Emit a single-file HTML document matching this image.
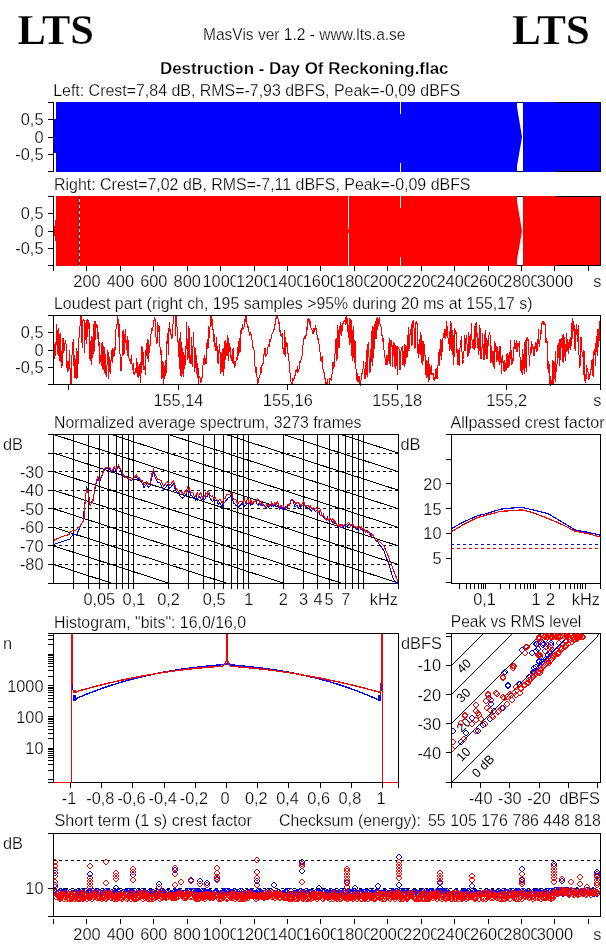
<!DOCTYPE html><html><head><meta charset="utf-8"><title>MasVis</title><style>html,body{margin:0;padding:0;background:#fff;overflow:hidden}svg{display:block}text{font-family:"Liberation Sans",Arial,sans-serif;stroke:#fff;stroke-width:0.25px}</style></head><body>
<svg width="606" height="946" viewBox="0 0 606 946">
<rect x="0" y="0" width="606" height="946" fill="#fff"/>
<text x="17.50" y="44" font-size="41.5" textLength="76.50" lengthAdjust="spacingAndGlyphs" font-weight="bold" style='font-family:"Liberation Serif", "Times New Roman", serif'>LTS</text>
<text x="512.00" y="44" font-size="41.5" textLength="78.00" lengthAdjust="spacingAndGlyphs" font-weight="bold" style='font-family:"Liberation Serif", "Times New Roman", serif'>LTS</text>
<text x="203.00" y="40" font-size="17.2" textLength="202.50" lengthAdjust="spacingAndGlyphs">MasVis ver 1.2 - www.lts.a.se</text>
<text x="160.00" y="74" font-size="16.5" textLength="288.50" lengthAdjust="spacingAndGlyphs" font-weight="bold">Destruction - Day Of Reckoning.flac</text>
<text x="53.20" y="96" font-size="17.2" textLength="407.00" lengthAdjust="spacingAndGlyphs">Left: Crest=7,84 dB, RMS=-7,93 dBFS, Peak=-0,09 dBFS</text>
<rect x="54" y="119" width="2" height="34" fill="#00f"/>
<rect x="56" y="102" width="544" height="70" fill="#00f"/>
<rect x="53" y="102" width="1" height="70" fill="#000"/>
<rect x="600" y="102" width="1" height="70" fill="#000"/>
<rect x="556" y="102" width="45" height="1" fill="#000"/>
<rect x="556" y="171" width="45" height="1" fill="#000"/>
<rect x="400" y="102" width="1" height="12" fill="#fff"/>
<rect x="400" y="163" width="1" height="9" fill="#fff"/>
<polygon points="517,102 523,102 523,172 517,172 517,166 522,137 517,107" fill="#fff"/>
<rect x="517" y="102" width="6" height="1" fill="#000"/>
<rect x="517" y="171" width="6" height="1" fill="#000"/>
<rect x="48" y="102" width="6" height="1" fill="#000"/>
<rect x="48" y="119" width="6" height="1" fill="#000"/>
<text x="43.50" y="125" font-size="17.2" text-anchor="end" textLength="22.71" lengthAdjust="spacingAndGlyphs">0,5</text>
<rect x="48" y="137" width="6" height="1" fill="#000"/>
<text x="43.50" y="143" font-size="17.2" text-anchor="end" textLength="9.09" lengthAdjust="spacingAndGlyphs">0</text>
<rect x="48" y="154" width="6" height="1" fill="#000"/>
<text x="43.50" y="160" font-size="17.2" text-anchor="end" textLength="28.16" lengthAdjust="spacingAndGlyphs">-0,5</text>
<rect x="48" y="171" width="6" height="1" fill="#000"/>
<text x="54.00" y="190" font-size="17.2" textLength="416.50" lengthAdjust="spacingAndGlyphs">Right: Crest=7,02 dB, RMS=-7,11 dBFS, Peak=-0,09 dBFS</text>
<rect x="55" y="220" width="1" height="21" fill="#f00"/>
<rect x="54" y="226" width="1" height="10" fill="#f00"/>
<rect x="56" y="196" width="544" height="70" fill="#f00"/>
<rect x="53" y="196" width="1" height="70" fill="#000"/>
<rect x="600" y="196" width="1" height="70" fill="#000"/>
<rect x="556" y="196" width="45" height="1" fill="#000"/>
<rect x="556" y="265" width="45" height="1" fill="#000"/>
<rect x="79" y="196" width="1" height="70" fill="#fff"/>
<rect x="79" y="196" width="1" height="3" fill="#000"/>
<rect x="79" y="202" width="1" height="3" fill="#000"/>
<rect x="79" y="208" width="1" height="3" fill="#000"/>
<rect x="79" y="214" width="1" height="3" fill="#000"/>
<rect x="79" y="220" width="1" height="3" fill="#000"/>
<rect x="79" y="226" width="1" height="3" fill="#000"/>
<rect x="79" y="232" width="1" height="3" fill="#000"/>
<rect x="79" y="238" width="1" height="3" fill="#000"/>
<rect x="79" y="244" width="1" height="3" fill="#000"/>
<rect x="79" y="250" width="1" height="3" fill="#000"/>
<rect x="79" y="256" width="1" height="3" fill="#000"/>
<rect x="79" y="262" width="1" height="3" fill="#000"/>
<rect x="348" y="196" width="1" height="33" fill="#fff"/>
<rect x="348" y="233" width="1" height="33" fill="#fff"/>
<rect x="400" y="196" width="1" height="12" fill="#fff"/>
<rect x="400" y="257" width="1" height="9" fill="#fff"/>
<polygon points="517,196 523,196 523,266 517,266 517,260 522,231 517,201" fill="#fff"/>
<rect x="517" y="196" width="6" height="1" fill="#000"/>
<rect x="517" y="265" width="6" height="1" fill="#000"/>
<rect x="48" y="196" width="6" height="1" fill="#000"/>
<rect x="48" y="213" width="6" height="1" fill="#000"/>
<text x="43.50" y="219" font-size="17.2" text-anchor="end" textLength="22.71" lengthAdjust="spacingAndGlyphs">0,5</text>
<rect x="48" y="231" width="6" height="1" fill="#000"/>
<text x="43.50" y="237" font-size="17.2" text-anchor="end" textLength="9.09" lengthAdjust="spacingAndGlyphs">0</text>
<rect x="48" y="248" width="6" height="1" fill="#000"/>
<text x="43.50" y="254" font-size="17.2" text-anchor="end" textLength="28.16" lengthAdjust="spacingAndGlyphs">-0,5</text>
<rect x="48" y="265" width="6" height="1" fill="#000"/>
<rect x="53" y="266" width="1" height="5" fill="#000"/>
<rect x="86" y="266" width="1" height="5" fill="#000"/>
<rect x="120" y="266" width="1" height="5" fill="#000"/>
<rect x="153" y="266" width="1" height="5" fill="#000"/>
<rect x="187" y="266" width="1" height="5" fill="#000"/>
<rect x="220" y="266" width="1" height="5" fill="#000"/>
<rect x="254" y="266" width="1" height="5" fill="#000"/>
<rect x="287" y="266" width="1" height="5" fill="#000"/>
<rect x="320" y="266" width="1" height="5" fill="#000"/>
<rect x="354" y="266" width="1" height="5" fill="#000"/>
<rect x="387" y="266" width="1" height="5" fill="#000"/>
<rect x="421" y="266" width="1" height="5" fill="#000"/>
<rect x="454" y="266" width="1" height="5" fill="#000"/>
<rect x="488" y="266" width="1" height="5" fill="#000"/>
<rect x="521" y="266" width="1" height="5" fill="#000"/>
<rect x="554" y="266" width="1" height="5" fill="#000"/>
<rect x="588" y="266" width="1" height="5" fill="#000"/>
<rect x="73.2986103125" y="274" width="27.762779374999997" height="14" fill="#fff"/>
<text x="86.93" y="287" font-size="17.2" text-anchor="middle" textLength="27.26" lengthAdjust="spacingAndGlyphs">200</text>
<rect x="106.7286103125" y="274" width="27.762779374999997" height="14" fill="#fff"/>
<text x="120.36" y="287" font-size="17.2" text-anchor="middle" textLength="27.26" lengthAdjust="spacingAndGlyphs">400</text>
<rect x="140.1586103125" y="274" width="27.762779374999997" height="14" fill="#fff"/>
<text x="153.79" y="287" font-size="17.2" text-anchor="middle" textLength="27.26" lengthAdjust="spacingAndGlyphs">600</text>
<rect x="173.5886103125" y="274" width="27.762779374999997" height="14" fill="#fff"/>
<text x="187.22" y="287" font-size="17.2" text-anchor="middle" textLength="27.26" lengthAdjust="spacingAndGlyphs">800</text>
<rect x="202.47481375" y="274" width="36.85037249999999" height="14" fill="#fff"/>
<text x="220.65" y="287" font-size="17.2" text-anchor="middle" textLength="36.35" lengthAdjust="spacingAndGlyphs">1000</text>
<rect x="235.90481375" y="274" width="36.85037249999999" height="14" fill="#fff"/>
<text x="254.08" y="287" font-size="17.2" text-anchor="middle" textLength="36.35" lengthAdjust="spacingAndGlyphs">1200</text>
<rect x="269.33481374999997" y="274" width="36.85037249999999" height="14" fill="#fff"/>
<text x="287.51" y="287" font-size="17.2" text-anchor="middle" textLength="36.35" lengthAdjust="spacingAndGlyphs">1400</text>
<rect x="302.76481375000003" y="274" width="36.85037249999999" height="14" fill="#fff"/>
<text x="320.94" y="287" font-size="17.2" text-anchor="middle" textLength="36.35" lengthAdjust="spacingAndGlyphs">1600</text>
<rect x="336.19481375" y="274" width="36.85037249999999" height="14" fill="#fff"/>
<text x="354.37" y="287" font-size="17.2" text-anchor="middle" textLength="36.35" lengthAdjust="spacingAndGlyphs">1800</text>
<rect x="369.62481375000004" y="274" width="36.85037249999999" height="14" fill="#fff"/>
<text x="387.80" y="287" font-size="17.2" text-anchor="middle" textLength="36.35" lengthAdjust="spacingAndGlyphs">2000</text>
<rect x="403.05481375" y="274" width="36.85037249999999" height="14" fill="#fff"/>
<text x="421.23" y="287" font-size="17.2" text-anchor="middle" textLength="36.35" lengthAdjust="spacingAndGlyphs">2200</text>
<rect x="436.48481374999994" y="274" width="36.85037249999999" height="14" fill="#fff"/>
<text x="454.66" y="287" font-size="17.2" text-anchor="middle" textLength="36.35" lengthAdjust="spacingAndGlyphs">2400</text>
<rect x="469.91481375" y="274" width="36.85037249999999" height="14" fill="#fff"/>
<text x="488.09" y="287" font-size="17.2" text-anchor="middle" textLength="36.35" lengthAdjust="spacingAndGlyphs">2600</text>
<rect x="503.34481374999996" y="274" width="36.85037249999999" height="14" fill="#fff"/>
<text x="521.52" y="287" font-size="17.2" text-anchor="middle" textLength="36.35" lengthAdjust="spacingAndGlyphs">2800</text>
<rect x="536.77481375" y="274" width="36.85037249999999" height="14" fill="#fff"/>
<text x="554.95" y="287" font-size="17.2" text-anchor="middle" textLength="36.35" lengthAdjust="spacingAndGlyphs">3000</text>
<text x="601.50" y="287" font-size="17.2" text-anchor="end" textLength="8.17" lengthAdjust="spacingAndGlyphs">s</text>
<text x="54.00" y="309" font-size="17.2" textLength="478.50" lengthAdjust="spacingAndGlyphs">Loudest part (right ch, 195 samples &gt;95% during 20 ms at 155,17 s)</text>
<g shape-rendering="crispEdges">
<polyline points="54.0,343.9 54.5,347.7 54.9,358.8 55.4,348.1 55.8,344.1 56.3,345.2 56.7,324.5 57.2,333.5 57.6,342.0 58.1,356.1 58.5,327.7 59.0,334.5 59.4,336.6 59.9,360.0 60.3,362.2 60.8,332.6 61.2,367.0 61.7,367.2 62.1,365.2 62.6,360.4 63.0,338.0 63.5,339.9 63.9,352.5 64.4,346.7 64.8,344.4 65.3,342.1 65.7,339.8 66.2,345.8 66.6,348.2 67.1,372.3 67.5,360.7 68.0,366.7 68.4,360.9 68.9,371.0 69.3,362.2 69.8,350.3 70.2,384.5 70.7,384.5 71.1,383.5 71.6,382.3 72.0,355.3 72.5,343.0 72.9,343.0 73.4,339.4 73.8,366.2 74.3,355.4 74.7,377.5 75.2,359.1 75.6,378.0 76.1,378.2 76.5,348.0 77.0,349.5 77.4,378.0 77.9,361.3 78.3,363.7 78.8,345.7 79.2,332.2 79.7,329.3 80.1,325.4 80.6,316.6 81.0,315.5 81.5,317.8 81.9,341.4 82.4,347.7 82.8,320.5 83.3,319.9 83.7,320.6 84.2,320.8 84.6,353.2 85.1,323.5 85.5,339.5 86.0,335.7 86.4,320.0 86.9,344.1 87.3,318.9 87.8,336.6 88.2,319.7 88.7,328.8 89.1,323.0 89.6,325.4 90.0,358.7 90.5,360.9 90.9,341.2 91.4,365.2 91.8,336.9 92.3,337.3 92.7,358.1 93.2,351.1 93.6,323.7 94.1,351.1 94.5,326.7 95.0,320.7 95.4,339.6 95.9,328.7 96.3,326.2 96.8,324.1 97.2,326.0 97.7,339.2 98.1,332.4 98.6,346.3 99.0,342.1 99.5,345.7 99.9,363.5 100.4,355.0 100.8,356.1 101.3,366.2 101.7,345.6 102.2,342.2 102.6,367.9 103.1,369.7 103.5,352.1 104.0,346.2 104.4,365.5 104.9,373.1 105.3,353.9 105.8,374.6 106.2,375.4 106.7,371.8 107.1,362.7 107.6,350.8 108.0,351.4 108.5,378.7 108.9,358.7 109.4,372.3 109.8,357.0 110.3,373.7 110.7,368.3 111.2,356.1 111.6,350.1 112.1,363.1 112.5,349.2 113.0,348.7 113.4,351.4 113.9,356.5 114.3,353.9 114.8,346.6 115.2,349.6 115.7,334.0 116.1,327.6 116.6,323.6 117.0,325.8 117.5,315.5 117.9,317.2 118.4,323.4 118.8,337.4 119.3,324.4 119.7,332.1 120.2,365.7 120.6,370.3 121.1,370.4 121.5,366.3 122.0,357.9 122.4,332.1 122.9,331.1 123.3,330.6 123.8,354.7 124.2,352.8 124.7,353.0 125.1,328.9 125.6,342.6 126.0,341.8 126.5,350.4 126.9,340.0 127.4,355.6 127.8,336.2 128.3,346.0 128.7,355.2 129.2,359.4 129.6,360.3 130.1,360.0 130.5,362.6 131.0,364.1 131.4,355.0 131.9,362.6 132.3,368.7 132.8,370.3 133.2,363.2 133.7,372.4 134.1,374.9 134.6,372.2 135.0,373.4 135.5,368.2 135.9,371.2 136.4,372.1 136.8,357.7 137.3,368.0 137.7,376.2 138.2,376.3 138.6,377.8 139.1,363.7 139.5,375.8 140.0,371.8 140.4,362.5 140.9,383.1 141.3,345.7 141.8,373.1 142.2,347.1 142.7,364.0 143.1,363.4 143.6,351.9 144.0,370.1 144.5,365.7 144.9,368.1 145.4,375.0 145.8,354.5 146.2,344.9 146.7,343.5 147.1,358.7 147.6,342.7 148.0,338.9 148.5,361.6 148.9,356.2 149.4,344.6 149.8,352.5 150.3,336.4 150.7,340.0 151.2,330.8 151.6,327.8 152.1,329.5 152.5,330.0 153.0,327.3 153.4,320.8 153.9,320.9 154.3,320.0 154.8,317.5 155.2,321.0 155.7,334.6 156.1,338.1 156.6,340.3 157.0,343.6 157.5,330.4 157.9,322.3 158.4,331.8 158.8,327.9 159.3,325.7 159.7,337.2 160.2,353.1 160.6,354.0 161.1,349.7 161.5,373.6 162.0,378.9 162.4,373.0 162.9,360.9 163.3,365.4 163.8,384.5 164.2,366.5 164.7,378.8 165.1,374.7 165.6,360.3 166.0,373.7 166.5,344.9 166.9,340.6 167.4,344.2 167.8,332.9 168.3,355.1 168.7,333.1 169.2,324.7 169.6,321.9 170.1,334.3 170.5,329.4 171.0,334.6 171.4,335.0 171.9,339.2 172.3,336.4 172.8,333.1 173.2,315.5 173.7,315.6 174.1,315.5 174.6,315.5 175.0,315.5 175.5,335.6 175.9,315.5 176.4,315.5 176.8,317.3 177.3,341.3 177.7,337.8 178.2,344.3 178.6,356.7 179.1,338.3 179.5,362.5 180.0,368.9 180.4,331.6 180.9,375.2 181.3,377.0 181.8,342.2 182.2,353.7 182.7,364.4 183.1,376.6 183.6,352.1 184.0,354.5 184.5,368.6 184.9,365.9 185.4,363.3 185.8,345.9 186.3,348.7 186.7,322.2 187.2,348.6 187.6,360.2 188.1,354.2 188.5,357.5 189.0,326.3 189.4,362.3 189.9,362.8 190.3,363.3 190.8,354.6 191.2,364.3 191.7,336.8 192.1,365.8 192.6,367.3 193.0,346.7 193.5,332.4 193.9,344.7 194.4,356.5 194.8,371.7 195.3,363.4 195.7,348.5 196.2,373.6 196.6,354.9 197.1,377.6 197.5,363.3 198.0,367.6 198.4,383.8 198.9,378.2 199.3,376.9 199.8,377.2 200.2,379.4 200.7,381.6 201.1,380.3 201.6,381.2 202.0,376.6 202.5,377.8 202.9,367.3 203.4,357.8 203.8,362.3 204.3,355.5 204.7,364.7 205.2,363.2 205.6,358.1 206.1,364.1 206.5,356.0 207.0,343.0 207.4,338.9 207.9,349.2 208.3,346.2 208.8,326.4 209.2,337.8 209.7,334.8 210.1,325.3 210.6,321.2 211.0,315.5 211.5,321.2 211.9,324.5 212.4,330.3 212.8,319.1 213.3,341.9 213.7,337.3 214.2,334.3 214.6,347.2 215.1,345.1 215.5,344.3 216.0,351.4 216.4,337.2 216.9,346.6 217.3,346.5 217.8,361.9 218.2,363.6 218.7,350.2 219.1,353.1 219.6,343.9 220.0,351.4 220.5,369.7 220.9,373.6 221.4,365.4 221.8,356.1 222.3,348.6 222.7,363.5 223.2,376.2 223.6,348.0 224.1,369.1 224.5,342.2 225.0,340.9 225.4,339.6 225.9,359.8 226.3,346.2 226.8,343.5 227.2,356.0 227.7,334.8 228.1,360.7 228.6,338.2 229.0,352.5 229.5,344.8 229.9,343.4 230.4,357.3 230.8,357.9 231.3,356.6 231.7,358.3 232.2,362.5 232.6,349.4 233.1,349.2 233.5,361.6 234.0,364.4 234.4,361.0 234.9,367.8 235.3,363.0 235.8,365.5 236.2,357.1 236.7,358.1 237.1,359.2 237.6,359.6 238.0,347.0 238.5,341.4 238.9,356.3 239.4,338.5 239.8,353.2 240.3,351.0 240.7,332.2 241.2,328.4 241.6,333.5 242.1,329.2 242.5,324.1 243.0,329.5 243.4,326.9 243.9,328.6 244.3,321.9 244.8,320.2 245.2,320.9 245.7,315.5 246.1,315.5 246.6,318.1 247.0,323.8 247.5,328.3 247.9,325.6 248.4,327.7 248.8,331.8 249.3,333.0 249.7,336.1 250.2,334.7 250.6,333.5 251.1,334.6 251.5,336.6 252.0,339.9 252.4,343.8 252.9,347.8 253.3,347.7 253.8,349.0 254.2,351.2 254.7,359.8 255.1,367.8 255.6,372.5 256.0,369.1 256.5,367.1 256.9,376.8 257.4,378.4 257.8,384.0 258.3,381.4 258.7,379.3 259.2,377.9 259.6,375.3 260.1,375.1 260.5,367.5 261.0,370.2 261.4,372.9 261.9,366.0 262.3,364.4 262.8,366.2 263.2,362.6 263.7,357.3 264.1,353.0 264.6,353.9 265.0,348.3 265.5,354.0 265.9,355.9 266.4,355.2 266.8,355.7 267.3,352.8 267.7,348.1 268.2,346.7 268.6,344.3 269.1,346.5 269.5,345.2 270.0,339.5 270.4,340.6 270.9,339.2 271.3,337.9 271.8,336.2 272.2,332.6 272.7,333.0 273.1,332.0 273.6,330.8 274.0,329.5 274.5,328.2 274.9,324.8 275.4,324.2 275.8,319.2 276.3,317.4 276.7,316.6 277.2,315.5 277.6,315.5 278.1,319.6 278.5,322.9 279.0,321.7 279.4,329.6 279.9,332.2 280.3,330.2 280.8,335.8 281.2,336.3 281.7,336.6 282.1,333.1 282.6,348.9 283.0,347.9 283.5,349.7 283.9,353.5 284.4,355.3 284.8,330.4 285.3,346.2 285.7,356.6 286.2,342.0 286.6,346.6 287.1,343.2 287.5,346.8 288.0,353.5 288.4,354.0 288.9,357.6 289.3,368.2 289.8,371.9 290.2,374.7 290.7,381.4 291.1,382.7 291.6,384.5 292.0,384.5 292.5,384.5 292.9,379.1 293.4,379.2 293.8,380.5 294.3,374.6 294.7,378.8 295.2,373.7 295.6,373.3 296.1,369.4 296.5,370.3 297.0,371.9 297.4,365.9 297.9,372.9 298.3,370.3 298.8,369.1 299.2,368.3 299.7,364.2 300.1,360.1 300.6,361.5 301.0,360.4 301.5,355.8 301.9,357.3 302.4,352.8 302.8,346.0 303.3,342.9 303.7,339.9 304.2,337.2 304.6,338.2 305.1,335.3 305.5,337.4 306.0,335.9 306.4,327.3 306.9,329.8 307.3,329.3 307.8,320.5 308.2,321.3 308.7,319.1 309.1,319.4 309.6,324.6 310.0,321.3 310.5,322.4 310.9,327.6 311.4,329.1 311.8,327.8 312.3,332.7 312.7,333.8 313.2,333.9 313.6,328.2 314.1,331.0 314.5,331.2 315.0,328.6 315.4,325.4 315.9,329.8 316.3,327.9 316.8,331.8 317.2,337.7 317.7,339.2 318.1,338.2 318.6,342.5 319.0,343.5 319.5,349.5 319.9,350.6 320.4,358.0 320.8,360.2 321.3,362.1 321.7,358.9 322.2,356.1 322.6,365.1 323.1,370.2 323.5,372.4 324.0,372.0 324.4,372.2 324.9,377.7 325.3,380.8 325.8,383.4 326.2,384.0 326.7,384.5 327.1,381.4 327.6,379.5 328.0,384.5 328.5,384.5 328.9,384.5 329.4,381.9 329.8,378.6 330.3,378.3 330.7,379.3 331.2,381.0 331.6,374.8 332.1,373.5 332.5,366.2 333.0,361.6 333.4,369.3 333.9,366.4 334.3,366.4 334.8,355.1 335.2,353.8 335.7,339.7 336.1,339.1 336.6,356.0 337.0,361.2 337.5,326.3 337.9,325.2 338.4,347.7 338.8,344.6 339.3,348.1 339.7,326.4 340.2,328.0 340.6,322.0 341.1,336.3 341.5,325.6 342.0,326.8 342.4,330.6 342.9,324.1 343.3,322.1 343.8,321.9 344.2,321.8 344.7,320.3 345.1,320.1 345.6,317.1 346.0,324.7 346.5,315.5 346.9,315.8 347.4,325.3 347.8,328.0 348.3,337.9 348.7,325.5 349.2,345.0 349.6,318.7 350.1,319.2 350.5,342.5 351.0,320.2 351.4,323.0 351.9,353.4 352.3,361.1 352.8,335.5 353.2,326.5 353.7,335.7 354.1,363.2 354.6,350.2 355.0,340.0 355.5,365.1 355.9,366.3 356.4,378.1 356.8,379.0 357.3,380.0 357.7,373.0 358.2,381.6 358.6,377.1 359.1,376.3 359.5,378.0 360.0,383.9 360.4,384.5 360.9,380.5 361.3,377.4 361.8,374.8 362.2,372.4 362.7,370.6 363.1,368.5 363.6,361.1 364.0,369.2 364.5,378.8 364.9,371.4 365.4,379.2 365.8,370.9 366.3,350.2 366.7,370.6 367.2,376.7 367.6,354.3 368.1,341.9 368.5,351.9 369.0,357.4 369.4,359.4 369.9,373.0 370.3,368.9 370.8,371.7 371.2,331.2 371.7,347.7 372.1,366.0 372.6,327.3 373.0,326.3 373.5,348.8 373.9,357.7 374.4,324.4 374.8,339.6 375.3,321.3 375.7,339.3 376.2,337.9 376.6,322.4 377.1,317.3 377.5,330.2 378.0,326.3 378.4,325.9 378.9,320.7 379.3,316.8 379.8,322.5 380.2,325.2 380.7,326.0 381.1,327.8 381.6,332.1 382.0,335.8 382.5,341.9 382.9,335.4 383.4,347.7 383.8,347.8 384.3,353.6 384.7,356.5 385.2,359.5 385.6,362.4 386.1,365.0 386.5,363.0 387.0,354.8 387.4,361.0 387.9,365.4 388.3,351.9 388.8,348.5 389.2,338.2 389.7,358.3 390.1,365.9 390.6,353.1 391.0,340.2 391.5,340.5 391.9,347.2 392.4,344.6 392.8,366.9 393.3,342.4 393.7,345.1 394.2,343.4 394.6,358.3 395.1,368.9 395.5,348.3 396.0,345.4 396.4,352.8 396.9,362.0 397.3,374.8 397.8,347.4 398.2,347.9 398.7,348.4 399.1,348.9 399.6,349.4 400.0,370.4 400.5,369.4 400.9,352.1 401.4,347.4 401.8,347.3 402.3,345.6 402.7,364.6 403.2,351.1 403.6,356.4 404.1,367.3 404.5,356.0 405.0,344.2 405.4,363.5 405.9,362.0 406.3,346.6 406.8,347.8 407.2,357.3 407.7,346.9 408.1,331.9 408.6,327.3 409.0,350.5 409.5,349.5 409.9,334.4 410.4,334.5 410.8,333.1 411.3,324.0 411.7,346.4 412.2,344.4 412.6,325.8 413.1,320.3 413.5,327.9 414.0,327.9 414.4,347.0 414.9,348.7 415.3,344.6 415.8,323.0 416.2,321.5 416.7,324.2 417.1,323.0 417.6,353.3 418.0,344.4 418.5,348.8 418.9,357.8 419.4,339.1 419.8,345.2 420.3,331.6 420.7,354.8 421.2,334.6 421.6,357.8 422.1,363.6 422.5,364.4 423.0,341.2 423.4,342.8 423.9,360.7 424.3,344.5 424.8,354.0 425.2,356.8 425.7,375.1 426.1,370.4 426.6,377.5 427.0,360.5 427.5,377.0 427.9,366.4 428.4,382.1 428.8,357.5 429.3,379.8 429.7,363.6 430.2,372.2 430.6,374.5 431.1,365.4 431.5,375.3 432.0,374.3 432.4,374.4 432.9,372.7 433.3,375.0 433.8,378.3 434.2,381.1 434.7,377.8 435.1,378.3 435.6,371.4 436.0,369.5 436.5,368.3 436.9,379.0 437.4,377.8 437.8,374.3 438.3,352.0 438.7,353.3 439.2,365.5 439.6,349.1 440.1,355.5 440.5,351.6 441.0,339.3 441.4,359.6 441.9,357.1 442.3,337.9 442.8,343.8 443.2,334.1 443.7,333.7 444.1,338.1 444.6,330.8 445.0,329.4 445.5,330.2 445.9,339.3 446.4,326.4 446.8,320.9 447.3,337.7 447.7,326.3 448.2,344.3 448.6,339.3 449.1,345.2 449.5,330.8 450.0,350.5 450.4,322.2 450.9,323.0 451.3,323.8 451.8,344.7 452.2,355.4 452.7,330.1 453.1,336.9 453.6,365.1 454.0,358.4 454.5,329.2 454.9,329.7 455.4,330.2 455.8,330.7 456.3,337.7 456.7,331.8 457.2,365.2 457.6,349.8 458.1,350.5 458.5,357.4 459.0,364.7 459.4,365.9 459.9,349.8 460.3,343.0 460.8,344.7 461.2,335.8 461.7,340.2 462.1,355.7 462.6,363.2 463.0,362.7 463.5,359.5 463.9,355.5 464.4,335.3 464.8,337.3 465.3,339.1 465.7,350.9 466.2,335.0 466.6,339.2 467.1,345.0 467.5,355.5 468.0,356.6 468.4,351.2 468.9,331.6 469.3,348.7 469.8,353.1 470.2,345.6 470.7,334.1 471.1,336.2 471.6,322.9 472.0,340.2 472.5,347.9 472.9,339.7 473.4,344.7 473.8,348.8 474.3,326.4 474.7,350.1 475.2,346.1 475.6,325.7 476.1,322.1 476.5,322.4 477.0,337.3 477.4,347.5 477.9,333.3 478.3,355.4 478.8,338.2 479.2,338.3 479.7,324.7 480.1,358.0 480.6,328.5 481.0,359.3 481.5,349.0 481.9,347.4 482.4,347.1 482.8,332.9 483.3,359.1 483.7,359.1 484.2,359.1 484.6,353.8 485.1,329.7 485.5,355.0 486.0,337.9 486.4,358.9 486.9,337.7 487.3,346.3 487.8,358.8 488.2,336.1 488.7,345.1 489.1,332.7 489.6,333.4 490.0,334.2 490.5,361.3 490.9,362.4 491.4,361.7 491.8,346.0 492.3,357.6 492.7,363.9 493.2,351.5 493.6,357.8 494.1,369.0 494.5,342.2 495.0,343.0 495.4,352.4 495.9,344.6 496.3,350.7 496.8,361.6 497.2,347.5 497.7,359.5 498.1,350.8 498.6,361.8 499.0,354.0 499.5,365.3 499.9,346.1 500.4,363.0 500.8,345.6 501.3,374.0 501.7,367.7 502.2,359.8 502.6,355.2 503.1,362.8 503.5,367.2 504.0,370.9 504.4,371.3 504.9,360.0 505.3,370.7 505.8,370.3 506.2,369.8 506.7,356.9 507.1,353.1 507.6,357.1 508.0,367.8 508.5,359.5 508.9,356.2 509.4,351.6 509.8,365.9 510.3,349.9 510.7,340.3 511.2,356.2 511.6,363.9 512.1,363.4 512.5,357.7 513.0,361.3 513.4,347.0 513.9,352.9 514.3,340.1 514.8,340.1 515.2,345.1 515.7,348.9 516.1,346.7 516.6,340.4 517.0,351.7 517.5,351.2 517.9,343.3 518.4,343.4 518.8,346.7 519.3,342.1 519.7,341.3 520.2,366.5 520.6,370.1 521.1,370.1 521.5,373.1 522.0,359.9 522.4,375.2 522.9,348.6 523.3,368.4 523.8,363.8 524.2,374.3 524.7,342.3 525.1,367.5 525.6,340.2 526.0,353.6 526.5,371.7 526.9,338.5 527.4,338.1 527.8,340.0 528.3,342.4 528.7,338.9 529.2,364.3 529.6,365.9 530.1,352.4 530.5,347.4 531.0,353.7 531.4,342.0 531.9,342.5 532.3,348.0 532.8,347.0 533.2,348.0 533.7,353.2 534.1,356.3 534.6,352.3 535.0,345.7 535.5,342.4 535.9,348.5 536.4,351.6 536.8,343.3 537.3,351.0 537.7,339.2 538.2,338.7 538.6,329.3 539.1,346.6 539.5,345.7 540.0,339.7 540.4,337.8 540.9,330.2 541.3,334.0 541.8,325.4 542.2,320.8 542.7,324.2 543.1,321.3 543.6,324.5 544.0,325.0 544.5,323.2 544.9,322.3 545.4,330.9 545.8,342.3 546.3,342.2 546.7,337.8 547.2,343.0 547.6,349.9 548.1,373.0 548.5,361.4 549.0,363.6 549.4,364.7 549.9,384.0 550.3,384.5 550.8,375.7 551.2,384.5 551.7,384.5 552.1,384.5 552.6,363.1 553.0,360.5 553.5,384.5 553.9,383.5 554.4,362.1 554.8,373.6 555.3,351.3 555.7,382.1 556.2,366.6 556.6,365.3 557.1,364.1 557.5,345.5 558.0,359.1 558.4,348.4 558.9,343.3 559.3,366.0 559.8,339.6 560.2,339.7 560.7,359.7 561.1,341.4 561.6,337.6 562.0,348.2 562.5,335.0 562.9,362.1 563.4,362.5 563.8,333.7 564.3,342.3 564.7,356.6 565.2,344.2 565.6,360.8 566.1,350.5 566.5,333.0 567.0,344.7 567.4,351.1 567.9,339.4 568.3,348.1 568.8,354.3 569.2,343.6 569.7,339.5 570.1,350.3 570.6,346.3 571.0,337.5 571.5,345.6 571.9,323.1 572.4,338.5 572.8,318.1 573.3,331.3 573.7,320.6 574.2,326.9 574.6,343.9 575.1,349.5 575.5,351.1 576.0,328.7 576.4,335.4 576.9,324.4 577.3,340.7 577.8,341.5 578.2,325.1 578.7,343.8 579.1,357.7 579.6,354.9 580.0,367.5 580.5,340.6 580.9,336.7 581.4,338.6 581.8,349.8 582.3,354.0 582.7,356.7 583.2,350.0 583.6,375.3 584.1,351.1 584.5,380.8 585.0,375.0 585.4,373.7 585.9,383.2 586.3,368.0 586.8,365.6 587.2,369.2 587.7,370.4 588.1,372.8 588.6,379.1 589.0,378.8 589.5,375.0 589.9,375.9 590.4,369.3 590.8,374.6 591.3,363.6 591.7,361.6 592.2,359.4 592.6,370.4 593.1,376.9 593.5,375.7 594.0,351.4 594.4,354.5 594.9,351.4 595.3,342.8 595.8,365.6 596.2,336.3 596.7,342.9 597.1,354.4 597.6,356.2 598.0,329.0 598.5,332.2 598.9,346.9 599.4,321.4 599.8,321.4" fill="none" stroke="#f00" stroke-width="1"/>
</g>
<rect x="53" y="315" width="1" height="70" fill="#000"/>
<rect x="48" y="315" width="553" height="1" fill="#000"/>
<rect x="48" y="384" width="553" height="1" fill="#000"/>
<rect x="600" y="315" width="1" height="75" fill="#000"/>
<rect x="48" y="332" width="6" height="1" fill="#000"/>
<text x="43.50" y="338" font-size="17.2" text-anchor="end" textLength="22.71" lengthAdjust="spacingAndGlyphs">0,5</text>
<rect x="48" y="350" width="6" height="1" fill="#000"/>
<text x="43.50" y="356" font-size="17.2" text-anchor="end" textLength="9.09" lengthAdjust="spacingAndGlyphs">0</text>
<rect x="48" y="367" width="6" height="1" fill="#000"/>
<text x="43.50" y="373" font-size="17.2" text-anchor="end" textLength="28.16" lengthAdjust="spacingAndGlyphs">-0,5</text>
<rect x="68" y="385" width="1" height="5" fill="#000"/>
<rect x="178" y="385" width="1" height="5" fill="#000"/>
<text x="178.40" y="406" font-size="17.2" text-anchor="middle" textLength="49.98" lengthAdjust="spacingAndGlyphs">155,14</text>
<rect x="287" y="385" width="1" height="5" fill="#000"/>
<text x="287.80" y="406" font-size="17.2" text-anchor="middle" textLength="49.98" lengthAdjust="spacingAndGlyphs">155,16</text>
<rect x="397" y="385" width="1" height="5" fill="#000"/>
<text x="397.20" y="406" font-size="17.2" text-anchor="middle" textLength="49.98" lengthAdjust="spacingAndGlyphs">155,18</text>
<rect x="506" y="385" width="1" height="5" fill="#000"/>
<text x="506.60" y="406" font-size="17.2" text-anchor="middle" textLength="40.89" lengthAdjust="spacingAndGlyphs">155,2</text>
<text x="601.50" y="406" font-size="17.2" text-anchor="end" textLength="8.17" lengthAdjust="spacingAndGlyphs">s</text>
<text x="54.00" y="428" font-size="17.2" textLength="307.50" lengthAdjust="spacingAndGlyphs">Normalized average spectrum, 3273 frames</text>
<g shape-rendering="crispEdges">
<clipPath id="cs"><rect x="53" y="434" width="346" height="150"/></clipPath>
<line x1="53" y1="453.5" x2="398" y2="453.5" stroke="#000" stroke-width="1" stroke-dasharray="3 3"/>
<rect x="48" y="453" width="6" height="1" fill="#000"/>
<rect x="396" y="453" width="3" height="1" fill="#000"/>
<line x1="53" y1="471.5" x2="398" y2="471.5" stroke="#000" stroke-width="1" stroke-dasharray="3 3"/>
<rect x="48" y="471" width="6" height="1" fill="#000"/>
<rect x="396" y="471" width="3" height="1" fill="#000"/>
<line x1="53" y1="490.5" x2="398" y2="490.5" stroke="#000" stroke-width="1" stroke-dasharray="3 3"/>
<rect x="48" y="490" width="6" height="1" fill="#000"/>
<rect x="396" y="490" width="3" height="1" fill="#000"/>
<line x1="53" y1="508.5" x2="398" y2="508.5" stroke="#000" stroke-width="1" stroke-dasharray="3 3"/>
<rect x="48" y="508" width="6" height="1" fill="#000"/>
<rect x="396" y="508" width="3" height="1" fill="#000"/>
<line x1="53" y1="527.5" x2="398" y2="527.5" stroke="#000" stroke-width="1" stroke-dasharray="3 3"/>
<rect x="48" y="527" width="6" height="1" fill="#000"/>
<rect x="396" y="527" width="3" height="1" fill="#000"/>
<line x1="53" y1="545.5" x2="398" y2="545.5" stroke="#000" stroke-width="1" stroke-dasharray="3 3"/>
<rect x="48" y="545" width="6" height="1" fill="#000"/>
<rect x="396" y="545" width="3" height="1" fill="#000"/>
<line x1="53" y1="564.5" x2="398" y2="564.5" stroke="#000" stroke-width="1" stroke-dasharray="3 3"/>
<rect x="48" y="564" width="6" height="1" fill="#000"/>
<rect x="396" y="564" width="3" height="1" fill="#000"/>
<rect x="48" y="434" width="6" height="1" fill="#000"/>
<rect x="48" y="583" width="6" height="1" fill="#000"/>
<rect x="73" y="434" width="1" height="155" fill="#000"/>
<rect x="88" y="434" width="1" height="155" fill="#000"/>
<rect x="99" y="434" width="1" height="155" fill="#000"/>
<rect x="108" y="434" width="1" height="155" fill="#000"/>
<rect x="116" y="434" width="1" height="155" fill="#000"/>
<rect x="122" y="434" width="1" height="155" fill="#000"/>
<rect x="128" y="434" width="1" height="155" fill="#000"/>
<rect x="133" y="434" width="1" height="155" fill="#000"/>
<rect x="168" y="434" width="1" height="155" fill="#000"/>
<rect x="188" y="434" width="1" height="155" fill="#000"/>
<rect x="203" y="434" width="1" height="155" fill="#000"/>
<rect x="214" y="434" width="1" height="155" fill="#000"/>
<rect x="223" y="434" width="1" height="155" fill="#000"/>
<rect x="231" y="434" width="1" height="155" fill="#000"/>
<rect x="237" y="434" width="1" height="155" fill="#000"/>
<rect x="243" y="434" width="1" height="155" fill="#000"/>
<rect x="248" y="434" width="1" height="155" fill="#000"/>
<rect x="283" y="434" width="1" height="155" fill="#000"/>
<rect x="303" y="434" width="1" height="155" fill="#000"/>
<rect x="317" y="434" width="1" height="155" fill="#000"/>
<rect x="329" y="434" width="1" height="155" fill="#000"/>
<rect x="338" y="434" width="1" height="155" fill="#000"/>
<rect x="345" y="434" width="1" height="155" fill="#000"/>
<rect x="352" y="434" width="1" height="155" fill="#000"/>
<rect x="358" y="434" width="1" height="155" fill="#000"/>
<rect x="363" y="434" width="1" height="155" fill="#000"/>
<g clip-path="url(#cs)">
<line x1="-406.00" y1="434.5" x2="194.00" y2="628.36" stroke="#000" stroke-width="1"/>
<line x1="-348.55" y1="434.5" x2="251.45" y2="628.36" stroke="#000" stroke-width="1"/>
<line x1="-291.10" y1="434.5" x2="308.90" y2="628.36" stroke="#000" stroke-width="1"/>
<line x1="-233.65" y1="434.5" x2="366.35" y2="628.36" stroke="#000" stroke-width="1"/>
<line x1="-176.20" y1="434.5" x2="423.80" y2="628.36" stroke="#000" stroke-width="1"/>
<line x1="-118.75" y1="434.5" x2="481.25" y2="628.36" stroke="#000" stroke-width="1"/>
<line x1="-61.30" y1="434.5" x2="538.70" y2="628.36" stroke="#000" stroke-width="1"/>
<line x1="-3.85" y1="434.5" x2="596.15" y2="628.36" stroke="#000" stroke-width="1"/>
<line x1="53.60" y1="434.5" x2="653.60" y2="628.36" stroke="#000" stroke-width="1"/>
<line x1="111.05" y1="434.5" x2="711.05" y2="628.36" stroke="#000" stroke-width="1"/>
<line x1="168.50" y1="434.5" x2="768.50" y2="628.36" stroke="#000" stroke-width="1"/>
<line x1="225.95" y1="434.5" x2="825.95" y2="628.36" stroke="#000" stroke-width="1"/>
<line x1="283.40" y1="434.5" x2="883.40" y2="628.36" stroke="#000" stroke-width="1"/>
<line x1="340.85" y1="434.5" x2="940.85" y2="628.36" stroke="#000" stroke-width="1"/>
<line x1="398.30" y1="434.5" x2="998.30" y2="628.36" stroke="#000" stroke-width="1"/>
<line x1="455.75" y1="434.5" x2="1055.75" y2="628.36" stroke="#000" stroke-width="1"/>
</g>
</g>
<rect x="53" y="434" width="1" height="150" fill="#000"/>
<rect x="398" y="434" width="1" height="155" fill="#000"/>
<rect x="53" y="434" width="346" height="1" fill="#000"/>
<rect x="53" y="583" width="346" height="1" fill="#000"/>
<text x="3.00" y="450" font-size="17.2" textLength="19.99" lengthAdjust="spacingAndGlyphs">dB</text>
<text x="43.50" y="477.62" font-size="17.2" text-anchor="end" textLength="23.62" lengthAdjust="spacingAndGlyphs">-30</text>
<text x="43.50" y="496.18" font-size="17.2" text-anchor="end" textLength="23.62" lengthAdjust="spacingAndGlyphs">-40</text>
<text x="43.50" y="514.74" font-size="17.2" text-anchor="end" textLength="23.62" lengthAdjust="spacingAndGlyphs">-50</text>
<text x="43.50" y="533.3" font-size="17.2" text-anchor="end" textLength="23.62" lengthAdjust="spacingAndGlyphs">-60</text>
<text x="43.50" y="551.86" font-size="17.2" text-anchor="end" textLength="23.62" lengthAdjust="spacingAndGlyphs">-70</text>
<text x="43.50" y="570.4200000000001" font-size="17.2" text-anchor="end" textLength="23.62" lengthAdjust="spacingAndGlyphs">-80</text>
<text x="99.32" y="605" font-size="17.2" text-anchor="middle" textLength="31.80" lengthAdjust="spacingAndGlyphs">0,05</text>
<text x="133.91" y="605" font-size="17.2" text-anchor="middle" textLength="22.71" lengthAdjust="spacingAndGlyphs">0,1</text>
<text x="168.50" y="605" font-size="17.2" text-anchor="middle" textLength="22.71" lengthAdjust="spacingAndGlyphs">0,2</text>
<text x="214.22" y="605" font-size="17.2" text-anchor="middle" textLength="22.71" lengthAdjust="spacingAndGlyphs">0,5</text>
<text x="248.81" y="605" font-size="17.2" text-anchor="middle" textLength="9.09" lengthAdjust="spacingAndGlyphs">1</text>
<text x="283.40" y="605" font-size="17.2" text-anchor="middle" textLength="9.09" lengthAdjust="spacingAndGlyphs">2</text>
<text x="303.63" y="605" font-size="17.2" text-anchor="middle" textLength="9.09" lengthAdjust="spacingAndGlyphs">3</text>
<text x="317.99" y="605" font-size="17.2" text-anchor="middle" textLength="9.09" lengthAdjust="spacingAndGlyphs">4</text>
<text x="329.12" y="605" font-size="17.2" text-anchor="middle" textLength="9.09" lengthAdjust="spacingAndGlyphs">5</text>
<text x="345.91" y="605" font-size="17.2" text-anchor="middle" textLength="9.09" lengthAdjust="spacingAndGlyphs">7</text>
<text x="398.00" y="605" font-size="17.2" text-anchor="end" textLength="28.14" lengthAdjust="spacingAndGlyphs">kHz</text>
<g clip-path="url(#cs)" shape-rendering="crispEdges">
<polyline points="53.6,544.4 69.8,539.1 73.1,534.2 76.4,535.0 83.0,521.0 84.7,504.5 86.6,487.6 88.5,492.0 89.6,502.8 92.5,501.0 94.5,492.0 96.0,484.0 97.9,477.9 99.5,482.0 101.2,477.9 102.8,473.4 104.5,470.5 106.9,468.5 109.4,468.8 111.9,473.0 114.4,468.0 116.0,471.0 118.5,466.4 121.0,471.3 123.4,476.3 124.8,477.2 126.2,477.5 127.6,478.7 129.2,479.9 130.9,480.4 132.3,480.0 133.6,477.3 135.0,477.9 136.4,476.6 137.7,479.5 139.1,478.7 140.8,480.3 142.4,483.5 144.0,487.7 145.4,485.3 146.9,484.7 148.4,487.3 149.9,486.7 151.9,476.8 153.5,472.3 155.4,477.8 157.8,482.8 159.8,482.8 161.1,485.0 162.5,488.5 163.8,489.7 165.8,487.1 167.7,484.7 169.7,488.7 171.7,485.7 173.7,483.7 175.6,490.7 176.9,492.8 178.3,492.8 179.6,495.6 180.9,496.7 182.3,498.1 183.6,497.6 184.9,495.4 186.2,494.1 187.5,490.7 188.5,492.7 189.5,491.2 190.5,495.5 191.5,495.6 192.8,497.3 194.1,497.4 195.4,499.6 196.4,496.7 197.4,499.7 198.4,497.2 199.4,496.6 200.4,498.3 201.4,499.8 202.4,499.8 203.4,499.6 204.6,500.0 205.9,496.1 207.1,496.4 208.3,493.6 209.3,495.4 210.3,499.6 211.3,499.6 212.6,501.6 213.9,498.5 215.2,500.6 216.2,499.5 217.2,500.3 218.2,504.2 219.2,502.6 220.2,503.6 221.2,505.8 222.2,506.5 223.6,503.2 225.1,501.6 226.3,500.4 227.5,498.7 228.6,497.3 229.8,497.2 231.0,495.6 232.0,498.5 233.0,500.6 234.0,503.6 235.0,503.9 236.0,506.2 237.0,505.5 238.0,506.8 239.0,507.2 240.0,505.5 241.0,504.5 242.2,502.8 243.4,505.7 244.5,506.0 245.7,505.5 246.9,503.5 247.9,503.9 248.9,504.6 249.9,502.5 250.9,505.3 251.9,504.2 252.9,504.0 254.0,502.3 255.1,500.6 256.2,501.8 257.2,504.1 258.3,505.3 259.3,502.0 260.3,505.8 261.4,504.7 262.4,505.8 263.5,504.4 264.5,505.2 265.6,507.4 266.6,508.0 267.7,504.5 268.7,507.2 269.8,506.8 270.8,504.2 271.8,506.6 272.8,504.2 273.8,506.1 274.8,503.8 276.0,506.8 277.3,505.5 278.5,506.3 279.7,509.5 281.0,507.4 282.2,509.3 283.4,507.0 284.6,508.8 285.9,505.9 287.1,507.5 288.1,504.8 289.1,504.4 290.1,504.0 291.1,500.7 292.1,500.9 293.3,500.7 294.6,506.1 295.8,506.3 297.0,505.3 298.3,508.0 299.5,505.8 300.5,507.4 301.5,505.0 302.5,505.2 303.5,505.3 304.5,505.1 305.7,506.7 306.9,507.4 308.2,508.1 309.4,508.8 310.4,509.6 311.4,511.3 312.4,509.6 313.4,509.5 314.4,510.0 315.6,511.6 316.9,510.1 318.1,511.0 319.3,512.5 320.3,515.9 321.3,515.1 322.3,516.4 323.3,515.3 324.3,518.7 325.4,518.7 326.4,519.8 327.5,517.6 328.5,520.6 329.6,521.1 330.6,518.9 331.7,521.2 332.8,522.5 333.8,522.4 334.9,524.1 335.9,523.3 337.0,525.6 338.0,526.5 339.1,526.1 340.2,524.0 341.2,524.1 342.3,526.9 343.3,528.2 344.4,525.0 345.4,525.9 346.5,526.1 347.5,526.3 348.6,524.9 349.6,524.9 350.6,524.5 351.7,524.5 352.7,524.9 353.9,527.0 355.2,527.3 356.4,529.8 357.4,529.0 358.4,530.5 359.4,527.0 360.4,529.2 361.4,528.6 362.4,530.3 363.5,529.0 364.5,529.2 365.5,532.4 366.6,530.5 367.6,532.3 368.6,531.7 369.7,533.7 370.7,535.7 371.7,533.9 372.8,535.7 373.8,537.4 375.0,538.1 376.2,541.8 377.5,541.5 378.7,543.3 383.7,550.4 388.6,563.8 393.6,579.7 397.3,584.0" fill="none" stroke="#00f" stroke-width="1"/>
<polyline points="53.6,540.4 59.9,537.5 69.0,534.5 71.1,531.2 75.6,530.5 79.7,526.7 83.8,520.1 84.7,509.4 85.5,496.2 86.6,489.6 88.0,492.9 90.1,505.3 92.9,501.2 94.2,492.9 95.4,484.7 97.9,476.4 99.5,480.5 101.2,476.4 102.8,473.1 104.5,469.0 106.9,467.0 109.4,467.3 111.9,471.5 114.4,466.5 116.0,469.5 118.5,464.9 121.0,469.8 123.4,474.8 124.8,476.5 126.2,477.5 127.6,477.2 129.2,479.6 130.9,478.9 132.3,478.9 133.6,478.8 135.0,476.4 136.4,475.0 137.7,476.8 139.1,477.2 140.8,480.4 142.4,480.5 144.0,484.7 145.4,483.7 146.9,481.7 148.4,484.1 149.9,483.7 151.9,473.8 153.5,469.3 155.4,474.8 157.8,479.8 159.8,479.8 161.1,480.7 162.5,484.3 163.8,486.7 165.8,483.3 167.7,481.7 169.7,485.7 171.7,482.7 173.7,480.7 175.6,487.7 176.9,489.5 178.3,491.2 179.6,492.6 180.9,491.5 182.3,492.9 183.6,494.6 184.9,491.2 186.2,492.1 187.5,487.7 188.5,490.3 189.5,488.4 190.5,492.9 191.5,492.6 192.8,492.1 194.1,495.9 195.4,496.6 196.4,494.0 197.4,492.6 198.4,496.2 199.4,493.6 200.4,492.9 201.4,493.7 202.4,498.3 203.4,496.6 204.6,497.0 205.9,492.5 207.1,494.4 208.3,490.6 209.3,492.8 210.3,495.5 211.3,496.6 212.6,495.4 213.9,499.5 215.2,497.6 216.2,499.1 217.2,501.0 218.2,501.1 219.2,499.6 220.2,499.9 221.2,501.5 222.2,503.5 223.6,499.4 225.1,498.6 226.3,495.6 227.5,494.0 228.6,494.0 229.8,494.3 231.0,492.6 232.0,492.6 233.0,497.6 234.0,499.7 235.0,499.2 236.0,500.3 237.0,502.5 238.0,503.9 239.0,501.9 240.0,500.8 241.0,501.5 242.2,501.2 243.4,502.1 244.5,498.7 245.7,503.1 246.9,500.5 247.9,498.4 248.9,502.4 249.9,503.2 250.9,499.4 251.9,503.6 252.9,502.5 254.0,501.1 255.1,501.4 256.2,500.3 257.2,498.5 258.3,499.3 259.3,500.7 260.3,505.3 261.4,502.1 262.4,504.3 263.5,505.7 264.5,506.8 265.6,507.0 266.6,504.1 267.7,504.3 268.7,505.3 269.8,505.3 270.8,506.1 271.8,502.1 272.8,504.8 273.8,504.4 274.8,502.3 276.0,504.9 277.3,501.6 278.5,504.8 279.7,508.0 281.0,504.7 282.2,507.8 283.4,506.5 284.6,507.5 285.9,508.6 287.1,506.0 288.1,503.9 289.1,505.5 290.1,502.3 291.1,499.8 292.1,499.4 293.3,500.3 294.6,501.4 295.8,504.8 297.0,502.5 298.3,502.7 299.5,504.3 300.5,505.1 301.5,506.5 302.5,502.2 303.5,501.5 304.5,503.6 305.7,507.0 306.9,505.6 308.2,505.9 309.4,507.3 310.4,506.2 311.4,508.3 312.4,509.7 313.4,508.0 314.4,508.5 315.6,508.7 316.9,507.5 318.1,512.5 319.3,511.0 320.3,509.9 321.3,513.4 322.3,516.4 323.3,514.1 324.3,517.2 325.4,518.7 326.4,520.2 327.5,518.9 328.5,520.1 329.6,517.0 330.6,519.0 331.7,519.7 332.8,518.6 333.8,522.8 334.9,520.8 335.9,522.3 337.0,525.7 338.0,525.7 339.1,524.6 340.2,527.0 341.2,524.4 342.3,524.5 343.3,525.8 344.4,524.5 345.4,523.5 346.5,524.6 347.5,523.9 348.6,522.4 349.6,523.4 350.6,526.3 351.7,525.9 352.7,523.4 353.9,525.7 355.2,526.7 356.4,528.3 357.4,527.2 358.4,525.7 359.4,526.4 360.4,528.8 361.4,527.1 362.4,529.6 363.5,527.6 364.5,530.4 365.5,531.0 366.6,531.2 367.6,530.8 368.6,532.7 369.7,534.2 370.7,533.2 371.7,536.0 372.8,534.9 373.8,537.0 375.0,537.9 376.2,540.2 377.5,540.7 378.7,540.7 383.7,545.6 388.6,556.8 393.6,570.4 398.0,581.5" fill="none" stroke="#f00" stroke-width="1"/>
</g>
<text x="450.50" y="428" font-size="17.2" textLength="154.00" lengthAdjust="spacingAndGlyphs">Allpassed crest factor</text>
<rect x="451" y="434" width="1" height="150" fill="#000"/>
<rect x="600" y="434" width="1" height="150" fill="#000"/>
<rect x="451" y="434" width="150" height="1" fill="#000"/>
<rect x="451" y="583" width="150" height="1" fill="#000"/>
<rect x="446" y="582" width="6" height="1" fill="#000"/>
<rect x="446" y="558" width="6" height="1" fill="#000"/>
<text x="441.50" y="564.235" font-size="17.2" text-anchor="end" textLength="9.09" lengthAdjust="spacingAndGlyphs">5</text>
<rect x="446" y="533" width="6" height="1" fill="#000"/>
<text x="441.50" y="539.47" font-size="17.2" text-anchor="end" textLength="18.18" lengthAdjust="spacingAndGlyphs">10</text>
<rect x="446" y="508" width="6" height="1" fill="#000"/>
<text x="441.50" y="514.7049999999999" font-size="17.2" text-anchor="end" textLength="18.18" lengthAdjust="spacingAndGlyphs">15</text>
<rect x="446" y="483" width="6" height="1" fill="#000"/>
<text x="441.50" y="489.94" font-size="17.2" text-anchor="end" textLength="18.18" lengthAdjust="spacingAndGlyphs">20</text>
<rect x="446" y="459" width="6" height="1" fill="#000"/>
<rect x="446" y="434" width="6" height="1" fill="#000"/>
<text x="400.50" y="450" font-size="17.2" textLength="19.99" lengthAdjust="spacingAndGlyphs">dB</text>
<rect x="459" y="584" width="1" height="5" fill="#000"/>
<rect x="466" y="584" width="1" height="5" fill="#000"/>
<rect x="470" y="584" width="1" height="5" fill="#000"/>
<rect x="474" y="584" width="1" height="5" fill="#000"/>
<rect x="478" y="584" width="1" height="5" fill="#000"/>
<rect x="481" y="584" width="1" height="5" fill="#000"/>
<rect x="483" y="584" width="1" height="5" fill="#000"/>
<rect x="485" y="584" width="1" height="5" fill="#000"/>
<rect x="500" y="584" width="1" height="5" fill="#000"/>
<rect x="509" y="584" width="1" height="5" fill="#000"/>
<rect x="515" y="584" width="1" height="5" fill="#000"/>
<rect x="520" y="584" width="1" height="5" fill="#000"/>
<rect x="524" y="584" width="1" height="5" fill="#000"/>
<rect x="527" y="584" width="1" height="5" fill="#000"/>
<rect x="530" y="584" width="1" height="5" fill="#000"/>
<rect x="533" y="584" width="1" height="5" fill="#000"/>
<rect x="535" y="584" width="1" height="5" fill="#000"/>
<rect x="550" y="584" width="1" height="5" fill="#000"/>
<rect x="559" y="584" width="1" height="5" fill="#000"/>
<rect x="565" y="584" width="1" height="5" fill="#000"/>
<rect x="570" y="584" width="1" height="5" fill="#000"/>
<rect x="574" y="584" width="1" height="5" fill="#000"/>
<rect x="577" y="584" width="1" height="5" fill="#000"/>
<rect x="580" y="584" width="1" height="5" fill="#000"/>
<rect x="582" y="584" width="1" height="5" fill="#000"/>
<rect x="585" y="584" width="1" height="5" fill="#000"/>
<rect x="600" y="584" width="1" height="5" fill="#000"/>
<text x="484.60" y="605" font-size="17.2" text-anchor="middle" textLength="22.71" lengthAdjust="spacingAndGlyphs">0,1</text>
<text x="536.00" y="605" font-size="17.2" text-anchor="middle" textLength="9.09" lengthAdjust="spacingAndGlyphs">1</text>
<text x="550.60" y="605" font-size="17.2" text-anchor="middle" textLength="9.09" lengthAdjust="spacingAndGlyphs">2</text>
<text x="600.00" y="605" font-size="17.2" text-anchor="end" textLength="28.14" lengthAdjust="spacingAndGlyphs">kHz</text>
<g shape-rendering="crispEdges">
<polyline points="451.6,528.5 463.6,521.9 476.9,516.0 487.5,513.4 500.8,509.1 511.4,508.1 522.0,507.3 532.7,509.9 548.6,513.9 561.9,521.9 575.2,529.9 588.5,532.5 600.4,535.2" fill="none" stroke="#00f" stroke-width="1.2"/>
<polyline points="451.6,531.7 463.6,524.5 476.9,517.9 487.5,514.7 500.8,511.3 511.4,510.7 522.0,509.9 532.7,512.6 548.6,518.7 561.9,524.5 575.2,531.2 588.5,533.8 600.4,537.0" fill="none" stroke="#f00" stroke-width="1.2"/>
<line x1="451" y1="544.5" x2="600" y2="544.5" stroke="#00f" stroke-width="1" stroke-dasharray="3 3"/>
<line x1="451" y1="548.5" x2="600" y2="548.5" stroke="#f00" stroke-width="1" stroke-dasharray="3 3"/>
</g>
<text x="54.00" y="627.5" font-size="17.2" textLength="192.00" lengthAdjust="spacingAndGlyphs">Histogram, &quot;bits&quot;: 16,0/16,0</text>
<g shape-rendering="crispEdges">
<polyline points="74.0,700.0 76.0,699.5 78.0,697.8 80.0,696.9 82.0,696.1 84.0,695.2 86.0,694.4 88.0,693.6 90.0,692.8 92.0,692.1 94.0,691.3 96.0,690.6 98.0,689.8 100.0,689.1 102.0,688.4 104.0,687.7 106.0,687.0 108.0,686.3 110.0,685.7 112.0,685.0 114.0,684.4 116.0,683.8 118.0,683.2 120.0,682.6 122.0,682.0 124.0,681.4 126.0,680.8 128.0,680.3 130.0,679.7 132.0,679.2 134.0,678.7 136.0,678.2 138.0,677.7 140.0,677.2 142.0,676.7 144.0,676.2 146.0,675.8 148.0,675.3 150.0,674.9 152.0,674.5 154.0,674.0 156.0,673.6 158.0,673.2 160.0,672.8 162.0,672.4 164.0,672.1 166.0,671.7 168.0,671.4 170.0,671.0 172.0,670.7 174.0,670.3 176.0,670.0 178.0,669.7 180.0,669.4 182.0,669.1 184.0,668.8 186.0,668.5 188.0,668.3 190.0,668.0 192.0,667.8 194.0,667.5 196.0,667.3 198.0,667.0 200.0,666.8 202.0,666.6 204.0,666.4 206.0,666.2 208.0,665.9 210.0,665.8 212.0,665.6 214.0,665.4 216.0,665.2 218.0,665.0 220.0,664.9 222.0,664.7 224.0,664.6 225.0,664.5 228.6,663.6 232.0,665.0 234.0,665.1 236.0,665.3 238.0,665.5 240.0,665.7 242.0,665.9 244.0,666.1 246.0,666.3 248.0,666.5 250.0,666.7 252.0,666.9 254.0,667.2 256.0,667.4 258.0,667.6 260.0,667.9 262.0,668.1 264.0,668.4 266.0,668.7 268.0,668.9 270.0,669.2 272.0,669.5 274.0,669.8 276.0,670.1 278.0,670.4 280.0,670.8 282.0,671.1 284.0,671.4 286.0,671.8 288.0,672.1 290.0,672.5 292.0,672.9 294.0,673.2 296.0,673.6 298.0,674.0 300.0,674.5 302.0,674.9 304.0,675.3 306.0,675.8 308.0,676.2 310.0,676.7 312.0,677.1 314.0,677.6 316.0,678.1 318.0,678.6 320.0,679.1 322.0,679.7 324.0,680.2 326.0,680.8 328.0,681.3 330.0,681.9 332.0,682.5 334.0,683.1 336.0,683.7 338.0,684.3 340.0,685.0 342.0,685.6 344.0,686.3 346.0,687.0 348.0,687.6 350.0,688.3 352.0,689.1 354.0,689.8 356.0,690.5 358.0,691.3 360.0,692.1 362.0,692.9 364.0,693.7 366.0,694.5 368.0,695.3 370.0,696.2 372.0,697.0 374.0,697.9 376.0,698.8 378.0,699.7 379.0,700.2" fill="none" stroke="#00f" stroke-width="1.4"/>
<rect x="73" y="695" width="3" height="6" fill="#00f"/>
<rect x="72" y="684" width="1" height="6" fill="#00f"/>
<rect x="378" y="695" width="3" height="6" fill="#00f"/>
<rect x="381" y="684" width="1" height="7" fill="#00f"/>
<polyline points="74.0,692.5 76.0,692.6 78.0,691.2 80.0,690.6 82.0,690.1 84.0,689.5 86.0,689.0 88.0,688.4 90.0,687.9 92.0,687.3 94.0,686.8 96.0,686.3 98.0,685.8 100.0,685.3 102.0,684.8 104.0,684.3 106.0,683.8 108.0,683.3 110.0,682.8 112.0,682.4 114.0,681.9 116.0,681.4 118.0,681.0 120.0,680.5 122.0,680.1 124.0,679.7 126.0,679.3 128.0,678.8 130.0,678.4 132.0,678.0 134.0,677.6 136.0,677.2 138.0,676.8 140.0,676.5 142.0,676.1 144.0,675.7 146.0,675.3 148.0,675.0 150.0,674.6 152.0,674.3 154.0,674.0 156.0,673.6 158.0,673.3 160.0,673.0 162.0,672.7 164.0,672.4 166.0,672.1 168.0,671.8 170.0,671.5 172.0,671.2 174.0,670.9 176.0,670.7 178.0,670.4 180.0,670.2 182.0,669.9 184.0,669.7 186.0,669.4 188.0,669.2 190.0,669.0 192.0,668.8 194.0,668.5 196.0,668.3 198.0,668.1 200.0,667.9 202.0,667.8 204.0,667.6 206.0,667.4 208.0,667.2 210.0,667.1 212.0,666.9 214.0,666.8 216.0,666.6 218.0,666.5 220.0,666.4 222.0,666.2 225.3,662.9 226.7,660.3 227.5,660.3 228.6,663.6 231.0,666.2 233.0,666.4 235.0,666.5 237.0,666.7 239.0,666.9 241.0,667.0 243.0,667.2 245.0,667.4 247.0,667.6 249.0,667.8 251.0,668.0 253.0,668.2 255.0,668.4 257.0,668.6 259.0,668.8 261.0,669.0 263.0,669.2 265.0,669.5 267.0,669.7 269.0,670.0 271.0,670.2 273.0,670.5 275.0,670.7 277.0,671.0 279.0,671.3 281.0,671.6 283.0,671.8 285.0,672.1 287.0,672.4 289.0,672.7 291.0,673.0 293.0,673.4 295.0,673.7 297.0,674.0 299.0,674.3 301.0,674.7 303.0,675.0 305.0,675.3 307.0,675.7 309.0,676.1 311.0,676.4 313.0,676.8 315.0,677.2 317.0,677.5 319.0,677.9 321.0,678.3 323.0,678.7 325.0,679.1 327.0,679.5 329.0,679.9 331.0,680.4 333.0,680.8 335.0,681.2 337.0,681.6 339.0,682.1 341.0,682.5 343.0,683.0 345.0,683.4 347.0,683.9 349.0,684.4 351.0,684.9 353.0,685.3 355.0,685.8 357.0,686.3 359.0,686.8 361.0,687.3 363.0,687.8 365.0,688.3 367.0,688.9 369.0,689.4 371.0,689.9 373.0,690.5 375.0,691.0 377.0,691.5 379.0,692.1 380.0,692.0" fill="none" stroke="#f00" stroke-width="1.4"/>
<rect x="73" y="690" width="3" height="3" fill="#f00"/>
<rect x="380" y="683" width="1" height="12" fill="#f00"/>
</g>
<rect x="71" y="633" width="2" height="51" fill="#f00"/>
<rect x="71" y="684" width="1" height="99" fill="#f00"/>
<rect x="72" y="684" width="1" height="6" fill="#00f"/>
<rect x="381" y="633" width="2" height="51" fill="#f00"/>
<rect x="382" y="684" width="1" height="99" fill="#f00"/>
<rect x="381" y="684" width="1" height="7" fill="#00f"/>
<rect x="226" y="633" width="2" height="28" fill="#f00"/>
<rect x="53" y="633" width="1" height="150" fill="#000"/>
<rect x="398" y="633" width="1" height="155" fill="#000"/>
<rect x="53" y="633" width="346" height="1" fill="#000"/>
<rect x="53" y="782" width="346" height="1" fill="#000"/>
<rect x="54" y="782" width="17" height="1" fill="#f00"/>
<rect x="383" y="782" width="15" height="1" fill="#f00"/>
<rect x="48" y="779" width="6" height="1" fill="#000"/>
<rect x="48" y="770" width="6" height="1" fill="#000"/>
<rect x="48" y="764" width="6" height="1" fill="#000"/>
<rect x="48" y="760" width="6" height="1" fill="#000"/>
<rect x="48" y="757" width="6" height="1" fill="#000"/>
<rect x="48" y="755" width="6" height="1" fill="#000"/>
<rect x="48" y="753" width="6" height="1" fill="#000"/>
<rect x="48" y="751" width="6" height="1" fill="#000"/>
<rect x="48" y="749" width="6" height="1" fill="#000"/>
<rect x="48" y="748" width="6" height="1" fill="#000"/>
<rect x="48" y="738" width="6" height="1" fill="#000"/>
<rect x="48" y="733" width="6" height="1" fill="#000"/>
<rect x="48" y="729" width="6" height="1" fill="#000"/>
<rect x="48" y="726" width="6" height="1" fill="#000"/>
<rect x="48" y="723" width="6" height="1" fill="#000"/>
<rect x="48" y="721" width="6" height="1" fill="#000"/>
<rect x="48" y="719" width="6" height="1" fill="#000"/>
<rect x="48" y="718" width="6" height="1" fill="#000"/>
<rect x="48" y="716" width="6" height="1" fill="#000"/>
<rect x="48" y="707" width="6" height="1" fill="#000"/>
<rect x="48" y="701" width="6" height="1" fill="#000"/>
<rect x="48" y="698" width="6" height="1" fill="#000"/>
<rect x="48" y="695" width="6" height="1" fill="#000"/>
<rect x="48" y="692" width="6" height="1" fill="#000"/>
<rect x="48" y="690" width="6" height="1" fill="#000"/>
<rect x="48" y="688" width="6" height="1" fill="#000"/>
<rect x="48" y="687" width="6" height="1" fill="#000"/>
<rect x="48" y="685" width="6" height="1" fill="#000"/>
<rect x="48" y="676" width="6" height="1" fill="#000"/>
<rect x="48" y="670" width="6" height="1" fill="#000"/>
<rect x="48" y="666" width="6" height="1" fill="#000"/>
<rect x="48" y="663" width="6" height="1" fill="#000"/>
<rect x="48" y="661" width="6" height="1" fill="#000"/>
<rect x="48" y="659" width="6" height="1" fill="#000"/>
<rect x="48" y="657" width="6" height="1" fill="#000"/>
<rect x="48" y="655" width="6" height="1" fill="#000"/>
<rect x="48" y="654" width="6" height="1" fill="#000"/>
<rect x="48" y="644" width="6" height="1" fill="#000"/>
<rect x="48" y="639" width="6" height="1" fill="#000"/>
<rect x="48" y="635" width="6" height="1" fill="#000"/>
<rect x="48" y="633" width="6" height="1" fill="#000"/>
<rect x="48" y="782" width="6" height="1" fill="#000"/>
<text x="3.00" y="649" font-size="17.2" textLength="9.09" lengthAdjust="spacingAndGlyphs">n</text>
<text x="43.50" y="691.6" font-size="17.2" text-anchor="end" textLength="36.35" lengthAdjust="spacingAndGlyphs">1000</text>
<text x="43.50" y="722.9" font-size="17.2" text-anchor="end" textLength="27.26" lengthAdjust="spacingAndGlyphs">100</text>
<text x="43.50" y="754.2" font-size="17.2" text-anchor="end" textLength="18.18" lengthAdjust="spacingAndGlyphs">10</text>
<rect x="70" y="783" width="1" height="5" fill="#000"/>
<text x="69.10" y="804" font-size="17.2" text-anchor="middle" textLength="14.53" lengthAdjust="spacingAndGlyphs">-1</text>
<rect x="101" y="783" width="1" height="5" fill="#000"/>
<text x="100.30" y="804" font-size="17.2" text-anchor="middle" textLength="28.16" lengthAdjust="spacingAndGlyphs">-0,8</text>
<rect x="132" y="783" width="1" height="5" fill="#000"/>
<text x="131.50" y="804" font-size="17.2" text-anchor="middle" textLength="28.16" lengthAdjust="spacingAndGlyphs">-0,6</text>
<rect x="164" y="783" width="1" height="5" fill="#000"/>
<text x="162.70" y="804" font-size="17.2" text-anchor="middle" textLength="28.16" lengthAdjust="spacingAndGlyphs">-0,4</text>
<rect x="195" y="783" width="1" height="5" fill="#000"/>
<text x="193.90" y="804" font-size="17.2" text-anchor="middle" textLength="28.16" lengthAdjust="spacingAndGlyphs">-0,2</text>
<rect x="226" y="783" width="1" height="5" fill="#000"/>
<text x="225.10" y="804" font-size="17.2" text-anchor="middle" textLength="9.09" lengthAdjust="spacingAndGlyphs">0</text>
<rect x="257" y="783" width="1" height="5" fill="#000"/>
<text x="256.30" y="804" font-size="17.2" text-anchor="middle" textLength="22.71" lengthAdjust="spacingAndGlyphs">0,2</text>
<rect x="288" y="783" width="1" height="5" fill="#000"/>
<text x="287.50" y="804" font-size="17.2" text-anchor="middle" textLength="22.71" lengthAdjust="spacingAndGlyphs">0,4</text>
<rect x="320" y="783" width="1" height="5" fill="#000"/>
<text x="318.70" y="804" font-size="17.2" text-anchor="middle" textLength="22.71" lengthAdjust="spacingAndGlyphs">0,6</text>
<rect x="351" y="783" width="1" height="5" fill="#000"/>
<text x="349.90" y="804" font-size="17.2" text-anchor="middle" textLength="22.71" lengthAdjust="spacingAndGlyphs">0,8</text>
<rect x="382" y="783" width="1" height="5" fill="#000"/>
<text x="381.10" y="804" font-size="17.2" text-anchor="middle" textLength="9.09" lengthAdjust="spacingAndGlyphs">1</text>
<text x="450.80" y="627" font-size="17.2" textLength="130.50" lengthAdjust="spacingAndGlyphs">Peak vs RMS level</text>
<clipPath id="cp"><rect x="452" y="632" width="148" height="150"/></clipPath>
<path fill="#000" d="M598 634h1v1h-1zM597 635h1v1h-1zM597 636h1v1h-1zM596 637h1v1h-1zM595 638h1v1h-1zM594 639h1v1h-1zM593 640h1v1h-1zM592 641h1v1h-1zM591 642h1v1h-1zM590 643h1v1h-1zM589 644h1v1h-1zM588 645h1v1h-1zM587 646h1v1h-1zM586 647h1v1h-1zM585 648h1v1h-1zM584 649h1v1h-1zM583 650h1v1h-1zM582 651h1v1h-1zM581 652h1v1h-1zM580 653h1v1h-1zM579 654h1v1h-1zM578 655h1v1h-1zM577 656h1v1h-1zM576 657h1v1h-1zM575 658h1v1h-1zM574 659h1v1h-1zM573 660h1v1h-1zM572 661h1v1h-1zM571 662h1v1h-1zM570 663h1v1h-1zM569 664h1v1h-1zM568 665h1v1h-1zM567 666h1v1h-1zM566 667h1v1h-1zM565 668h1v1h-1zM564 669h1v1h-1zM563 670h1v1h-1zM562 671h1v1h-1zM561 672h1v1h-1zM560 673h1v1h-1zM559 674h1v1h-1zM558 675h1v1h-1zM557 676h1v1h-1zM556 677h1v1h-1zM555 678h1v1h-1zM554 679h1v1h-1zM553 680h1v1h-1zM552 681h1v1h-1zM551 682h1v1h-1zM550 683h1v1h-1zM549 684h1v1h-1zM548 685h1v1h-1zM547 686h1v1h-1zM546 687h1v1h-1zM545 688h1v1h-1zM544 689h1v1h-1zM543 690h1v1h-1zM542 691h1v1h-1zM541 692h1v1h-1zM540 693h1v1h-1zM539 694h1v1h-1zM538 695h1v1h-1zM537 696h1v1h-1zM536 697h1v1h-1zM535 698h1v1h-1zM534 699h1v1h-1zM533 700h1v1h-1zM532 701h1v1h-1zM531 702h1v1h-1zM530 703h1v1h-1zM529 704h1v1h-1zM528 705h1v1h-1zM527 706h1v1h-1zM526 707h1v1h-1zM525 708h1v1h-1zM524 709h1v1h-1zM523 710h1v1h-1zM522 711h1v1h-1zM521 712h1v1h-1zM520 713h1v1h-1zM519 714h1v1h-1zM518 715h1v1h-1zM517 716h1v1h-1zM516 717h1v1h-1zM515 718h1v1h-1zM514 719h1v1h-1zM513 720h1v1h-1zM512 721h1v1h-1zM511 722h1v1h-1zM510 723h1v1h-1zM509 724h1v1h-1zM508 725h1v1h-1zM507 726h1v1h-1zM506 727h1v1h-1zM505 728h1v1h-1zM504 729h1v1h-1zM503 730h1v1h-1zM502 731h1v1h-1zM501 732h1v1h-1zM500 733h1v1h-1zM499 734h1v1h-1zM498 735h1v1h-1zM497 736h1v1h-1zM496 737h1v1h-1zM495 738h1v1h-1zM494 739h1v1h-1zM493 740h1v1h-1zM492 741h1v1h-1zM491 742h1v1h-1zM490 743h1v1h-1zM489 744h1v1h-1zM488 745h1v1h-1zM487 746h1v1h-1zM486 747h1v1h-1zM485 748h1v1h-1zM484 749h1v1h-1zM483 750h1v1h-1zM482 751h1v1h-1zM481 752h1v1h-1zM480 753h1v1h-1zM479 754h1v1h-1zM478 755h1v1h-1zM477 756h1v1h-1zM476 757h1v1h-1zM475 758h1v1h-1zM474 759h1v1h-1zM473 760h1v1h-1zM472 761h1v1h-1zM471 762h1v1h-1zM470 763h1v1h-1zM469 764h1v1h-1zM468 765h1v1h-1zM467 766h1v1h-1zM466 767h1v1h-1zM465 768h1v1h-1zM464 769h1v1h-1zM463 770h1v1h-1zM462 771h1v1h-1zM461 772h1v1h-1zM460 773h1v1h-1zM459 774h1v1h-1zM458 775h1v1h-1zM457 776h1v1h-1zM456 777h1v1h-1zM455 778h1v1h-1zM454 779h1v1h-1zM453 780h1v1h-1zM452 781h1v1h-1zM569 634h1v1h-1zM568 635h1v1h-1zM567 636h1v1h-1zM566 637h1v1h-1zM565 638h1v1h-1zM564 639h1v1h-1zM563 640h1v1h-1zM562 641h1v1h-1zM561 642h1v1h-1zM560 643h1v1h-1zM559 644h1v1h-1zM558 645h1v1h-1zM557 646h1v1h-1zM556 647h1v1h-1zM555 648h1v1h-1zM554 649h1v1h-1zM553 650h1v1h-1zM552 651h1v1h-1zM551 652h1v1h-1zM550 653h1v1h-1zM549 654h1v1h-1zM548 655h1v1h-1zM547 656h1v1h-1zM546 657h1v1h-1zM545 658h1v1h-1zM544 659h1v1h-1zM543 660h1v1h-1zM542 661h1v1h-1zM541 662h1v1h-1zM540 663h1v1h-1zM539 664h1v1h-1zM538 665h1v1h-1zM537 666h1v1h-1zM536 667h1v1h-1zM535 668h1v1h-1zM534 669h1v1h-1zM533 670h1v1h-1zM532 671h1v1h-1zM531 672h1v1h-1zM530 673h1v1h-1zM529 674h1v1h-1zM528 675h1v1h-1zM527 676h1v1h-1zM526 677h1v1h-1zM525 678h1v1h-1zM524 679h1v1h-1zM523 680h1v1h-1zM522 681h1v1h-1zM521 682h1v1h-1zM520 683h1v1h-1zM519 684h1v1h-1zM518 685h1v1h-1zM517 686h1v1h-1zM516 687h1v1h-1zM515 688h1v1h-1zM514 689h1v1h-1zM513 690h1v1h-1zM512 691h1v1h-1zM511 692h1v1h-1zM510 693h1v1h-1zM509 694h1v1h-1zM508 695h1v1h-1zM507 696h1v1h-1zM506 697h1v1h-1zM505 698h1v1h-1zM504 699h1v1h-1zM503 700h1v1h-1zM502 701h1v1h-1zM501 702h1v1h-1zM500 703h1v1h-1zM499 704h1v1h-1zM498 705h1v1h-1zM497 706h1v1h-1zM496 707h1v1h-1zM495 708h1v1h-1zM494 709h1v1h-1zM493 710h1v1h-1zM492 711h1v1h-1zM491 712h1v1h-1zM490 713h1v1h-1zM489 714h1v1h-1zM488 715h1v1h-1zM487 716h1v1h-1zM486 717h1v1h-1zM485 718h1v1h-1zM484 719h1v1h-1zM483 720h1v1h-1zM482 721h1v1h-1zM481 722h1v1h-1zM480 723h1v1h-1zM479 724h1v1h-1zM478 725h1v1h-1zM477 726h1v1h-1zM476 727h1v1h-1zM475 728h1v1h-1zM474 729h1v1h-1zM473 730h1v1h-1zM472 731h1v1h-1zM471 732h1v1h-1zM470 733h1v1h-1zM469 734h1v1h-1zM468 735h1v1h-1zM467 736h1v1h-1zM466 737h1v1h-1zM465 738h1v1h-1zM464 739h1v1h-1zM463 740h1v1h-1zM462 741h1v1h-1zM461 742h1v1h-1zM460 743h1v1h-1zM459 744h1v1h-1zM458 745h1v1h-1zM457 746h1v1h-1zM456 747h1v1h-1zM455 748h1v1h-1zM454 749h1v1h-1zM453 750h1v1h-1zM452 751h1v1h-1zM540 634h1v1h-1zM539 635h1v1h-1zM538 636h1v1h-1zM537 637h1v1h-1zM536 638h1v1h-1zM535 639h1v1h-1zM534 640h1v1h-1zM533 641h1v1h-1zM532 642h1v1h-1zM531 643h1v1h-1zM530 644h1v1h-1zM529 645h1v1h-1zM528 646h1v1h-1zM527 647h1v1h-1zM526 648h1v1h-1zM525 649h1v1h-1zM524 650h1v1h-1zM523 651h1v1h-1zM522 652h1v1h-1zM521 653h1v1h-1zM520 654h1v1h-1zM519 655h1v1h-1zM518 656h1v1h-1zM517 657h1v1h-1zM516 658h1v1h-1zM515 659h1v1h-1zM514 660h1v1h-1zM513 661h1v1h-1zM512 662h1v1h-1zM511 663h1v1h-1zM510 664h1v1h-1zM509 665h1v1h-1zM508 666h1v1h-1zM507 667h1v1h-1zM506 668h1v1h-1zM505 669h1v1h-1zM504 670h1v1h-1zM503 671h1v1h-1zM502 672h1v1h-1zM501 673h1v1h-1zM500 674h1v1h-1zM499 675h1v1h-1zM498 676h1v1h-1zM497 677h1v1h-1zM496 678h1v1h-1zM495 679h1v1h-1zM494 680h1v1h-1zM493 681h1v1h-1zM492 682h1v1h-1zM491 683h1v1h-1zM490 684h1v1h-1zM489 685h1v1h-1zM488 686h1v1h-1zM487 687h1v1h-1zM486 688h1v1h-1zM485 689h1v1h-1zM484 690h1v1h-1zM483 691h1v1h-1zM482 692h1v1h-1zM481 693h1v1h-1zM480 694h1v1h-1zM479 695h1v1h-1zM478 696h1v1h-1zM477 697h1v1h-1zM476 698h1v1h-1zM475 699h1v1h-1zM474 700h1v1h-1zM473 701h1v1h-1zM472 702h1v1h-1zM471 703h1v1h-1zM470 704h1v1h-1zM469 705h1v1h-1zM468 706h1v1h-1zM467 707h1v1h-1zM466 708h1v1h-1zM465 709h1v1h-1zM464 710h1v1h-1zM463 711h1v1h-1zM462 712h1v1h-1zM461 713h1v1h-1zM460 714h1v1h-1zM459 715h1v1h-1zM458 716h1v1h-1zM457 717h1v1h-1zM456 718h1v1h-1zM455 719h1v1h-1zM454 720h1v1h-1zM453 721h1v1h-1zM452 722h1v1h-1zM511 634h1v1h-1zM510 635h1v1h-1zM509 636h1v1h-1zM508 637h1v1h-1zM507 638h1v1h-1zM506 639h1v1h-1zM505 640h1v1h-1zM504 641h1v1h-1zM503 642h1v1h-1zM502 643h1v1h-1zM501 644h1v1h-1zM500 645h1v1h-1zM499 646h1v1h-1zM498 647h1v1h-1zM497 648h1v1h-1zM496 649h1v1h-1zM495 650h1v1h-1zM494 651h1v1h-1zM493 652h1v1h-1zM492 653h1v1h-1zM491 654h1v1h-1zM490 655h1v1h-1zM489 656h1v1h-1zM488 657h1v1h-1zM487 658h1v1h-1zM486 659h1v1h-1zM485 660h1v1h-1zM484 661h1v1h-1zM483 662h1v1h-1zM482 663h1v1h-1zM481 664h1v1h-1zM480 665h1v1h-1zM479 666h1v1h-1zM478 667h1v1h-1zM477 668h1v1h-1zM476 669h1v1h-1zM475 670h1v1h-1zM474 671h1v1h-1zM473 672h1v1h-1zM472 673h1v1h-1zM471 674h1v1h-1zM470 675h1v1h-1zM469 676h1v1h-1zM468 677h1v1h-1zM467 678h1v1h-1zM466 679h1v1h-1zM465 680h1v1h-1zM464 681h1v1h-1zM463 682h1v1h-1zM462 683h1v1h-1zM461 684h1v1h-1zM460 685h1v1h-1zM459 686h1v1h-1zM458 687h1v1h-1zM457 688h1v1h-1zM456 689h1v1h-1zM455 690h1v1h-1zM454 691h1v1h-1zM453 692h1v1h-1zM452 693h1v1h-1zM482 634h1v1h-1zM481 635h1v1h-1zM480 636h1v1h-1zM479 637h1v1h-1zM478 638h1v1h-1zM477 639h1v1h-1zM476 640h1v1h-1zM475 641h1v1h-1zM474 642h1v1h-1zM473 643h1v1h-1zM472 644h1v1h-1zM471 645h1v1h-1zM470 646h1v1h-1zM469 647h1v1h-1zM468 648h1v1h-1zM467 649h1v1h-1zM466 650h1v1h-1zM465 651h1v1h-1zM464 652h1v1h-1zM463 653h1v1h-1zM462 654h1v1h-1zM461 655h1v1h-1zM460 656h1v1h-1zM459 657h1v1h-1zM458 658h1v1h-1zM457 659h1v1h-1zM456 660h1v1h-1zM455 661h1v1h-1zM454 662h1v1h-1zM453 663h1v1h-1zM452 664h1v1h-1z"/>
<rect x="451" y="633" width="1" height="150" fill="#000"/>
<rect x="600" y="633" width="1" height="150" fill="#000"/>
<rect x="446" y="633" width="155" height="1" fill="#000"/>
<rect x="446" y="782" width="155" height="1" fill="#000"/>
<rect x="446" y="636" width="6" height="1" fill="#000"/>
<rect x="446" y="665" width="6" height="1" fill="#000"/>
<rect x="446" y="694" width="6" height="1" fill="#000"/>
<rect x="446" y="723" width="6" height="1" fill="#000"/>
<rect x="446" y="752" width="6" height="1" fill="#000"/>
<rect x="451" y="783" width="1" height="5" fill="#000"/>
<rect x="480" y="783" width="1" height="5" fill="#000"/>
<rect x="509" y="783" width="1" height="5" fill="#000"/>
<rect x="539" y="783" width="1" height="5" fill="#000"/>
<rect x="568" y="783" width="1" height="5" fill="#000"/>
<rect x="597" y="783" width="1" height="5" fill="#000"/>
<text x="401.00" y="648.5" font-size="17.2" textLength="40.87" lengthAdjust="spacingAndGlyphs">dBFS</text>
<text x="441.00" y="671.25" font-size="17.2" text-anchor="end" textLength="23.62" lengthAdjust="spacingAndGlyphs">-10</text>
<text x="441.00" y="700.5" font-size="17.2" text-anchor="end" textLength="23.62" lengthAdjust="spacingAndGlyphs">-20</text>
<text x="441.00" y="729.75" font-size="17.2" text-anchor="end" textLength="23.62" lengthAdjust="spacingAndGlyphs">-30</text>
<text x="441.00" y="759.0" font-size="17.2" text-anchor="end" textLength="23.62" lengthAdjust="spacingAndGlyphs">-40</text>
<text x="480.70" y="804" font-size="17.2" text-anchor="middle" textLength="23.62" lengthAdjust="spacingAndGlyphs">-40</text>
<text x="509.90" y="804" font-size="17.2" text-anchor="middle" textLength="23.62" lengthAdjust="spacingAndGlyphs">-30</text>
<text x="539.10" y="804" font-size="17.2" text-anchor="middle" textLength="23.62" lengthAdjust="spacingAndGlyphs">-20</text>
<text x="600.00" y="804" font-size="17.2" text-anchor="end" textLength="40.87" lengthAdjust="spacingAndGlyphs">dBFS</text>
<text x="464" y="670.3" font-size="12.5" text-anchor="middle" style="stroke:none" transform="rotate(-45 464 666)">40</text>
<text x="463.4" y="699.5999999999999" font-size="12.5" text-anchor="middle" style="stroke:none" transform="rotate(-45 463.4 695.3)">30</text>
<text x="463.7" y="729.3" font-size="12.5" text-anchor="middle" style="stroke:none" transform="rotate(-45 463.7 725)">20</text>
<text x="463.4" y="758.6999999999999" font-size="12.5" text-anchor="middle" style="stroke:none" transform="rotate(-45 463.4 754.4)">10</text>
<text x="483" y="770.3" font-size="12.5" text-anchor="middle" style="stroke:none" transform="rotate(-45 483 766)">0 dB</text>
<g clip-path="url(#cp)" fill="none" stroke-width="1" shape-rendering="crispEdges">
<path stroke="#00f" d="M521.5 647.5h1l2 2v1l-2 2h-1l-2-2v-1zM531.5 650.5h1l2 2v1l-2 2h-1l-2-2v-1zM536.5 641.5h1l2 2v1l-2 2h-1l-2-2v-1zM537.5 646.5h1l2 2v1l-2 2h-1l-2-2v-1zM542.5 640.5h1l2 2v1l-2 2h-1l-2-2v-1zM545.5 644.5h1l2 2v1l-2 2h-1l-2-2v-1zM550.5 640.5h1l2 2v1l-2 2h-1l-2-2v-1zM538.5 658.5h1l2 2v1l-2 2h-1l-2-2v-1zM535.5 664.5h1l2 2v1l-2 2h-1l-2-2v-1zM533.5 669.5h1l2 2v1l-2 2h-1l-2-2v-1zM528.5 674.5h1l2 2v1l-2 2h-1l-2-2v-1zM504.5 669.5h1l2 2v1l-2 2h-1l-2-2v-1zM507.5 683.5h1l2 2v1l-2 2h-1l-2-2v-1zM518.5 681.5h1l2 2v1l-2 2h-1l-2-2v-1zM452.5 728.5h1l2 2v1l-2 2h-1l-2-2v-1zM460.5 739.5h1l2 2v1l-2 2h-1l-2-2v-1zM465.5 730.5h1l2 2v1l-2 2h-1l-2-2v-1zM471.5 715.5h1l2 2v1l-2 2h-1l-2-2v-1zM477.5 728.5h1l2 2v1l-2 2h-1l-2-2v-1zM482.5 722.5h1l2 2v1l-2 2h-1l-2-2v-1zM489.5 716.5h1l2 2v1l-2 2h-1l-2-2v-1zM490.5 701.5h1l2 2v1l-2 2h-1l-2-2v-1zM493.5 708.5h1l2 2v1l-2 2h-1l-2-2v-1zM502.5 705.5h1l2 2v1l-2 2h-1l-2-2v-1zM507.5 683.5h1l2 2v1l-2 2h-1l-2-2v-1zM511.5 697.5h1l2 2v1l-2 2h-1l-2-2v-1zM519.5 681.5h1l2 2v1l-2 2h-1l-2-2v-1zM503.5 670.5h1l2 2v1l-2 2h-1l-2-2v-1zM507.5 682.5h1l2 2v1l-2 2h-1l-2-2v-1zM488.5 695.5h1l2 2v1l-2 2h-1l-2-2v-1zM544.5 637.5h1l2 2v1l-2 2h-1l-2-2v-1zM547.5 652.5h1l2 2v1l-2 2h-1l-2-2v-1zM541.5 659.5h1l2 2v1l-2 2h-1l-2-2v-1zM535.5 641.5h1l2 2v1l-2 2h-1l-2-2v-1zM542.5 642.5h1l2 2v1l-2 2h-1l-2-2v-1zM550.5 642.5h1l2 2v1l-2 2h-1l-2-2v-1zM531.5 650.5h1l2 2v1l-2 2h-1l-2-2v-1zM535.5 648.5h1l2 2v1l-2 2h-1l-2-2v-1zM539.5 654.5h1l2 2v1l-2 2h-1l-2-2v-1zM545.5 656.5h1l2 2v1l-2 2h-1l-2-2v-1zM549.5 650.5h1l2 2v1l-2 2h-1l-2-2v-1zM538.5 659.5h1l2 2v1l-2 2h-1l-2-2v-1zM533.5 665.5h1l2 2v1l-2 2h-1l-2-2v-1zM532.5 669.5h1l2 2v1l-2 2h-1l-2-2v-1z"/>
<path stroke="#f00" d="M538.5 634.5h1l2 2v1l-2 2h-1l-2-2v-1zM544.5 634.5h1l2 2v1l-2 2h-1l-2-2v-1zM550.5 634.5h1l2 2v1l-2 2h-1l-2-2v-1zM555.5 634.5h1l2 2v1l-2 2h-1l-2-2v-1zM559.5 634.5h1l2 2v1l-2 2h-1l-2-2v-1zM564.5 634.5h1l2 2v1l-2 2h-1l-2-2v-1zM568.5 634.5h1l2 2v1l-2 2h-1l-2-2v-1zM572.5 634.5h1l2 2v1l-2 2h-1l-2-2v-1zM579.5 634.5h1l2 2v1l-2 2h-1l-2-2v-1zM575.5 634.5h1l2 2v1l-2 2h-1l-2-2v-1zM582.5 634.5h1l2 2v1l-2 2h-1l-2-2v-1zM547.5 634.5h1l2 2v1l-2 2h-1l-2-2v-1zM552.5 634.5h1l2 2v1l-2 2h-1l-2-2v-1zM566.5 634.5h1l2 2v1l-2 2h-1l-2-2v-1zM576.5 636.5h1l2 2v1l-2 2h-1l-2-2v-1zM571.5 639.5h1l2 2v1l-2 2h-1l-2-2v-1zM567.5 641.5h1l2 2v1l-2 2h-1l-2-2v-1zM564.5 644.5h1l2 2v1l-2 2h-1l-2-2v-1zM560.5 646.5h1l2 2v1l-2 2h-1l-2-2v-1zM557.5 650.5h1l2 2v1l-2 2h-1l-2-2v-1zM552.5 653.5h1l2 2v1l-2 2h-1l-2-2v-1zM550.5 657.5h1l2 2v1l-2 2h-1l-2-2v-1zM546.5 660.5h1l2 2v1l-2 2h-1l-2-2v-1zM544.5 662.5h1l2 2v1l-2 2h-1l-2-2v-1zM540.5 666.5h1l2 2v1l-2 2h-1l-2-2v-1zM537.5 670.5h1l2 2v1l-2 2h-1l-2-2v-1zM534.5 672.5h1l2 2v1l-2 2h-1l-2-2v-1zM530.5 676.5h1l2 2v1l-2 2h-1l-2-2v-1zM527.5 680.5h1l2 2v1l-2 2h-1l-2-2v-1zM524.5 682.5h1l2 2v1l-2 2h-1l-2-2v-1zM520.5 685.5h1l2 2v1l-2 2h-1l-2-2v-1zM516.5 687.5h1l2 2v1l-2 2h-1l-2-2v-1zM513.5 690.5h1l2 2v1l-2 2h-1l-2-2v-1zM510.5 692.5h1l2 2v1l-2 2h-1l-2-2v-1zM506.5 694.5h1l2 2v1l-2 2h-1l-2-2v-1zM502.5 694.5h1l2 2v1l-2 2h-1l-2-2v-1zM538.5 636.5h1l2 2v1l-2 2h-1l-2-2v-1zM542.5 635.5h1l2 2v1l-2 2h-1l-2-2v-1zM547.5 642.5h1l2 2v1l-2 2h-1l-2-2v-1zM549.5 644.5h1l2 2v1l-2 2h-1l-2-2v-1zM544.5 648.5h1l2 2v1l-2 2h-1l-2-2v-1zM538.5 652.5h1l2 2v1l-2 2h-1l-2-2v-1zM539.5 652.5h1l2 2v1l-2 2h-1l-2-2v-1zM526.5 644.5h1l2 2v1l-2 2h-1l-2-2v-1zM524.5 650.5h1l2 2v1l-2 2h-1l-2-2v-1zM513.5 663.5h1l2 2v1l-2 2h-1l-2-2v-1zM512.5 665.5h1l2 2v1l-2 2h-1l-2-2v-1zM502.5 674.5h1l2 2v1l-2 2h-1l-2-2v-1zM573.5 637.5h1l2 2v1l-2 2h-1l-2-2v-1zM565.5 642.5h1l2 2v1l-2 2h-1l-2-2v-1zM559.5 645.5h1l2 2v1l-2 2h-1l-2-2v-1zM554.5 652.5h1l2 2v1l-2 2h-1l-2-2v-1zM547.5 658.5h1l2 2v1l-2 2h-1l-2-2v-1zM542.5 664.5h1l2 2v1l-2 2h-1l-2-2v-1zM538.5 668.5h1l2 2v1l-2 2h-1l-2-2v-1zM532.5 674.5h1l2 2v1l-2 2h-1l-2-2v-1zM528.5 677.5h1l2 2v1l-2 2h-1l-2-2v-1zM565.5 638.5h1l2 2v1l-2 2h-1l-2-2v-1zM558.5 640.5h1l2 2v1l-2 2h-1l-2-2v-1zM551.5 647.5h1l2 2v1l-2 2h-1l-2-2v-1zM502.5 675.5h1l2 2v1l-2 2h-1l-2-2v-1zM512.5 663.5h1l2 2v1l-2 2h-1l-2-2v-1zM525.5 644.5h1l2 2v1l-2 2h-1l-2-2v-1zM452.5 739.5h1l2 2v1l-2 2h-1l-2-2v-1zM463.5 736.5h1l2 2v1l-2 2h-1l-2-2v-1zM460.5 720.5h1l2 2v1l-2 2h-1l-2-2v-1zM464.5 713.5h1l2 2v1l-2 2h-1l-2-2v-1zM471.5 721.5h1l2 2v1l-2 2h-1l-2-2v-1zM475.5 708.5h1l2 2v1l-2 2h-1l-2-2v-1zM478.5 712.5h1l2 2v1l-2 2h-1l-2-2v-1zM480.5 716.5h1l2 2v1l-2 2h-1l-2-2v-1zM475.5 717.5h1l2 2v1l-2 2h-1l-2-2v-1zM475.5 728.5h1l2 2v1l-2 2h-1l-2-2v-1zM484.5 721.5h1l2 2v1l-2 2h-1l-2-2v-1zM486.5 705.5h1l2 2v1l-2 2h-1l-2-2v-1zM485.5 698.5h1l2 2v1l-2 2h-1l-2-2v-1zM487.5 692.5h1l2 2v1l-2 2h-1l-2-2v-1zM490.5 697.5h1l2 2v1l-2 2h-1l-2-2v-1zM489.5 707.5h1l2 2v1l-2 2h-1l-2-2v-1zM492.5 714.5h1l2 2v1l-2 2h-1l-2-2v-1zM496.5 691.5h1l2 2v1l-2 2h-1l-2-2v-1zM497.5 709.5h1l2 2v1l-2 2h-1l-2-2v-1zM501.5 705.5h1l2 2v1l-2 2h-1l-2-2v-1zM503.5 695.5h1l2 2v1l-2 2h-1l-2-2v-1zM506.5 701.5h1l2 2v1l-2 2h-1l-2-2v-1zM509.5 691.5h1l2 2v1l-2 2h-1l-2-2v-1zM511.5 697.5h1l2 2v1l-2 2h-1l-2-2v-1zM515.5 692.5h1l2 2v1l-2 2h-1l-2-2v-1zM515.5 684.5h1l2 2v1l-2 2h-1l-2-2v-1zM519.5 690.5h1l2 2v1l-2 2h-1l-2-2v-1zM520.5 686.5h1l2 2v1l-2 2h-1l-2-2v-1zM523.5 682.5h1l2 2v1l-2 2h-1l-2-2v-1zM526.5 680.5h1l2 2v1l-2 2h-1l-2-2v-1zM538.5 635.5h1l2 2v1l-2 2h-1l-2-2v-1zM544.5 634.5h1l2 2v1l-2 2h-1l-2-2v-1zM538.5 641.5h1l2 2v1l-2 2h-1l-2-2v-1zM547.5 642.5h1l2 2v1l-2 2h-1l-2-2v-1zM550.5 645.5h1l2 2v1l-2 2h-1l-2-2v-1zM544.5 648.5h1l2 2v1l-2 2h-1l-2-2v-1zM537.5 652.5h1l2 2v1l-2 2h-1l-2-2v-1zM578.5 634.5h1l2 2v1l-2 2h-1l-2-2v-1zM576.5 636.5h1l2 2v1l-2 2h-1l-2-2v-1zM571.5 639.5h1l2 2v1l-2 2h-1l-2-2v-1zM567.5 641.5h1l2 2v1l-2 2h-1l-2-2v-1zM564.5 643.5h1l2 2v1l-2 2h-1l-2-2v-1zM561.5 646.5h1l2 2v1l-2 2h-1l-2-2v-1zM558.5 649.5h1l2 2v1l-2 2h-1l-2-2v-1zM557.5 651.5h1l2 2v1l-2 2h-1l-2-2v-1zM553.5 653.5h1l2 2v1l-2 2h-1l-2-2v-1zM552.5 655.5h1l2 2v1l-2 2h-1l-2-2v-1zM549.5 658.5h1l2 2v1l-2 2h-1l-2-2v-1zM548.5 660.5h1l2 2v1l-2 2h-1l-2-2v-1zM544.5 662.5h1l2 2v1l-2 2h-1l-2-2v-1zM540.5 667.5h1l2 2v1l-2 2h-1l-2-2v-1zM539.5 670.5h1l2 2v1l-2 2h-1l-2-2v-1zM533.5 671.5h1l2 2v1l-2 2h-1l-2-2v-1zM548.5 633.5h1l2 2v1l-2 2h-1l-2-2v-1zM550.5 634.5h1l2 2v1l-2 2h-1l-2-2v-1zM554.5 633.5h1l2 2v1l-2 2h-1l-2-2v-1zM557.5 634.5h1l2 2v1l-2 2h-1l-2-2v-1zM560.5 633.5h1l2 2v1l-2 2h-1l-2-2v-1zM544.5 633.5h1l2 2v1l-2 2h-1l-2-2v-1zM546.5 634.5h1l2 2v1l-2 2h-1l-2-2v-1zM548.5 633.5h1l2 2v1l-2 2h-1l-2-2v-1zM551.5 634.5h1l2 2v1l-2 2h-1l-2-2v-1zM553.5 633.5h1l2 2v1l-2 2h-1l-2-2v-1zM555.5 634.5h1l2 2v1l-2 2h-1l-2-2v-1zM557.5 633.5h1l2 2v1l-2 2h-1l-2-2v-1zM559.5 634.5h1l2 2v1l-2 2h-1l-2-2v-1zM562.5 633.5h1l2 2v1l-2 2h-1l-2-2v-1zM564.5 634.5h1l2 2v1l-2 2h-1l-2-2v-1zM566.5 633.5h1l2 2v1l-2 2h-1l-2-2v-1zM568.5 634.5h1l2 2v1l-2 2h-1l-2-2v-1zM570.5 633.5h1l2 2v1l-2 2h-1l-2-2v-1zM573.5 634.5h1l2 2v1l-2 2h-1l-2-2v-1zM575.5 633.5h1l2 2v1l-2 2h-1l-2-2v-1zM577.5 634.5h1l2 2v1l-2 2h-1l-2-2v-1zM579.5 633.5h1l2 2v1l-2 2h-1l-2-2v-1zM581.5 634.5h1l2 2v1l-2 2h-1l-2-2v-1zM569.5 637.5h1l2 2v1l-2 2h-1l-2-2v-1zM573.5 636.5h1l2 2v1l-2 2h-1l-2-2v-1zM577.5 635.5h1l2 2v1l-2 2h-1l-2-2v-1zM565.5 639.5h1l2 2v1l-2 2h-1l-2-2v-1zM562.5 641.5h1l2 2v1l-2 2h-1l-2-2v-1zM451.5 746.5h1l2 2v1l-2 2h-1l-2-2v-1zM475.5 702.5h1l2 2v1l-2 2h-1l-2-2v-1zM477.5 710.5h1l2 2v1l-2 2h-1l-2-2v-1zM464.5 712.5h1l2 2v1l-2 2h-1l-2-2v-1zM495.5 690.5h1l2 2v1l-2 2h-1l-2-2v-1zM487.5 691.5h1l2 2v1l-2 2h-1l-2-2v-1zM491.5 713.5h1l2 2v1l-2 2h-1l-2-2v-1zM498.5 708.5h1l2 2v1l-2 2h-1l-2-2v-1zM506.5 701.5h1l2 2v1l-2 2h-1l-2-2v-1z"/>
<line x1="538" y1="666.5" x2="565" y2="639.5" stroke="#00f" stroke-width="1"/>
</g>
<text x="54.50" y="826" font-size="17.2" textLength="197.50" lengthAdjust="spacingAndGlyphs">Short term (1 s) crest factor</text>
<text x="279.00" y="826" font-size="17.2" textLength="142.00" lengthAdjust="spacingAndGlyphs">Checksum (energy):</text>
<text x="428.00" y="826" font-size="17.2" textLength="173.00" lengthAdjust="spacingAndGlyphs">55 105 176 786 448 818</text>
<g shape-rendering="crispEdges">
<line x1="53" y1="860.5" x2="600" y2="860.5" stroke="#000" stroke-width="1" stroke-dasharray="3 3"/>
<line x1="53" y1="888.5" x2="600" y2="888.5" stroke="#000" stroke-width="1" stroke-dasharray="3 3"/>
</g>
<clipPath id="cc"><rect x="54" y="834" width="546" height="82"/></clipPath>
<g clip-path="url(#cc)" fill="none" stroke-width="1" shape-rendering="crispEdges">
<path stroke="#00f" d="M55.5 889.5h1l2 2v1l-2 2h-1l-2-2v-1zM56.5 890.5h1l2 2v1l-2 2h-1l-2-2v-1zM57.5 891.5h1l2 2v1l-2 2h-1l-2-2v-1zM58.5 889.5h1l2 2v1l-2 2h-1l-2-2v-1zM59.5 888.5h1l2 2v1l-2 2h-1l-2-2v-1zM59.5 888.5h1l2 2v1l-2 2h-1l-2-2v-1zM60.5 891.5h1l2 2v1l-2 2h-1l-2-2v-1zM61.5 890.5h1l2 2v1l-2 2h-1l-2-2v-1zM62.5 889.5h1l2 2v1l-2 2h-1l-2-2v-1zM63.5 888.5h1l2 2v1l-2 2h-1l-2-2v-1zM64.5 889.5h1l2 2v1l-2 2h-1l-2-2v-1zM65.5 891.5h1l2 2v1l-2 2h-1l-2-2v-1zM66.5 889.5h1l2 2v1l-2 2h-1l-2-2v-1zM67.5 891.5h1l2 2v1l-2 2h-1l-2-2v-1zM68.5 891.5h1l2 2v1l-2 2h-1l-2-2v-1zM69.5 889.5h1l2 2v1l-2 2h-1l-2-2v-1zM69.5 889.5h1l2 2v1l-2 2h-1l-2-2v-1zM70.5 891.5h1l2 2v1l-2 2h-1l-2-2v-1zM71.5 891.5h1l2 2v1l-2 2h-1l-2-2v-1zM72.5 890.5h1l2 2v1l-2 2h-1l-2-2v-1zM73.5 890.5h1l2 2v1l-2 2h-1l-2-2v-1zM74.5 889.5h1l2 2v1l-2 2h-1l-2-2v-1zM75.5 889.5h1l2 2v1l-2 2h-1l-2-2v-1zM76.5 891.5h1l2 2v1l-2 2h-1l-2-2v-1zM77.5 890.5h1l2 2v1l-2 2h-1l-2-2v-1zM78.5 889.5h1l2 2v1l-2 2h-1l-2-2v-1zM78.5 890.5h1l2 2v1l-2 2h-1l-2-2v-1zM79.5 889.5h1l2 2v1l-2 2h-1l-2-2v-1zM80.5 891.5h1l2 2v1l-2 2h-1l-2-2v-1zM81.5 888.5h1l2 2v1l-2 2h-1l-2-2v-1zM82.5 889.5h1l2 2v1l-2 2h-1l-2-2v-1zM83.5 891.5h1l2 2v1l-2 2h-1l-2-2v-1zM84.5 891.5h1l2 2v1l-2 2h-1l-2-2v-1zM85.5 888.5h1l2 2v1l-2 2h-1l-2-2v-1zM86.5 891.5h1l2 2v1l-2 2h-1l-2-2v-1zM87.5 889.5h1l2 2v1l-2 2h-1l-2-2v-1zM87.5 889.5h1l2 2v1l-2 2h-1l-2-2v-1zM88.5 888.5h1l2 2v1l-2 2h-1l-2-2v-1zM89.5 888.5h1l2 2v1l-2 2h-1l-2-2v-1zM90.5 891.5h1l2 2v1l-2 2h-1l-2-2v-1zM91.5 891.5h1l2 2v1l-2 2h-1l-2-2v-1zM92.5 888.5h1l2 2v1l-2 2h-1l-2-2v-1zM93.5 891.5h1l2 2v1l-2 2h-1l-2-2v-1zM94.5 889.5h1l2 2v1l-2 2h-1l-2-2v-1zM95.5 889.5h1l2 2v1l-2 2h-1l-2-2v-1zM96.5 890.5h1l2 2v1l-2 2h-1l-2-2v-1zM96.5 891.5h1l2 2v1l-2 2h-1l-2-2v-1zM97.5 888.5h1l2 2v1l-2 2h-1l-2-2v-1zM98.5 889.5h1l2 2v1l-2 2h-1l-2-2v-1zM99.5 889.5h1l2 2v1l-2 2h-1l-2-2v-1zM100.5 891.5h1l2 2v1l-2 2h-1l-2-2v-1zM101.5 890.5h1l2 2v1l-2 2h-1l-2-2v-1zM102.5 890.5h1l2 2v1l-2 2h-1l-2-2v-1zM103.5 889.5h1l2 2v1l-2 2h-1l-2-2v-1zM104.5 890.5h1l2 2v1l-2 2h-1l-2-2v-1zM105.5 891.5h1l2 2v1l-2 2h-1l-2-2v-1zM105.5 888.5h1l2 2v1l-2 2h-1l-2-2v-1zM106.5 891.5h1l2 2v1l-2 2h-1l-2-2v-1zM107.5 888.5h1l2 2v1l-2 2h-1l-2-2v-1zM108.5 889.5h1l2 2v1l-2 2h-1l-2-2v-1zM109.5 890.5h1l2 2v1l-2 2h-1l-2-2v-1zM110.5 891.5h1l2 2v1l-2 2h-1l-2-2v-1zM111.5 889.5h1l2 2v1l-2 2h-1l-2-2v-1zM112.5 891.5h1l2 2v1l-2 2h-1l-2-2v-1zM113.5 891.5h1l2 2v1l-2 2h-1l-2-2v-1zM114.5 890.5h1l2 2v1l-2 2h-1l-2-2v-1zM114.5 891.5h1l2 2v1l-2 2h-1l-2-2v-1zM115.5 889.5h1l2 2v1l-2 2h-1l-2-2v-1zM116.5 891.5h1l2 2v1l-2 2h-1l-2-2v-1zM117.5 888.5h1l2 2v1l-2 2h-1l-2-2v-1zM118.5 889.5h1l2 2v1l-2 2h-1l-2-2v-1zM119.5 891.5h1l2 2v1l-2 2h-1l-2-2v-1zM120.5 891.5h1l2 2v1l-2 2h-1l-2-2v-1zM121.5 890.5h1l2 2v1l-2 2h-1l-2-2v-1zM122.5 889.5h1l2 2v1l-2 2h-1l-2-2v-1zM123.5 889.5h1l2 2v1l-2 2h-1l-2-2v-1zM123.5 889.5h1l2 2v1l-2 2h-1l-2-2v-1zM124.5 890.5h1l2 2v1l-2 2h-1l-2-2v-1zM125.5 889.5h1l2 2v1l-2 2h-1l-2-2v-1zM126.5 889.5h1l2 2v1l-2 2h-1l-2-2v-1zM127.5 891.5h1l2 2v1l-2 2h-1l-2-2v-1zM128.5 888.5h1l2 2v1l-2 2h-1l-2-2v-1zM129.5 889.5h1l2 2v1l-2 2h-1l-2-2v-1zM130.5 888.5h1l2 2v1l-2 2h-1l-2-2v-1zM131.5 889.5h1l2 2v1l-2 2h-1l-2-2v-1zM132.5 891.5h1l2 2v1l-2 2h-1l-2-2v-1zM132.5 889.5h1l2 2v1l-2 2h-1l-2-2v-1zM133.5 891.5h1l2 2v1l-2 2h-1l-2-2v-1zM134.5 888.5h1l2 2v1l-2 2h-1l-2-2v-1zM135.5 891.5h1l2 2v1l-2 2h-1l-2-2v-1zM136.5 891.5h1l2 2v1l-2 2h-1l-2-2v-1zM137.5 890.5h1l2 2v1l-2 2h-1l-2-2v-1zM138.5 889.5h1l2 2v1l-2 2h-1l-2-2v-1zM139.5 891.5h1l2 2v1l-2 2h-1l-2-2v-1zM140.5 890.5h1l2 2v1l-2 2h-1l-2-2v-1zM141.5 888.5h1l2 2v1l-2 2h-1l-2-2v-1zM141.5 890.5h1l2 2v1l-2 2h-1l-2-2v-1zM142.5 890.5h1l2 2v1l-2 2h-1l-2-2v-1zM143.5 891.5h1l2 2v1l-2 2h-1l-2-2v-1zM144.5 889.5h1l2 2v1l-2 2h-1l-2-2v-1zM145.5 890.5h1l2 2v1l-2 2h-1l-2-2v-1zM146.5 890.5h1l2 2v1l-2 2h-1l-2-2v-1zM147.5 891.5h1l2 2v1l-2 2h-1l-2-2v-1zM148.5 889.5h1l2 2v1l-2 2h-1l-2-2v-1zM149.5 890.5h1l2 2v1l-2 2h-1l-2-2v-1zM150.5 889.5h1l2 2v1l-2 2h-1l-2-2v-1zM150.5 891.5h1l2 2v1l-2 2h-1l-2-2v-1zM151.5 890.5h1l2 2v1l-2 2h-1l-2-2v-1zM152.5 889.5h1l2 2v1l-2 2h-1l-2-2v-1zM153.5 891.5h1l2 2v1l-2 2h-1l-2-2v-1zM154.5 890.5h1l2 2v1l-2 2h-1l-2-2v-1zM155.5 891.5h1l2 2v1l-2 2h-1l-2-2v-1zM156.5 889.5h1l2 2v1l-2 2h-1l-2-2v-1zM157.5 889.5h1l2 2v1l-2 2h-1l-2-2v-1zM158.5 890.5h1l2 2v1l-2 2h-1l-2-2v-1zM159.5 889.5h1l2 2v1l-2 2h-1l-2-2v-1zM159.5 890.5h1l2 2v1l-2 2h-1l-2-2v-1zM160.5 888.5h1l2 2v1l-2 2h-1l-2-2v-1zM161.5 891.5h1l2 2v1l-2 2h-1l-2-2v-1zM162.5 889.5h1l2 2v1l-2 2h-1l-2-2v-1zM163.5 889.5h1l2 2v1l-2 2h-1l-2-2v-1zM164.5 891.5h1l2 2v1l-2 2h-1l-2-2v-1zM165.5 891.5h1l2 2v1l-2 2h-1l-2-2v-1zM166.5 889.5h1l2 2v1l-2 2h-1l-2-2v-1zM167.5 890.5h1l2 2v1l-2 2h-1l-2-2v-1zM168.5 889.5h1l2 2v1l-2 2h-1l-2-2v-1zM168.5 891.5h1l2 2v1l-2 2h-1l-2-2v-1zM169.5 891.5h1l2 2v1l-2 2h-1l-2-2v-1zM170.5 890.5h1l2 2v1l-2 2h-1l-2-2v-1zM171.5 891.5h1l2 2v1l-2 2h-1l-2-2v-1zM172.5 891.5h1l2 2v1l-2 2h-1l-2-2v-1zM173.5 889.5h1l2 2v1l-2 2h-1l-2-2v-1zM174.5 888.5h1l2 2v1l-2 2h-1l-2-2v-1zM175.5 889.5h1l2 2v1l-2 2h-1l-2-2v-1zM176.5 889.5h1l2 2v1l-2 2h-1l-2-2v-1zM177.5 890.5h1l2 2v1l-2 2h-1l-2-2v-1zM177.5 889.5h1l2 2v1l-2 2h-1l-2-2v-1zM178.5 888.5h1l2 2v1l-2 2h-1l-2-2v-1zM179.5 889.5h1l2 2v1l-2 2h-1l-2-2v-1zM180.5 890.5h1l2 2v1l-2 2h-1l-2-2v-1zM181.5 890.5h1l2 2v1l-2 2h-1l-2-2v-1zM182.5 891.5h1l2 2v1l-2 2h-1l-2-2v-1zM183.5 890.5h1l2 2v1l-2 2h-1l-2-2v-1zM184.5 890.5h1l2 2v1l-2 2h-1l-2-2v-1zM185.5 889.5h1l2 2v1l-2 2h-1l-2-2v-1zM186.5 890.5h1l2 2v1l-2 2h-1l-2-2v-1zM186.5 890.5h1l2 2v1l-2 2h-1l-2-2v-1zM187.5 891.5h1l2 2v1l-2 2h-1l-2-2v-1zM188.5 888.5h1l2 2v1l-2 2h-1l-2-2v-1zM189.5 891.5h1l2 2v1l-2 2h-1l-2-2v-1zM190.5 888.5h1l2 2v1l-2 2h-1l-2-2v-1zM191.5 889.5h1l2 2v1l-2 2h-1l-2-2v-1zM192.5 888.5h1l2 2v1l-2 2h-1l-2-2v-1zM193.5 888.5h1l2 2v1l-2 2h-1l-2-2v-1zM194.5 891.5h1l2 2v1l-2 2h-1l-2-2v-1zM195.5 888.5h1l2 2v1l-2 2h-1l-2-2v-1zM195.5 889.5h1l2 2v1l-2 2h-1l-2-2v-1zM196.5 891.5h1l2 2v1l-2 2h-1l-2-2v-1zM197.5 889.5h1l2 2v1l-2 2h-1l-2-2v-1zM198.5 891.5h1l2 2v1l-2 2h-1l-2-2v-1zM199.5 889.5h1l2 2v1l-2 2h-1l-2-2v-1zM200.5 890.5h1l2 2v1l-2 2h-1l-2-2v-1zM201.5 888.5h1l2 2v1l-2 2h-1l-2-2v-1zM202.5 891.5h1l2 2v1l-2 2h-1l-2-2v-1zM203.5 888.5h1l2 2v1l-2 2h-1l-2-2v-1zM204.5 889.5h1l2 2v1l-2 2h-1l-2-2v-1zM204.5 890.5h1l2 2v1l-2 2h-1l-2-2v-1zM205.5 889.5h1l2 2v1l-2 2h-1l-2-2v-1zM206.5 889.5h1l2 2v1l-2 2h-1l-2-2v-1zM207.5 889.5h1l2 2v1l-2 2h-1l-2-2v-1zM208.5 891.5h1l2 2v1l-2 2h-1l-2-2v-1zM209.5 889.5h1l2 2v1l-2 2h-1l-2-2v-1zM210.5 890.5h1l2 2v1l-2 2h-1l-2-2v-1zM211.5 891.5h1l2 2v1l-2 2h-1l-2-2v-1zM212.5 891.5h1l2 2v1l-2 2h-1l-2-2v-1zM213.5 891.5h1l2 2v1l-2 2h-1l-2-2v-1zM213.5 891.5h1l2 2v1l-2 2h-1l-2-2v-1zM214.5 889.5h1l2 2v1l-2 2h-1l-2-2v-1zM215.5 889.5h1l2 2v1l-2 2h-1l-2-2v-1zM216.5 889.5h1l2 2v1l-2 2h-1l-2-2v-1zM217.5 890.5h1l2 2v1l-2 2h-1l-2-2v-1zM218.5 891.5h1l2 2v1l-2 2h-1l-2-2v-1zM219.5 891.5h1l2 2v1l-2 2h-1l-2-2v-1zM220.5 890.5h1l2 2v1l-2 2h-1l-2-2v-1zM221.5 890.5h1l2 2v1l-2 2h-1l-2-2v-1zM222.5 889.5h1l2 2v1l-2 2h-1l-2-2v-1zM222.5 890.5h1l2 2v1l-2 2h-1l-2-2v-1zM223.5 888.5h1l2 2v1l-2 2h-1l-2-2v-1zM224.5 890.5h1l2 2v1l-2 2h-1l-2-2v-1zM225.5 888.5h1l2 2v1l-2 2h-1l-2-2v-1zM226.5 891.5h1l2 2v1l-2 2h-1l-2-2v-1zM227.5 889.5h1l2 2v1l-2 2h-1l-2-2v-1zM228.5 888.5h1l2 2v1l-2 2h-1l-2-2v-1zM229.5 889.5h1l2 2v1l-2 2h-1l-2-2v-1zM230.5 889.5h1l2 2v1l-2 2h-1l-2-2v-1zM231.5 889.5h1l2 2v1l-2 2h-1l-2-2v-1zM231.5 891.5h1l2 2v1l-2 2h-1l-2-2v-1zM232.5 890.5h1l2 2v1l-2 2h-1l-2-2v-1zM233.5 890.5h1l2 2v1l-2 2h-1l-2-2v-1zM234.5 888.5h1l2 2v1l-2 2h-1l-2-2v-1zM235.5 889.5h1l2 2v1l-2 2h-1l-2-2v-1zM236.5 891.5h1l2 2v1l-2 2h-1l-2-2v-1zM237.5 889.5h1l2 2v1l-2 2h-1l-2-2v-1zM238.5 891.5h1l2 2v1l-2 2h-1l-2-2v-1zM239.5 891.5h1l2 2v1l-2 2h-1l-2-2v-1zM240.5 891.5h1l2 2v1l-2 2h-1l-2-2v-1zM240.5 891.5h1l2 2v1l-2 2h-1l-2-2v-1zM241.5 888.5h1l2 2v1l-2 2h-1l-2-2v-1zM242.5 889.5h1l2 2v1l-2 2h-1l-2-2v-1zM243.5 891.5h1l2 2v1l-2 2h-1l-2-2v-1zM244.5 890.5h1l2 2v1l-2 2h-1l-2-2v-1zM245.5 891.5h1l2 2v1l-2 2h-1l-2-2v-1zM246.5 889.5h1l2 2v1l-2 2h-1l-2-2v-1zM247.5 891.5h1l2 2v1l-2 2h-1l-2-2v-1zM248.5 889.5h1l2 2v1l-2 2h-1l-2-2v-1zM249.5 889.5h1l2 2v1l-2 2h-1l-2-2v-1zM249.5 889.5h1l2 2v1l-2 2h-1l-2-2v-1zM250.5 888.5h1l2 2v1l-2 2h-1l-2-2v-1zM251.5 889.5h1l2 2v1l-2 2h-1l-2-2v-1zM252.5 890.5h1l2 2v1l-2 2h-1l-2-2v-1zM253.5 890.5h1l2 2v1l-2 2h-1l-2-2v-1zM254.5 891.5h1l2 2v1l-2 2h-1l-2-2v-1zM255.5 890.5h1l2 2v1l-2 2h-1l-2-2v-1zM256.5 891.5h1l2 2v1l-2 2h-1l-2-2v-1zM257.5 888.5h1l2 2v1l-2 2h-1l-2-2v-1zM258.5 889.5h1l2 2v1l-2 2h-1l-2-2v-1zM258.5 891.5h1l2 2v1l-2 2h-1l-2-2v-1zM259.5 888.5h1l2 2v1l-2 2h-1l-2-2v-1zM260.5 889.5h1l2 2v1l-2 2h-1l-2-2v-1zM261.5 890.5h1l2 2v1l-2 2h-1l-2-2v-1zM262.5 891.5h1l2 2v1l-2 2h-1l-2-2v-1zM263.5 890.5h1l2 2v1l-2 2h-1l-2-2v-1zM264.5 890.5h1l2 2v1l-2 2h-1l-2-2v-1zM265.5 889.5h1l2 2v1l-2 2h-1l-2-2v-1zM266.5 891.5h1l2 2v1l-2 2h-1l-2-2v-1zM267.5 890.5h1l2 2v1l-2 2h-1l-2-2v-1zM267.5 888.5h1l2 2v1l-2 2h-1l-2-2v-1zM268.5 889.5h1l2 2v1l-2 2h-1l-2-2v-1zM269.5 891.5h1l2 2v1l-2 2h-1l-2-2v-1zM270.5 891.5h1l2 2v1l-2 2h-1l-2-2v-1zM271.5 889.5h1l2 2v1l-2 2h-1l-2-2v-1zM272.5 890.5h1l2 2v1l-2 2h-1l-2-2v-1zM273.5 891.5h1l2 2v1l-2 2h-1l-2-2v-1zM274.5 890.5h1l2 2v1l-2 2h-1l-2-2v-1zM275.5 890.5h1l2 2v1l-2 2h-1l-2-2v-1zM276.5 890.5h1l2 2v1l-2 2h-1l-2-2v-1zM276.5 891.5h1l2 2v1l-2 2h-1l-2-2v-1zM277.5 889.5h1l2 2v1l-2 2h-1l-2-2v-1zM278.5 889.5h1l2 2v1l-2 2h-1l-2-2v-1zM279.5 890.5h1l2 2v1l-2 2h-1l-2-2v-1zM280.5 891.5h1l2 2v1l-2 2h-1l-2-2v-1zM281.5 891.5h1l2 2v1l-2 2h-1l-2-2v-1zM282.5 890.5h1l2 2v1l-2 2h-1l-2-2v-1zM283.5 890.5h1l2 2v1l-2 2h-1l-2-2v-1zM284.5 891.5h1l2 2v1l-2 2h-1l-2-2v-1zM285.5 888.5h1l2 2v1l-2 2h-1l-2-2v-1zM285.5 889.5h1l2 2v1l-2 2h-1l-2-2v-1zM286.5 889.5h1l2 2v1l-2 2h-1l-2-2v-1zM287.5 891.5h1l2 2v1l-2 2h-1l-2-2v-1zM288.5 891.5h1l2 2v1l-2 2h-1l-2-2v-1zM289.5 891.5h1l2 2v1l-2 2h-1l-2-2v-1zM290.5 888.5h1l2 2v1l-2 2h-1l-2-2v-1zM291.5 891.5h1l2 2v1l-2 2h-1l-2-2v-1zM292.5 891.5h1l2 2v1l-2 2h-1l-2-2v-1zM293.5 891.5h1l2 2v1l-2 2h-1l-2-2v-1zM294.5 891.5h1l2 2v1l-2 2h-1l-2-2v-1zM294.5 890.5h1l2 2v1l-2 2h-1l-2-2v-1zM295.5 890.5h1l2 2v1l-2 2h-1l-2-2v-1zM296.5 889.5h1l2 2v1l-2 2h-1l-2-2v-1zM297.5 891.5h1l2 2v1l-2 2h-1l-2-2v-1zM298.5 889.5h1l2 2v1l-2 2h-1l-2-2v-1zM299.5 888.5h1l2 2v1l-2 2h-1l-2-2v-1zM300.5 891.5h1l2 2v1l-2 2h-1l-2-2v-1zM301.5 889.5h1l2 2v1l-2 2h-1l-2-2v-1zM302.5 889.5h1l2 2v1l-2 2h-1l-2-2v-1zM302.5 890.5h1l2 2v1l-2 2h-1l-2-2v-1zM303.5 889.5h1l2 2v1l-2 2h-1l-2-2v-1zM304.5 890.5h1l2 2v1l-2 2h-1l-2-2v-1zM305.5 888.5h1l2 2v1l-2 2h-1l-2-2v-1zM306.5 890.5h1l2 2v1l-2 2h-1l-2-2v-1zM307.5 890.5h1l2 2v1l-2 2h-1l-2-2v-1zM308.5 889.5h1l2 2v1l-2 2h-1l-2-2v-1zM309.5 889.5h1l2 2v1l-2 2h-1l-2-2v-1zM310.5 889.5h1l2 2v1l-2 2h-1l-2-2v-1zM311.5 889.5h1l2 2v1l-2 2h-1l-2-2v-1zM311.5 891.5h1l2 2v1l-2 2h-1l-2-2v-1zM312.5 891.5h1l2 2v1l-2 2h-1l-2-2v-1zM313.5 891.5h1l2 2v1l-2 2h-1l-2-2v-1zM314.5 891.5h1l2 2v1l-2 2h-1l-2-2v-1zM315.5 889.5h1l2 2v1l-2 2h-1l-2-2v-1zM316.5 890.5h1l2 2v1l-2 2h-1l-2-2v-1zM317.5 890.5h1l2 2v1l-2 2h-1l-2-2v-1zM318.5 889.5h1l2 2v1l-2 2h-1l-2-2v-1zM319.5 890.5h1l2 2v1l-2 2h-1l-2-2v-1zM320.5 890.5h1l2 2v1l-2 2h-1l-2-2v-1zM320.5 891.5h1l2 2v1l-2 2h-1l-2-2v-1zM321.5 888.5h1l2 2v1l-2 2h-1l-2-2v-1zM322.5 889.5h1l2 2v1l-2 2h-1l-2-2v-1zM323.5 889.5h1l2 2v1l-2 2h-1l-2-2v-1zM324.5 891.5h1l2 2v1l-2 2h-1l-2-2v-1zM325.5 890.5h1l2 2v1l-2 2h-1l-2-2v-1zM326.5 889.5h1l2 2v1l-2 2h-1l-2-2v-1zM327.5 890.5h1l2 2v1l-2 2h-1l-2-2v-1zM328.5 890.5h1l2 2v1l-2 2h-1l-2-2v-1zM329.5 890.5h1l2 2v1l-2 2h-1l-2-2v-1zM329.5 889.5h1l2 2v1l-2 2h-1l-2-2v-1zM330.5 888.5h1l2 2v1l-2 2h-1l-2-2v-1zM331.5 891.5h1l2 2v1l-2 2h-1l-2-2v-1zM332.5 889.5h1l2 2v1l-2 2h-1l-2-2v-1zM333.5 890.5h1l2 2v1l-2 2h-1l-2-2v-1zM334.5 889.5h1l2 2v1l-2 2h-1l-2-2v-1zM335.5 890.5h1l2 2v1l-2 2h-1l-2-2v-1zM336.5 890.5h1l2 2v1l-2 2h-1l-2-2v-1zM337.5 891.5h1l2 2v1l-2 2h-1l-2-2v-1zM338.5 889.5h1l2 2v1l-2 2h-1l-2-2v-1zM338.5 891.5h1l2 2v1l-2 2h-1l-2-2v-1zM339.5 890.5h1l2 2v1l-2 2h-1l-2-2v-1zM340.5 888.5h1l2 2v1l-2 2h-1l-2-2v-1zM341.5 891.5h1l2 2v1l-2 2h-1l-2-2v-1zM342.5 889.5h1l2 2v1l-2 2h-1l-2-2v-1zM343.5 890.5h1l2 2v1l-2 2h-1l-2-2v-1zM344.5 888.5h1l2 2v1l-2 2h-1l-2-2v-1zM345.5 889.5h1l2 2v1l-2 2h-1l-2-2v-1zM346.5 890.5h1l2 2v1l-2 2h-1l-2-2v-1zM347.5 889.5h1l2 2v1l-2 2h-1l-2-2v-1zM347.5 888.5h1l2 2v1l-2 2h-1l-2-2v-1zM348.5 888.5h1l2 2v1l-2 2h-1l-2-2v-1zM349.5 889.5h1l2 2v1l-2 2h-1l-2-2v-1zM350.5 891.5h1l2 2v1l-2 2h-1l-2-2v-1zM351.5 889.5h1l2 2v1l-2 2h-1l-2-2v-1zM352.5 890.5h1l2 2v1l-2 2h-1l-2-2v-1zM353.5 888.5h1l2 2v1l-2 2h-1l-2-2v-1zM354.5 891.5h1l2 2v1l-2 2h-1l-2-2v-1zM355.5 890.5h1l2 2v1l-2 2h-1l-2-2v-1zM356.5 890.5h1l2 2v1l-2 2h-1l-2-2v-1zM356.5 890.5h1l2 2v1l-2 2h-1l-2-2v-1zM357.5 891.5h1l2 2v1l-2 2h-1l-2-2v-1zM358.5 890.5h1l2 2v1l-2 2h-1l-2-2v-1zM359.5 889.5h1l2 2v1l-2 2h-1l-2-2v-1zM360.5 891.5h1l2 2v1l-2 2h-1l-2-2v-1zM361.5 889.5h1l2 2v1l-2 2h-1l-2-2v-1zM362.5 891.5h1l2 2v1l-2 2h-1l-2-2v-1zM363.5 889.5h1l2 2v1l-2 2h-1l-2-2v-1zM364.5 889.5h1l2 2v1l-2 2h-1l-2-2v-1zM365.5 890.5h1l2 2v1l-2 2h-1l-2-2v-1zM365.5 890.5h1l2 2v1l-2 2h-1l-2-2v-1zM366.5 889.5h1l2 2v1l-2 2h-1l-2-2v-1zM367.5 889.5h1l2 2v1l-2 2h-1l-2-2v-1zM368.5 890.5h1l2 2v1l-2 2h-1l-2-2v-1zM369.5 888.5h1l2 2v1l-2 2h-1l-2-2v-1zM370.5 890.5h1l2 2v1l-2 2h-1l-2-2v-1zM371.5 889.5h1l2 2v1l-2 2h-1l-2-2v-1zM372.5 890.5h1l2 2v1l-2 2h-1l-2-2v-1zM373.5 891.5h1l2 2v1l-2 2h-1l-2-2v-1zM374.5 890.5h1l2 2v1l-2 2h-1l-2-2v-1zM374.5 891.5h1l2 2v1l-2 2h-1l-2-2v-1zM375.5 889.5h1l2 2v1l-2 2h-1l-2-2v-1zM376.5 888.5h1l2 2v1l-2 2h-1l-2-2v-1zM377.5 889.5h1l2 2v1l-2 2h-1l-2-2v-1zM378.5 891.5h1l2 2v1l-2 2h-1l-2-2v-1zM379.5 891.5h1l2 2v1l-2 2h-1l-2-2v-1zM380.5 890.5h1l2 2v1l-2 2h-1l-2-2v-1zM381.5 891.5h1l2 2v1l-2 2h-1l-2-2v-1zM382.5 891.5h1l2 2v1l-2 2h-1l-2-2v-1zM383.5 889.5h1l2 2v1l-2 2h-1l-2-2v-1zM383.5 890.5h1l2 2v1l-2 2h-1l-2-2v-1zM384.5 891.5h1l2 2v1l-2 2h-1l-2-2v-1zM385.5 889.5h1l2 2v1l-2 2h-1l-2-2v-1zM386.5 891.5h1l2 2v1l-2 2h-1l-2-2v-1zM387.5 891.5h1l2 2v1l-2 2h-1l-2-2v-1zM388.5 890.5h1l2 2v1l-2 2h-1l-2-2v-1zM389.5 890.5h1l2 2v1l-2 2h-1l-2-2v-1zM390.5 891.5h1l2 2v1l-2 2h-1l-2-2v-1zM391.5 889.5h1l2 2v1l-2 2h-1l-2-2v-1zM392.5 888.5h1l2 2v1l-2 2h-1l-2-2v-1zM392.5 889.5h1l2 2v1l-2 2h-1l-2-2v-1zM393.5 891.5h1l2 2v1l-2 2h-1l-2-2v-1zM394.5 889.5h1l2 2v1l-2 2h-1l-2-2v-1zM395.5 888.5h1l2 2v1l-2 2h-1l-2-2v-1zM396.5 891.5h1l2 2v1l-2 2h-1l-2-2v-1zM397.5 890.5h1l2 2v1l-2 2h-1l-2-2v-1zM398.5 890.5h1l2 2v1l-2 2h-1l-2-2v-1zM399.5 888.5h1l2 2v1l-2 2h-1l-2-2v-1zM400.5 888.5h1l2 2v1l-2 2h-1l-2-2v-1zM401.5 889.5h1l2 2v1l-2 2h-1l-2-2v-1zM401.5 889.5h1l2 2v1l-2 2h-1l-2-2v-1zM402.5 889.5h1l2 2v1l-2 2h-1l-2-2v-1zM403.5 890.5h1l2 2v1l-2 2h-1l-2-2v-1zM404.5 888.5h1l2 2v1l-2 2h-1l-2-2v-1zM405.5 888.5h1l2 2v1l-2 2h-1l-2-2v-1zM406.5 889.5h1l2 2v1l-2 2h-1l-2-2v-1zM407.5 889.5h1l2 2v1l-2 2h-1l-2-2v-1zM408.5 890.5h1l2 2v1l-2 2h-1l-2-2v-1zM409.5 891.5h1l2 2v1l-2 2h-1l-2-2v-1zM410.5 891.5h1l2 2v1l-2 2h-1l-2-2v-1zM410.5 891.5h1l2 2v1l-2 2h-1l-2-2v-1zM411.5 891.5h1l2 2v1l-2 2h-1l-2-2v-1zM412.5 889.5h1l2 2v1l-2 2h-1l-2-2v-1zM413.5 889.5h1l2 2v1l-2 2h-1l-2-2v-1zM414.5 889.5h1l2 2v1l-2 2h-1l-2-2v-1zM415.5 889.5h1l2 2v1l-2 2h-1l-2-2v-1zM416.5 890.5h1l2 2v1l-2 2h-1l-2-2v-1zM417.5 891.5h1l2 2v1l-2 2h-1l-2-2v-1zM418.5 891.5h1l2 2v1l-2 2h-1l-2-2v-1zM419.5 889.5h1l2 2v1l-2 2h-1l-2-2v-1zM419.5 890.5h1l2 2v1l-2 2h-1l-2-2v-1zM420.5 891.5h1l2 2v1l-2 2h-1l-2-2v-1zM421.5 889.5h1l2 2v1l-2 2h-1l-2-2v-1zM422.5 888.5h1l2 2v1l-2 2h-1l-2-2v-1zM423.5 891.5h1l2 2v1l-2 2h-1l-2-2v-1zM424.5 890.5h1l2 2v1l-2 2h-1l-2-2v-1zM425.5 891.5h1l2 2v1l-2 2h-1l-2-2v-1zM426.5 889.5h1l2 2v1l-2 2h-1l-2-2v-1zM427.5 891.5h1l2 2v1l-2 2h-1l-2-2v-1zM428.5 891.5h1l2 2v1l-2 2h-1l-2-2v-1zM428.5 891.5h1l2 2v1l-2 2h-1l-2-2v-1zM429.5 888.5h1l2 2v1l-2 2h-1l-2-2v-1zM430.5 888.5h1l2 2v1l-2 2h-1l-2-2v-1zM431.5 888.5h1l2 2v1l-2 2h-1l-2-2v-1zM432.5 889.5h1l2 2v1l-2 2h-1l-2-2v-1zM433.5 891.5h1l2 2v1l-2 2h-1l-2-2v-1zM434.5 891.5h1l2 2v1l-2 2h-1l-2-2v-1zM435.5 891.5h1l2 2v1l-2 2h-1l-2-2v-1zM436.5 888.5h1l2 2v1l-2 2h-1l-2-2v-1zM437.5 888.5h1l2 2v1l-2 2h-1l-2-2v-1zM437.5 889.5h1l2 2v1l-2 2h-1l-2-2v-1zM438.5 890.5h1l2 2v1l-2 2h-1l-2-2v-1zM439.5 891.5h1l2 2v1l-2 2h-1l-2-2v-1zM440.5 888.5h1l2 2v1l-2 2h-1l-2-2v-1zM441.5 888.5h1l2 2v1l-2 2h-1l-2-2v-1zM442.5 891.5h1l2 2v1l-2 2h-1l-2-2v-1zM443.5 889.5h1l2 2v1l-2 2h-1l-2-2v-1zM444.5 890.5h1l2 2v1l-2 2h-1l-2-2v-1zM445.5 889.5h1l2 2v1l-2 2h-1l-2-2v-1zM446.5 888.5h1l2 2v1l-2 2h-1l-2-2v-1zM446.5 890.5h1l2 2v1l-2 2h-1l-2-2v-1zM447.5 891.5h1l2 2v1l-2 2h-1l-2-2v-1zM448.5 890.5h1l2 2v1l-2 2h-1l-2-2v-1zM449.5 891.5h1l2 2v1l-2 2h-1l-2-2v-1zM450.5 891.5h1l2 2v1l-2 2h-1l-2-2v-1zM451.5 891.5h1l2 2v1l-2 2h-1l-2-2v-1zM452.5 890.5h1l2 2v1l-2 2h-1l-2-2v-1zM453.5 890.5h1l2 2v1l-2 2h-1l-2-2v-1zM454.5 889.5h1l2 2v1l-2 2h-1l-2-2v-1zM455.5 889.5h1l2 2v1l-2 2h-1l-2-2v-1zM455.5 888.5h1l2 2v1l-2 2h-1l-2-2v-1zM456.5 891.5h1l2 2v1l-2 2h-1l-2-2v-1zM457.5 891.5h1l2 2v1l-2 2h-1l-2-2v-1zM458.5 891.5h1l2 2v1l-2 2h-1l-2-2v-1zM459.5 891.5h1l2 2v1l-2 2h-1l-2-2v-1zM460.5 891.5h1l2 2v1l-2 2h-1l-2-2v-1zM461.5 889.5h1l2 2v1l-2 2h-1l-2-2v-1zM462.5 889.5h1l2 2v1l-2 2h-1l-2-2v-1zM463.5 891.5h1l2 2v1l-2 2h-1l-2-2v-1zM464.5 888.5h1l2 2v1l-2 2h-1l-2-2v-1zM464.5 889.5h1l2 2v1l-2 2h-1l-2-2v-1zM465.5 890.5h1l2 2v1l-2 2h-1l-2-2v-1zM466.5 891.5h1l2 2v1l-2 2h-1l-2-2v-1zM467.5 888.5h1l2 2v1l-2 2h-1l-2-2v-1zM468.5 888.5h1l2 2v1l-2 2h-1l-2-2v-1zM469.5 889.5h1l2 2v1l-2 2h-1l-2-2v-1zM470.5 891.5h1l2 2v1l-2 2h-1l-2-2v-1zM471.5 891.5h1l2 2v1l-2 2h-1l-2-2v-1zM472.5 891.5h1l2 2v1l-2 2h-1l-2-2v-1zM473.5 889.5h1l2 2v1l-2 2h-1l-2-2v-1zM473.5 891.5h1l2 2v1l-2 2h-1l-2-2v-1zM474.5 890.5h1l2 2v1l-2 2h-1l-2-2v-1zM475.5 889.5h1l2 2v1l-2 2h-1l-2-2v-1zM476.5 890.5h1l2 2v1l-2 2h-1l-2-2v-1zM477.5 890.5h1l2 2v1l-2 2h-1l-2-2v-1zM478.5 890.5h1l2 2v1l-2 2h-1l-2-2v-1zM479.5 890.5h1l2 2v1l-2 2h-1l-2-2v-1zM480.5 891.5h1l2 2v1l-2 2h-1l-2-2v-1zM481.5 891.5h1l2 2v1l-2 2h-1l-2-2v-1zM482.5 890.5h1l2 2v1l-2 2h-1l-2-2v-1zM482.5 891.5h1l2 2v1l-2 2h-1l-2-2v-1zM483.5 891.5h1l2 2v1l-2 2h-1l-2-2v-1zM484.5 889.5h1l2 2v1l-2 2h-1l-2-2v-1zM485.5 891.5h1l2 2v1l-2 2h-1l-2-2v-1zM486.5 890.5h1l2 2v1l-2 2h-1l-2-2v-1zM487.5 889.5h1l2 2v1l-2 2h-1l-2-2v-1zM488.5 889.5h1l2 2v1l-2 2h-1l-2-2v-1zM489.5 891.5h1l2 2v1l-2 2h-1l-2-2v-1zM490.5 891.5h1l2 2v1l-2 2h-1l-2-2v-1zM491.5 890.5h1l2 2v1l-2 2h-1l-2-2v-1zM491.5 889.5h1l2 2v1l-2 2h-1l-2-2v-1zM492.5 889.5h1l2 2v1l-2 2h-1l-2-2v-1zM493.5 890.5h1l2 2v1l-2 2h-1l-2-2v-1zM494.5 891.5h1l2 2v1l-2 2h-1l-2-2v-1zM495.5 891.5h1l2 2v1l-2 2h-1l-2-2v-1zM496.5 889.5h1l2 2v1l-2 2h-1l-2-2v-1zM497.5 889.5h1l2 2v1l-2 2h-1l-2-2v-1zM498.5 890.5h1l2 2v1l-2 2h-1l-2-2v-1zM499.5 891.5h1l2 2v1l-2 2h-1l-2-2v-1zM500.5 889.5h1l2 2v1l-2 2h-1l-2-2v-1zM500.5 889.5h1l2 2v1l-2 2h-1l-2-2v-1zM501.5 890.5h1l2 2v1l-2 2h-1l-2-2v-1zM502.5 888.5h1l2 2v1l-2 2h-1l-2-2v-1zM503.5 890.5h1l2 2v1l-2 2h-1l-2-2v-1zM504.5 891.5h1l2 2v1l-2 2h-1l-2-2v-1zM505.5 889.5h1l2 2v1l-2 2h-1l-2-2v-1zM506.5 889.5h1l2 2v1l-2 2h-1l-2-2v-1zM507.5 889.5h1l2 2v1l-2 2h-1l-2-2v-1zM508.5 890.5h1l2 2v1l-2 2h-1l-2-2v-1zM509.5 890.5h1l2 2v1l-2 2h-1l-2-2v-1zM509.5 890.5h1l2 2v1l-2 2h-1l-2-2v-1zM510.5 889.5h1l2 2v1l-2 2h-1l-2-2v-1zM511.5 890.5h1l2 2v1l-2 2h-1l-2-2v-1zM512.5 888.5h1l2 2v1l-2 2h-1l-2-2v-1zM513.5 891.5h1l2 2v1l-2 2h-1l-2-2v-1zM514.5 889.5h1l2 2v1l-2 2h-1l-2-2v-1zM515.5 889.5h1l2 2v1l-2 2h-1l-2-2v-1zM516.5 888.5h1l2 2v1l-2 2h-1l-2-2v-1zM517.5 891.5h1l2 2v1l-2 2h-1l-2-2v-1zM518.5 889.5h1l2 2v1l-2 2h-1l-2-2v-1zM518.5 888.5h1l2 2v1l-2 2h-1l-2-2v-1zM519.5 890.5h1l2 2v1l-2 2h-1l-2-2v-1zM520.5 890.5h1l2 2v1l-2 2h-1l-2-2v-1zM521.5 888.5h1l2 2v1l-2 2h-1l-2-2v-1zM522.5 889.5h1l2 2v1l-2 2h-1l-2-2v-1zM523.5 888.5h1l2 2v1l-2 2h-1l-2-2v-1zM524.5 890.5h1l2 2v1l-2 2h-1l-2-2v-1zM525.5 891.5h1l2 2v1l-2 2h-1l-2-2v-1zM526.5 889.5h1l2 2v1l-2 2h-1l-2-2v-1zM527.5 890.5h1l2 2v1l-2 2h-1l-2-2v-1zM527.5 891.5h1l2 2v1l-2 2h-1l-2-2v-1zM528.5 890.5h1l2 2v1l-2 2h-1l-2-2v-1zM529.5 889.5h1l2 2v1l-2 2h-1l-2-2v-1zM530.5 890.5h1l2 2v1l-2 2h-1l-2-2v-1zM531.5 891.5h1l2 2v1l-2 2h-1l-2-2v-1zM532.5 889.5h1l2 2v1l-2 2h-1l-2-2v-1zM533.5 891.5h1l2 2v1l-2 2h-1l-2-2v-1zM534.5 889.5h1l2 2v1l-2 2h-1l-2-2v-1zM535.5 891.5h1l2 2v1l-2 2h-1l-2-2v-1zM536.5 889.5h1l2 2v1l-2 2h-1l-2-2v-1zM536.5 888.5h1l2 2v1l-2 2h-1l-2-2v-1zM537.5 891.5h1l2 2v1l-2 2h-1l-2-2v-1zM538.5 889.5h1l2 2v1l-2 2h-1l-2-2v-1zM539.5 891.5h1l2 2v1l-2 2h-1l-2-2v-1zM540.5 890.5h1l2 2v1l-2 2h-1l-2-2v-1zM541.5 888.5h1l2 2v1l-2 2h-1l-2-2v-1zM542.5 890.5h1l2 2v1l-2 2h-1l-2-2v-1zM543.5 890.5h1l2 2v1l-2 2h-1l-2-2v-1zM544.5 889.5h1l2 2v1l-2 2h-1l-2-2v-1zM545.5 890.5h1l2 2v1l-2 2h-1l-2-2v-1zM545.5 891.5h1l2 2v1l-2 2h-1l-2-2v-1zM546.5 891.5h1l2 2v1l-2 2h-1l-2-2v-1zM547.5 888.5h1l2 2v1l-2 2h-1l-2-2v-1zM548.5 889.5h1l2 2v1l-2 2h-1l-2-2v-1zM549.5 888.5h1l2 2v1l-2 2h-1l-2-2v-1zM550.5 888.5h1l2 2v1l-2 2h-1l-2-2v-1zM551.5 889.5h1l2 2v1l-2 2h-1l-2-2v-1zM552.5 889.5h1l2 2v1l-2 2h-1l-2-2v-1zM553.5 889.5h1l2 2v1l-2 2h-1l-2-2v-1zM554.5 889.5h1l2 2v1l-2 2h-1l-2-2v-1zM554.5 887.5h1l2 2v1l-2 2h-1l-2-2v-1zM555.5 887.5h1l2 2v1l-2 2h-1l-2-2v-1zM556.5 889.5h1l2 2v1l-2 2h-1l-2-2v-1zM557.5 887.5h1l2 2v1l-2 2h-1l-2-2v-1zM558.5 887.5h1l2 2v1l-2 2h-1l-2-2v-1zM559.5 887.5h1l2 2v1l-2 2h-1l-2-2v-1zM560.5 888.5h1l2 2v1l-2 2h-1l-2-2v-1zM561.5 887.5h1l2 2v1l-2 2h-1l-2-2v-1zM562.5 891.5h1l2 2v1l-2 2h-1l-2-2v-1zM563.5 888.5h1l2 2v1l-2 2h-1l-2-2v-1zM563.5 890.5h1l2 2v1l-2 2h-1l-2-2v-1zM564.5 887.5h1l2 2v1l-2 2h-1l-2-2v-1zM565.5 887.5h1l2 2v1l-2 2h-1l-2-2v-1zM566.5 887.5h1l2 2v1l-2 2h-1l-2-2v-1zM567.5 887.5h1l2 2v1l-2 2h-1l-2-2v-1zM568.5 890.5h1l2 2v1l-2 2h-1l-2-2v-1zM569.5 889.5h1l2 2v1l-2 2h-1l-2-2v-1zM570.5 887.5h1l2 2v1l-2 2h-1l-2-2v-1zM571.5 888.5h1l2 2v1l-2 2h-1l-2-2v-1zM572.5 888.5h1l2 2v1l-2 2h-1l-2-2v-1zM572.5 891.5h1l2 2v1l-2 2h-1l-2-2v-1zM573.5 889.5h1l2 2v1l-2 2h-1l-2-2v-1zM574.5 888.5h1l2 2v1l-2 2h-1l-2-2v-1zM575.5 890.5h1l2 2v1l-2 2h-1l-2-2v-1zM576.5 887.5h1l2 2v1l-2 2h-1l-2-2v-1zM577.5 890.5h1l2 2v1l-2 2h-1l-2-2v-1zM578.5 889.5h1l2 2v1l-2 2h-1l-2-2v-1zM579.5 889.5h1l2 2v1l-2 2h-1l-2-2v-1zM580.5 888.5h1l2 2v1l-2 2h-1l-2-2v-1zM581.5 888.5h1l2 2v1l-2 2h-1l-2-2v-1zM581.5 888.5h1l2 2v1l-2 2h-1l-2-2v-1zM582.5 890.5h1l2 2v1l-2 2h-1l-2-2v-1zM583.5 891.5h1l2 2v1l-2 2h-1l-2-2v-1zM584.5 890.5h1l2 2v1l-2 2h-1l-2-2v-1zM585.5 889.5h1l2 2v1l-2 2h-1l-2-2v-1zM586.5 887.5h1l2 2v1l-2 2h-1l-2-2v-1zM587.5 888.5h1l2 2v1l-2 2h-1l-2-2v-1zM588.5 890.5h1l2 2v1l-2 2h-1l-2-2v-1zM589.5 890.5h1l2 2v1l-2 2h-1l-2-2v-1zM590.5 889.5h1l2 2v1l-2 2h-1l-2-2v-1zM590.5 889.5h1l2 2v1l-2 2h-1l-2-2v-1zM591.5 888.5h1l2 2v1l-2 2h-1l-2-2v-1zM592.5 887.5h1l2 2v1l-2 2h-1l-2-2v-1zM593.5 891.5h1l2 2v1l-2 2h-1l-2-2v-1zM594.5 888.5h1l2 2v1l-2 2h-1l-2-2v-1zM595.5 889.5h1l2 2v1l-2 2h-1l-2-2v-1zM596.5 891.5h1l2 2v1l-2 2h-1l-2-2v-1zM597.5 890.5h1l2 2v1l-2 2h-1l-2-2v-1zM54.5 870.5h1l2 2v1l-2 2h-1l-2-2v-1zM54.5 882.5h1l2 2v1l-2 2h-1l-2-2v-1zM89.5 871.5h1l2 2v1l-2 2h-1l-2-2v-1zM115.5 885.5h1l2 2v1l-2 2h-1l-2-2v-1zM132.5 872.5h1l2 2v1l-2 2h-1l-2-2v-1zM158.5 881.5h1l2 2v1l-2 2h-1l-2-2v-1zM174.5 867.5h1l2 2v1l-2 2h-1l-2-2v-1zM190.5 877.5h1l2 2v1l-2 2h-1l-2-2v-1zM199.5 878.5h1l2 2v1l-2 2h-1l-2-2v-1zM206.5 880.5h1l2 2v1l-2 2h-1l-2-2v-1zM216.5 876.5h1l2 2v1l-2 2h-1l-2-2v-1zM256.5 878.5h1l2 2v1l-2 2h-1l-2-2v-1zM273.5 882.5h1l2 2v1l-2 2h-1l-2-2v-1zM301.5 859.5h1l2 2v1l-2 2h-1l-2-2v-1zM301.5 868.5h1l2 2v1l-2 2h-1l-2-2v-1zM318.5 885.5h1l2 2v1l-2 2h-1l-2-2v-1zM346.5 879.5h1l2 2v1l-2 2h-1l-2-2v-1zM354.5 885.5h1l2 2v1l-2 2h-1l-2-2v-1zM377.5 883.5h1l2 2v1l-2 2h-1l-2-2v-1zM398.5 854.5h1l2 2v1l-2 2h-1l-2-2v-1zM398.5 882.5h1l2 2v1l-2 2h-1l-2-2v-1zM439.5 880.5h1l2 2v1l-2 2h-1l-2-2v-1zM439.5 885.5h1l2 2v1l-2 2h-1l-2-2v-1zM471.5 883.5h1l2 2v1l-2 2h-1l-2-2v-1zM521.5 866.5h1l2 2v1l-2 2h-1l-2-2v-1zM521.5 877.5h1l2 2v1l-2 2h-1l-2-2v-1zM553.5 861.5h1l2 2v1l-2 2h-1l-2-2v-1zM561.5 878.5h1l2 2v1l-2 2h-1l-2-2v-1zM596.5 869.5h1l2 2v1l-2 2h-1l-2-2v-1zM596.5 873.5h1l2 2v1l-2 2h-1l-2-2v-1zM596.5 877.5h1l2 2v1l-2 2h-1l-2-2v-1z"/>
<path stroke="#f00" d="M55.5 894.5h1l2 2v1l-2 2h-1l-2-2v-1zM56.5 891.5h1l2 2v1l-2 2h-1l-2-2v-1zM57.5 893.5h1l2 2v1l-2 2h-1l-2-2v-1zM58.5 890.5h1l2 2v1l-2 2h-1l-2-2v-1zM58.5 894.5h1l2 2v1l-2 2h-1l-2-2v-1zM59.5 895.5h1l2 2v1l-2 2h-1l-2-2v-1zM59.5 892.5h1l2 2v1l-2 2h-1l-2-2v-1zM59.5 896.5h1l2 2v1l-2 2h-1l-2-2v-1zM60.5 894.5h1l2 2v1l-2 2h-1l-2-2v-1zM61.5 892.5h1l2 2v1l-2 2h-1l-2-2v-1zM61.5 891.5h1l2 2v1l-2 2h-1l-2-2v-1zM62.5 891.5h1l2 2v1l-2 2h-1l-2-2v-1zM63.5 896.5h1l2 2v1l-2 2h-1l-2-2v-1zM64.5 894.5h1l2 2v1l-2 2h-1l-2-2v-1zM64.5 893.5h1l2 2v1l-2 2h-1l-2-2v-1zM64.5 890.5h1l2 2v1l-2 2h-1l-2-2v-1zM65.5 891.5h1l2 2v1l-2 2h-1l-2-2v-1zM66.5 896.5h1l2 2v1l-2 2h-1l-2-2v-1zM67.5 895.5h1l2 2v1l-2 2h-1l-2-2v-1zM68.5 891.5h1l2 2v1l-2 2h-1l-2-2v-1zM68.5 895.5h1l2 2v1l-2 2h-1l-2-2v-1zM69.5 896.5h1l2 2v1l-2 2h-1l-2-2v-1zM69.5 892.5h1l2 2v1l-2 2h-1l-2-2v-1zM70.5 893.5h1l2 2v1l-2 2h-1l-2-2v-1zM70.5 892.5h1l2 2v1l-2 2h-1l-2-2v-1zM71.5 891.5h1l2 2v1l-2 2h-1l-2-2v-1zM71.5 896.5h1l2 2v1l-2 2h-1l-2-2v-1zM72.5 893.5h1l2 2v1l-2 2h-1l-2-2v-1zM72.5 895.5h1l2 2v1l-2 2h-1l-2-2v-1zM73.5 894.5h1l2 2v1l-2 2h-1l-2-2v-1zM73.5 894.5h1l2 2v1l-2 2h-1l-2-2v-1zM73.5 891.5h1l2 2v1l-2 2h-1l-2-2v-1zM74.5 896.5h1l2 2v1l-2 2h-1l-2-2v-1zM74.5 894.5h1l2 2v1l-2 2h-1l-2-2v-1zM75.5 890.5h1l2 2v1l-2 2h-1l-2-2v-1zM75.5 895.5h1l2 2v1l-2 2h-1l-2-2v-1zM76.5 892.5h1l2 2v1l-2 2h-1l-2-2v-1zM77.5 896.5h1l2 2v1l-2 2h-1l-2-2v-1zM78.5 896.5h1l2 2v1l-2 2h-1l-2-2v-1zM78.5 896.5h1l2 2v1l-2 2h-1l-2-2v-1zM79.5 892.5h1l2 2v1l-2 2h-1l-2-2v-1zM79.5 896.5h1l2 2v1l-2 2h-1l-2-2v-1zM80.5 890.5h1l2 2v1l-2 2h-1l-2-2v-1zM80.5 895.5h1l2 2v1l-2 2h-1l-2-2v-1zM81.5 895.5h1l2 2v1l-2 2h-1l-2-2v-1zM81.5 892.5h1l2 2v1l-2 2h-1l-2-2v-1zM82.5 893.5h1l2 2v1l-2 2h-1l-2-2v-1zM82.5 890.5h1l2 2v1l-2 2h-1l-2-2v-1zM82.5 896.5h1l2 2v1l-2 2h-1l-2-2v-1zM83.5 895.5h1l2 2v1l-2 2h-1l-2-2v-1zM83.5 892.5h1l2 2v1l-2 2h-1l-2-2v-1zM84.5 893.5h1l2 2v1l-2 2h-1l-2-2v-1zM85.5 891.5h1l2 2v1l-2 2h-1l-2-2v-1zM86.5 896.5h1l2 2v1l-2 2h-1l-2-2v-1zM87.5 894.5h1l2 2v1l-2 2h-1l-2-2v-1zM87.5 893.5h1l2 2v1l-2 2h-1l-2-2v-1zM88.5 895.5h1l2 2v1l-2 2h-1l-2-2v-1zM88.5 894.5h1l2 2v1l-2 2h-1l-2-2v-1zM89.5 894.5h1l2 2v1l-2 2h-1l-2-2v-1zM90.5 894.5h1l2 2v1l-2 2h-1l-2-2v-1zM91.5 893.5h1l2 2v1l-2 2h-1l-2-2v-1zM91.5 896.5h1l2 2v1l-2 2h-1l-2-2v-1zM91.5 891.5h1l2 2v1l-2 2h-1l-2-2v-1zM92.5 890.5h1l2 2v1l-2 2h-1l-2-2v-1zM92.5 891.5h1l2 2v1l-2 2h-1l-2-2v-1zM93.5 894.5h1l2 2v1l-2 2h-1l-2-2v-1zM93.5 894.5h1l2 2v1l-2 2h-1l-2-2v-1zM94.5 893.5h1l2 2v1l-2 2h-1l-2-2v-1zM94.5 891.5h1l2 2v1l-2 2h-1l-2-2v-1zM95.5 892.5h1l2 2v1l-2 2h-1l-2-2v-1zM96.5 890.5h1l2 2v1l-2 2h-1l-2-2v-1zM96.5 895.5h1l2 2v1l-2 2h-1l-2-2v-1zM97.5 893.5h1l2 2v1l-2 2h-1l-2-2v-1zM98.5 895.5h1l2 2v1l-2 2h-1l-2-2v-1zM98.5 895.5h1l2 2v1l-2 2h-1l-2-2v-1zM99.5 895.5h1l2 2v1l-2 2h-1l-2-2v-1zM99.5 890.5h1l2 2v1l-2 2h-1l-2-2v-1zM100.5 892.5h1l2 2v1l-2 2h-1l-2-2v-1zM100.5 892.5h1l2 2v1l-2 2h-1l-2-2v-1zM101.5 896.5h1l2 2v1l-2 2h-1l-2-2v-1zM101.5 894.5h1l2 2v1l-2 2h-1l-2-2v-1zM102.5 895.5h1l2 2v1l-2 2h-1l-2-2v-1zM103.5 894.5h1l2 2v1l-2 2h-1l-2-2v-1zM104.5 890.5h1l2 2v1l-2 2h-1l-2-2v-1zM105.5 892.5h1l2 2v1l-2 2h-1l-2-2v-1zM105.5 896.5h1l2 2v1l-2 2h-1l-2-2v-1zM105.5 890.5h1l2 2v1l-2 2h-1l-2-2v-1zM106.5 895.5h1l2 2v1l-2 2h-1l-2-2v-1zM106.5 893.5h1l2 2v1l-2 2h-1l-2-2v-1zM107.5 894.5h1l2 2v1l-2 2h-1l-2-2v-1zM108.5 893.5h1l2 2v1l-2 2h-1l-2-2v-1zM108.5 892.5h1l2 2v1l-2 2h-1l-2-2v-1zM109.5 890.5h1l2 2v1l-2 2h-1l-2-2v-1zM109.5 891.5h1l2 2v1l-2 2h-1l-2-2v-1zM110.5 895.5h1l2 2v1l-2 2h-1l-2-2v-1zM110.5 892.5h1l2 2v1l-2 2h-1l-2-2v-1zM111.5 893.5h1l2 2v1l-2 2h-1l-2-2v-1zM112.5 890.5h1l2 2v1l-2 2h-1l-2-2v-1zM112.5 893.5h1l2 2v1l-2 2h-1l-2-2v-1zM113.5 896.5h1l2 2v1l-2 2h-1l-2-2v-1zM114.5 895.5h1l2 2v1l-2 2h-1l-2-2v-1zM114.5 894.5h1l2 2v1l-2 2h-1l-2-2v-1zM115.5 896.5h1l2 2v1l-2 2h-1l-2-2v-1zM116.5 894.5h1l2 2v1l-2 2h-1l-2-2v-1zM116.5 896.5h1l2 2v1l-2 2h-1l-2-2v-1zM117.5 892.5h1l2 2v1l-2 2h-1l-2-2v-1zM118.5 893.5h1l2 2v1l-2 2h-1l-2-2v-1zM118.5 894.5h1l2 2v1l-2 2h-1l-2-2v-1zM118.5 892.5h1l2 2v1l-2 2h-1l-2-2v-1zM119.5 895.5h1l2 2v1l-2 2h-1l-2-2v-1zM119.5 891.5h1l2 2v1l-2 2h-1l-2-2v-1zM120.5 895.5h1l2 2v1l-2 2h-1l-2-2v-1zM120.5 892.5h1l2 2v1l-2 2h-1l-2-2v-1zM121.5 894.5h1l2 2v1l-2 2h-1l-2-2v-1zM121.5 896.5h1l2 2v1l-2 2h-1l-2-2v-1zM122.5 892.5h1l2 2v1l-2 2h-1l-2-2v-1zM123.5 894.5h1l2 2v1l-2 2h-1l-2-2v-1zM123.5 894.5h1l2 2v1l-2 2h-1l-2-2v-1zM123.5 892.5h1l2 2v1l-2 2h-1l-2-2v-1zM124.5 893.5h1l2 2v1l-2 2h-1l-2-2v-1zM125.5 891.5h1l2 2v1l-2 2h-1l-2-2v-1zM126.5 892.5h1l2 2v1l-2 2h-1l-2-2v-1zM126.5 896.5h1l2 2v1l-2 2h-1l-2-2v-1zM127.5 895.5h1l2 2v1l-2 2h-1l-2-2v-1zM127.5 895.5h1l2 2v1l-2 2h-1l-2-2v-1zM127.5 893.5h1l2 2v1l-2 2h-1l-2-2v-1zM128.5 894.5h1l2 2v1l-2 2h-1l-2-2v-1zM129.5 890.5h1l2 2v1l-2 2h-1l-2-2v-1zM130.5 892.5h1l2 2v1l-2 2h-1l-2-2v-1zM130.5 896.5h1l2 2v1l-2 2h-1l-2-2v-1zM131.5 891.5h1l2 2v1l-2 2h-1l-2-2v-1zM132.5 893.5h1l2 2v1l-2 2h-1l-2-2v-1zM132.5 891.5h1l2 2v1l-2 2h-1l-2-2v-1zM132.5 893.5h1l2 2v1l-2 2h-1l-2-2v-1zM133.5 895.5h1l2 2v1l-2 2h-1l-2-2v-1zM133.5 896.5h1l2 2v1l-2 2h-1l-2-2v-1zM134.5 894.5h1l2 2v1l-2 2h-1l-2-2v-1zM135.5 896.5h1l2 2v1l-2 2h-1l-2-2v-1zM135.5 895.5h1l2 2v1l-2 2h-1l-2-2v-1zM136.5 890.5h1l2 2v1l-2 2h-1l-2-2v-1zM136.5 894.5h1l2 2v1l-2 2h-1l-2-2v-1zM137.5 895.5h1l2 2v1l-2 2h-1l-2-2v-1zM137.5 892.5h1l2 2v1l-2 2h-1l-2-2v-1zM138.5 892.5h1l2 2v1l-2 2h-1l-2-2v-1zM139.5 890.5h1l2 2v1l-2 2h-1l-2-2v-1zM139.5 893.5h1l2 2v1l-2 2h-1l-2-2v-1zM140.5 891.5h1l2 2v1l-2 2h-1l-2-2v-1zM140.5 890.5h1l2 2v1l-2 2h-1l-2-2v-1zM141.5 893.5h1l2 2v1l-2 2h-1l-2-2v-1zM141.5 891.5h1l2 2v1l-2 2h-1l-2-2v-1zM142.5 896.5h1l2 2v1l-2 2h-1l-2-2v-1zM142.5 893.5h1l2 2v1l-2 2h-1l-2-2v-1zM143.5 893.5h1l2 2v1l-2 2h-1l-2-2v-1zM144.5 895.5h1l2 2v1l-2 2h-1l-2-2v-1zM144.5 890.5h1l2 2v1l-2 2h-1l-2-2v-1zM145.5 893.5h1l2 2v1l-2 2h-1l-2-2v-1zM145.5 891.5h1l2 2v1l-2 2h-1l-2-2v-1zM146.5 891.5h1l2 2v1l-2 2h-1l-2-2v-1zM147.5 896.5h1l2 2v1l-2 2h-1l-2-2v-1zM148.5 895.5h1l2 2v1l-2 2h-1l-2-2v-1zM149.5 896.5h1l2 2v1l-2 2h-1l-2-2v-1zM150.5 896.5h1l2 2v1l-2 2h-1l-2-2v-1zM150.5 890.5h1l2 2v1l-2 2h-1l-2-2v-1zM151.5 894.5h1l2 2v1l-2 2h-1l-2-2v-1zM151.5 895.5h1l2 2v1l-2 2h-1l-2-2v-1zM152.5 896.5h1l2 2v1l-2 2h-1l-2-2v-1zM153.5 891.5h1l2 2v1l-2 2h-1l-2-2v-1zM154.5 895.5h1l2 2v1l-2 2h-1l-2-2v-1zM155.5 892.5h1l2 2v1l-2 2h-1l-2-2v-1zM155.5 893.5h1l2 2v1l-2 2h-1l-2-2v-1zM156.5 893.5h1l2 2v1l-2 2h-1l-2-2v-1zM157.5 891.5h1l2 2v1l-2 2h-1l-2-2v-1zM157.5 893.5h1l2 2v1l-2 2h-1l-2-2v-1zM158.5 890.5h1l2 2v1l-2 2h-1l-2-2v-1zM159.5 891.5h1l2 2v1l-2 2h-1l-2-2v-1zM159.5 896.5h1l2 2v1l-2 2h-1l-2-2v-1zM160.5 891.5h1l2 2v1l-2 2h-1l-2-2v-1zM161.5 894.5h1l2 2v1l-2 2h-1l-2-2v-1zM161.5 895.5h1l2 2v1l-2 2h-1l-2-2v-1zM162.5 893.5h1l2 2v1l-2 2h-1l-2-2v-1zM163.5 893.5h1l2 2v1l-2 2h-1l-2-2v-1zM163.5 893.5h1l2 2v1l-2 2h-1l-2-2v-1zM163.5 890.5h1l2 2v1l-2 2h-1l-2-2v-1zM164.5 894.5h1l2 2v1l-2 2h-1l-2-2v-1zM165.5 895.5h1l2 2v1l-2 2h-1l-2-2v-1zM166.5 892.5h1l2 2v1l-2 2h-1l-2-2v-1zM166.5 894.5h1l2 2v1l-2 2h-1l-2-2v-1zM167.5 894.5h1l2 2v1l-2 2h-1l-2-2v-1zM168.5 891.5h1l2 2v1l-2 2h-1l-2-2v-1zM168.5 893.5h1l2 2v1l-2 2h-1l-2-2v-1zM169.5 892.5h1l2 2v1l-2 2h-1l-2-2v-1zM169.5 893.5h1l2 2v1l-2 2h-1l-2-2v-1zM170.5 893.5h1l2 2v1l-2 2h-1l-2-2v-1zM170.5 894.5h1l2 2v1l-2 2h-1l-2-2v-1zM171.5 895.5h1l2 2v1l-2 2h-1l-2-2v-1zM172.5 892.5h1l2 2v1l-2 2h-1l-2-2v-1zM172.5 895.5h1l2 2v1l-2 2h-1l-2-2v-1zM173.5 895.5h1l2 2v1l-2 2h-1l-2-2v-1zM174.5 892.5h1l2 2v1l-2 2h-1l-2-2v-1zM175.5 895.5h1l2 2v1l-2 2h-1l-2-2v-1zM175.5 894.5h1l2 2v1l-2 2h-1l-2-2v-1zM176.5 891.5h1l2 2v1l-2 2h-1l-2-2v-1zM176.5 893.5h1l2 2v1l-2 2h-1l-2-2v-1zM177.5 891.5h1l2 2v1l-2 2h-1l-2-2v-1zM177.5 894.5h1l2 2v1l-2 2h-1l-2-2v-1zM178.5 891.5h1l2 2v1l-2 2h-1l-2-2v-1zM178.5 890.5h1l2 2v1l-2 2h-1l-2-2v-1zM179.5 891.5h1l2 2v1l-2 2h-1l-2-2v-1zM180.5 890.5h1l2 2v1l-2 2h-1l-2-2v-1zM181.5 893.5h1l2 2v1l-2 2h-1l-2-2v-1zM182.5 892.5h1l2 2v1l-2 2h-1l-2-2v-1zM183.5 892.5h1l2 2v1l-2 2h-1l-2-2v-1zM183.5 895.5h1l2 2v1l-2 2h-1l-2-2v-1zM184.5 893.5h1l2 2v1l-2 2h-1l-2-2v-1zM185.5 895.5h1l2 2v1l-2 2h-1l-2-2v-1zM185.5 894.5h1l2 2v1l-2 2h-1l-2-2v-1zM186.5 891.5h1l2 2v1l-2 2h-1l-2-2v-1zM186.5 890.5h1l2 2v1l-2 2h-1l-2-2v-1zM187.5 891.5h1l2 2v1l-2 2h-1l-2-2v-1zM187.5 892.5h1l2 2v1l-2 2h-1l-2-2v-1zM188.5 891.5h1l2 2v1l-2 2h-1l-2-2v-1zM188.5 891.5h1l2 2v1l-2 2h-1l-2-2v-1zM189.5 894.5h1l2 2v1l-2 2h-1l-2-2v-1zM189.5 891.5h1l2 2v1l-2 2h-1l-2-2v-1zM190.5 893.5h1l2 2v1l-2 2h-1l-2-2v-1zM190.5 893.5h1l2 2v1l-2 2h-1l-2-2v-1zM191.5 894.5h1l2 2v1l-2 2h-1l-2-2v-1zM192.5 891.5h1l2 2v1l-2 2h-1l-2-2v-1zM193.5 891.5h1l2 2v1l-2 2h-1l-2-2v-1zM194.5 893.5h1l2 2v1l-2 2h-1l-2-2v-1zM195.5 892.5h1l2 2v1l-2 2h-1l-2-2v-1zM195.5 896.5h1l2 2v1l-2 2h-1l-2-2v-1zM195.5 895.5h1l2 2v1l-2 2h-1l-2-2v-1zM196.5 893.5h1l2 2v1l-2 2h-1l-2-2v-1zM196.5 895.5h1l2 2v1l-2 2h-1l-2-2v-1zM197.5 896.5h1l2 2v1l-2 2h-1l-2-2v-1zM198.5 896.5h1l2 2v1l-2 2h-1l-2-2v-1zM198.5 895.5h1l2 2v1l-2 2h-1l-2-2v-1zM199.5 892.5h1l2 2v1l-2 2h-1l-2-2v-1zM200.5 892.5h1l2 2v1l-2 2h-1l-2-2v-1zM201.5 892.5h1l2 2v1l-2 2h-1l-2-2v-1zM201.5 892.5h1l2 2v1l-2 2h-1l-2-2v-1zM202.5 895.5h1l2 2v1l-2 2h-1l-2-2v-1zM202.5 892.5h1l2 2v1l-2 2h-1l-2-2v-1zM203.5 894.5h1l2 2v1l-2 2h-1l-2-2v-1zM203.5 892.5h1l2 2v1l-2 2h-1l-2-2v-1zM204.5 896.5h1l2 2v1l-2 2h-1l-2-2v-1zM204.5 894.5h1l2 2v1l-2 2h-1l-2-2v-1zM204.5 893.5h1l2 2v1l-2 2h-1l-2-2v-1zM205.5 891.5h1l2 2v1l-2 2h-1l-2-2v-1zM206.5 892.5h1l2 2v1l-2 2h-1l-2-2v-1zM206.5 891.5h1l2 2v1l-2 2h-1l-2-2v-1zM207.5 891.5h1l2 2v1l-2 2h-1l-2-2v-1zM208.5 891.5h1l2 2v1l-2 2h-1l-2-2v-1zM208.5 892.5h1l2 2v1l-2 2h-1l-2-2v-1zM209.5 894.5h1l2 2v1l-2 2h-1l-2-2v-1zM209.5 895.5h1l2 2v1l-2 2h-1l-2-2v-1zM210.5 892.5h1l2 2v1l-2 2h-1l-2-2v-1zM210.5 894.5h1l2 2v1l-2 2h-1l-2-2v-1zM211.5 894.5h1l2 2v1l-2 2h-1l-2-2v-1zM211.5 892.5h1l2 2v1l-2 2h-1l-2-2v-1zM212.5 895.5h1l2 2v1l-2 2h-1l-2-2v-1zM212.5 894.5h1l2 2v1l-2 2h-1l-2-2v-1zM213.5 894.5h1l2 2v1l-2 2h-1l-2-2v-1zM213.5 891.5h1l2 2v1l-2 2h-1l-2-2v-1zM214.5 892.5h1l2 2v1l-2 2h-1l-2-2v-1zM215.5 892.5h1l2 2v1l-2 2h-1l-2-2v-1zM216.5 892.5h1l2 2v1l-2 2h-1l-2-2v-1zM217.5 895.5h1l2 2v1l-2 2h-1l-2-2v-1zM218.5 896.5h1l2 2v1l-2 2h-1l-2-2v-1zM219.5 893.5h1l2 2v1l-2 2h-1l-2-2v-1zM220.5 896.5h1l2 2v1l-2 2h-1l-2-2v-1zM221.5 894.5h1l2 2v1l-2 2h-1l-2-2v-1zM221.5 891.5h1l2 2v1l-2 2h-1l-2-2v-1zM222.5 891.5h1l2 2v1l-2 2h-1l-2-2v-1zM222.5 891.5h1l2 2v1l-2 2h-1l-2-2v-1zM222.5 895.5h1l2 2v1l-2 2h-1l-2-2v-1zM223.5 894.5h1l2 2v1l-2 2h-1l-2-2v-1zM223.5 893.5h1l2 2v1l-2 2h-1l-2-2v-1zM224.5 893.5h1l2 2v1l-2 2h-1l-2-2v-1zM224.5 893.5h1l2 2v1l-2 2h-1l-2-2v-1zM225.5 895.5h1l2 2v1l-2 2h-1l-2-2v-1zM225.5 892.5h1l2 2v1l-2 2h-1l-2-2v-1zM226.5 896.5h1l2 2v1l-2 2h-1l-2-2v-1zM226.5 894.5h1l2 2v1l-2 2h-1l-2-2v-1zM227.5 895.5h1l2 2v1l-2 2h-1l-2-2v-1zM228.5 892.5h1l2 2v1l-2 2h-1l-2-2v-1zM229.5 894.5h1l2 2v1l-2 2h-1l-2-2v-1zM230.5 895.5h1l2 2v1l-2 2h-1l-2-2v-1zM230.5 892.5h1l2 2v1l-2 2h-1l-2-2v-1zM231.5 892.5h1l2 2v1l-2 2h-1l-2-2v-1zM231.5 890.5h1l2 2v1l-2 2h-1l-2-2v-1zM231.5 891.5h1l2 2v1l-2 2h-1l-2-2v-1zM232.5 895.5h1l2 2v1l-2 2h-1l-2-2v-1zM233.5 891.5h1l2 2v1l-2 2h-1l-2-2v-1zM234.5 896.5h1l2 2v1l-2 2h-1l-2-2v-1zM235.5 892.5h1l2 2v1l-2 2h-1l-2-2v-1zM235.5 892.5h1l2 2v1l-2 2h-1l-2-2v-1zM236.5 895.5h1l2 2v1l-2 2h-1l-2-2v-1zM237.5 892.5h1l2 2v1l-2 2h-1l-2-2v-1zM237.5 893.5h1l2 2v1l-2 2h-1l-2-2v-1zM238.5 896.5h1l2 2v1l-2 2h-1l-2-2v-1zM238.5 896.5h1l2 2v1l-2 2h-1l-2-2v-1zM239.5 893.5h1l2 2v1l-2 2h-1l-2-2v-1zM240.5 891.5h1l2 2v1l-2 2h-1l-2-2v-1zM240.5 896.5h1l2 2v1l-2 2h-1l-2-2v-1zM241.5 895.5h1l2 2v1l-2 2h-1l-2-2v-1zM242.5 896.5h1l2 2v1l-2 2h-1l-2-2v-1zM242.5 893.5h1l2 2v1l-2 2h-1l-2-2v-1zM243.5 895.5h1l2 2v1l-2 2h-1l-2-2v-1zM243.5 890.5h1l2 2v1l-2 2h-1l-2-2v-1zM244.5 891.5h1l2 2v1l-2 2h-1l-2-2v-1zM244.5 894.5h1l2 2v1l-2 2h-1l-2-2v-1zM244.5 896.5h1l2 2v1l-2 2h-1l-2-2v-1zM245.5 893.5h1l2 2v1l-2 2h-1l-2-2v-1zM246.5 894.5h1l2 2v1l-2 2h-1l-2-2v-1zM246.5 893.5h1l2 2v1l-2 2h-1l-2-2v-1zM247.5 891.5h1l2 2v1l-2 2h-1l-2-2v-1zM247.5 895.5h1l2 2v1l-2 2h-1l-2-2v-1zM248.5 890.5h1l2 2v1l-2 2h-1l-2-2v-1zM249.5 893.5h1l2 2v1l-2 2h-1l-2-2v-1zM249.5 892.5h1l2 2v1l-2 2h-1l-2-2v-1zM249.5 893.5h1l2 2v1l-2 2h-1l-2-2v-1zM250.5 893.5h1l2 2v1l-2 2h-1l-2-2v-1zM250.5 890.5h1l2 2v1l-2 2h-1l-2-2v-1zM251.5 892.5h1l2 2v1l-2 2h-1l-2-2v-1zM251.5 892.5h1l2 2v1l-2 2h-1l-2-2v-1zM252.5 893.5h1l2 2v1l-2 2h-1l-2-2v-1zM253.5 892.5h1l2 2v1l-2 2h-1l-2-2v-1zM254.5 893.5h1l2 2v1l-2 2h-1l-2-2v-1zM255.5 896.5h1l2 2v1l-2 2h-1l-2-2v-1zM255.5 894.5h1l2 2v1l-2 2h-1l-2-2v-1zM256.5 893.5h1l2 2v1l-2 2h-1l-2-2v-1zM257.5 895.5h1l2 2v1l-2 2h-1l-2-2v-1zM257.5 895.5h1l2 2v1l-2 2h-1l-2-2v-1zM258.5 893.5h1l2 2v1l-2 2h-1l-2-2v-1zM258.5 892.5h1l2 2v1l-2 2h-1l-2-2v-1zM258.5 894.5h1l2 2v1l-2 2h-1l-2-2v-1zM259.5 892.5h1l2 2v1l-2 2h-1l-2-2v-1zM260.5 893.5h1l2 2v1l-2 2h-1l-2-2v-1zM261.5 894.5h1l2 2v1l-2 2h-1l-2-2v-1zM262.5 891.5h1l2 2v1l-2 2h-1l-2-2v-1zM262.5 893.5h1l2 2v1l-2 2h-1l-2-2v-1zM263.5 894.5h1l2 2v1l-2 2h-1l-2-2v-1zM263.5 895.5h1l2 2v1l-2 2h-1l-2-2v-1zM264.5 890.5h1l2 2v1l-2 2h-1l-2-2v-1zM264.5 892.5h1l2 2v1l-2 2h-1l-2-2v-1zM265.5 894.5h1l2 2v1l-2 2h-1l-2-2v-1zM266.5 894.5h1l2 2v1l-2 2h-1l-2-2v-1zM267.5 894.5h1l2 2v1l-2 2h-1l-2-2v-1zM267.5 892.5h1l2 2v1l-2 2h-1l-2-2v-1zM268.5 892.5h1l2 2v1l-2 2h-1l-2-2v-1zM268.5 890.5h1l2 2v1l-2 2h-1l-2-2v-1zM269.5 891.5h1l2 2v1l-2 2h-1l-2-2v-1zM270.5 892.5h1l2 2v1l-2 2h-1l-2-2v-1zM270.5 891.5h1l2 2v1l-2 2h-1l-2-2v-1zM271.5 894.5h1l2 2v1l-2 2h-1l-2-2v-1zM272.5 890.5h1l2 2v1l-2 2h-1l-2-2v-1zM273.5 893.5h1l2 2v1l-2 2h-1l-2-2v-1zM274.5 891.5h1l2 2v1l-2 2h-1l-2-2v-1zM274.5 895.5h1l2 2v1l-2 2h-1l-2-2v-1zM275.5 890.5h1l2 2v1l-2 2h-1l-2-2v-1zM275.5 891.5h1l2 2v1l-2 2h-1l-2-2v-1zM276.5 894.5h1l2 2v1l-2 2h-1l-2-2v-1zM276.5 893.5h1l2 2v1l-2 2h-1l-2-2v-1zM276.5 892.5h1l2 2v1l-2 2h-1l-2-2v-1zM277.5 893.5h1l2 2v1l-2 2h-1l-2-2v-1zM278.5 891.5h1l2 2v1l-2 2h-1l-2-2v-1zM278.5 891.5h1l2 2v1l-2 2h-1l-2-2v-1zM279.5 894.5h1l2 2v1l-2 2h-1l-2-2v-1zM279.5 895.5h1l2 2v1l-2 2h-1l-2-2v-1zM280.5 891.5h1l2 2v1l-2 2h-1l-2-2v-1zM280.5 892.5h1l2 2v1l-2 2h-1l-2-2v-1zM281.5 893.5h1l2 2v1l-2 2h-1l-2-2v-1zM281.5 892.5h1l2 2v1l-2 2h-1l-2-2v-1zM282.5 892.5h1l2 2v1l-2 2h-1l-2-2v-1zM282.5 893.5h1l2 2v1l-2 2h-1l-2-2v-1zM283.5 895.5h1l2 2v1l-2 2h-1l-2-2v-1zM284.5 895.5h1l2 2v1l-2 2h-1l-2-2v-1zM284.5 894.5h1l2 2v1l-2 2h-1l-2-2v-1zM285.5 895.5h1l2 2v1l-2 2h-1l-2-2v-1zM285.5 893.5h1l2 2v1l-2 2h-1l-2-2v-1zM286.5 895.5h1l2 2v1l-2 2h-1l-2-2v-1zM286.5 895.5h1l2 2v1l-2 2h-1l-2-2v-1zM287.5 892.5h1l2 2v1l-2 2h-1l-2-2v-1zM288.5 896.5h1l2 2v1l-2 2h-1l-2-2v-1zM288.5 891.5h1l2 2v1l-2 2h-1l-2-2v-1zM289.5 895.5h1l2 2v1l-2 2h-1l-2-2v-1zM289.5 892.5h1l2 2v1l-2 2h-1l-2-2v-1zM289.5 896.5h1l2 2v1l-2 2h-1l-2-2v-1zM290.5 892.5h1l2 2v1l-2 2h-1l-2-2v-1zM291.5 896.5h1l2 2v1l-2 2h-1l-2-2v-1zM291.5 895.5h1l2 2v1l-2 2h-1l-2-2v-1zM292.5 892.5h1l2 2v1l-2 2h-1l-2-2v-1zM292.5 892.5h1l2 2v1l-2 2h-1l-2-2v-1zM293.5 891.5h1l2 2v1l-2 2h-1l-2-2v-1zM294.5 891.5h1l2 2v1l-2 2h-1l-2-2v-1zM294.5 896.5h1l2 2v1l-2 2h-1l-2-2v-1zM295.5 896.5h1l2 2v1l-2 2h-1l-2-2v-1zM296.5 895.5h1l2 2v1l-2 2h-1l-2-2v-1zM297.5 896.5h1l2 2v1l-2 2h-1l-2-2v-1zM297.5 893.5h1l2 2v1l-2 2h-1l-2-2v-1zM298.5 891.5h1l2 2v1l-2 2h-1l-2-2v-1zM298.5 891.5h1l2 2v1l-2 2h-1l-2-2v-1zM298.5 895.5h1l2 2v1l-2 2h-1l-2-2v-1zM299.5 894.5h1l2 2v1l-2 2h-1l-2-2v-1zM300.5 894.5h1l2 2v1l-2 2h-1l-2-2v-1zM301.5 890.5h1l2 2v1l-2 2h-1l-2-2v-1zM302.5 896.5h1l2 2v1l-2 2h-1l-2-2v-1zM302.5 895.5h1l2 2v1l-2 2h-1l-2-2v-1zM303.5 893.5h1l2 2v1l-2 2h-1l-2-2v-1zM303.5 892.5h1l2 2v1l-2 2h-1l-2-2v-1zM304.5 893.5h1l2 2v1l-2 2h-1l-2-2v-1zM304.5 890.5h1l2 2v1l-2 2h-1l-2-2v-1zM305.5 896.5h1l2 2v1l-2 2h-1l-2-2v-1zM306.5 892.5h1l2 2v1l-2 2h-1l-2-2v-1zM307.5 896.5h1l2 2v1l-2 2h-1l-2-2v-1zM308.5 894.5h1l2 2v1l-2 2h-1l-2-2v-1zM308.5 895.5h1l2 2v1l-2 2h-1l-2-2v-1zM309.5 895.5h1l2 2v1l-2 2h-1l-2-2v-1zM309.5 894.5h1l2 2v1l-2 2h-1l-2-2v-1zM310.5 890.5h1l2 2v1l-2 2h-1l-2-2v-1zM310.5 896.5h1l2 2v1l-2 2h-1l-2-2v-1zM311.5 893.5h1l2 2v1l-2 2h-1l-2-2v-1zM311.5 892.5h1l2 2v1l-2 2h-1l-2-2v-1zM312.5 895.5h1l2 2v1l-2 2h-1l-2-2v-1zM313.5 893.5h1l2 2v1l-2 2h-1l-2-2v-1zM313.5 891.5h1l2 2v1l-2 2h-1l-2-2v-1zM314.5 894.5h1l2 2v1l-2 2h-1l-2-2v-1zM314.5 891.5h1l2 2v1l-2 2h-1l-2-2v-1zM315.5 891.5h1l2 2v1l-2 2h-1l-2-2v-1zM316.5 894.5h1l2 2v1l-2 2h-1l-2-2v-1zM316.5 896.5h1l2 2v1l-2 2h-1l-2-2v-1zM316.5 893.5h1l2 2v1l-2 2h-1l-2-2v-1zM317.5 892.5h1l2 2v1l-2 2h-1l-2-2v-1zM318.5 892.5h1l2 2v1l-2 2h-1l-2-2v-1zM318.5 894.5h1l2 2v1l-2 2h-1l-2-2v-1zM319.5 891.5h1l2 2v1l-2 2h-1l-2-2v-1zM320.5 891.5h1l2 2v1l-2 2h-1l-2-2v-1zM320.5 892.5h1l2 2v1l-2 2h-1l-2-2v-1zM321.5 892.5h1l2 2v1l-2 2h-1l-2-2v-1zM322.5 896.5h1l2 2v1l-2 2h-1l-2-2v-1zM322.5 892.5h1l2 2v1l-2 2h-1l-2-2v-1zM323.5 895.5h1l2 2v1l-2 2h-1l-2-2v-1zM323.5 895.5h1l2 2v1l-2 2h-1l-2-2v-1zM324.5 894.5h1l2 2v1l-2 2h-1l-2-2v-1zM324.5 892.5h1l2 2v1l-2 2h-1l-2-2v-1zM325.5 894.5h1l2 2v1l-2 2h-1l-2-2v-1zM325.5 894.5h1l2 2v1l-2 2h-1l-2-2v-1zM326.5 891.5h1l2 2v1l-2 2h-1l-2-2v-1zM326.5 894.5h1l2 2v1l-2 2h-1l-2-2v-1zM327.5 895.5h1l2 2v1l-2 2h-1l-2-2v-1zM327.5 894.5h1l2 2v1l-2 2h-1l-2-2v-1zM328.5 893.5h1l2 2v1l-2 2h-1l-2-2v-1zM329.5 893.5h1l2 2v1l-2 2h-1l-2-2v-1zM329.5 896.5h1l2 2v1l-2 2h-1l-2-2v-1zM330.5 893.5h1l2 2v1l-2 2h-1l-2-2v-1zM331.5 893.5h1l2 2v1l-2 2h-1l-2-2v-1zM332.5 896.5h1l2 2v1l-2 2h-1l-2-2v-1zM332.5 890.5h1l2 2v1l-2 2h-1l-2-2v-1zM333.5 893.5h1l2 2v1l-2 2h-1l-2-2v-1zM333.5 890.5h1l2 2v1l-2 2h-1l-2-2v-1zM334.5 895.5h1l2 2v1l-2 2h-1l-2-2v-1zM334.5 891.5h1l2 2v1l-2 2h-1l-2-2v-1zM335.5 894.5h1l2 2v1l-2 2h-1l-2-2v-1zM335.5 895.5h1l2 2v1l-2 2h-1l-2-2v-1zM336.5 896.5h1l2 2v1l-2 2h-1l-2-2v-1zM337.5 893.5h1l2 2v1l-2 2h-1l-2-2v-1zM338.5 890.5h1l2 2v1l-2 2h-1l-2-2v-1zM338.5 895.5h1l2 2v1l-2 2h-1l-2-2v-1zM339.5 896.5h1l2 2v1l-2 2h-1l-2-2v-1zM340.5 896.5h1l2 2v1l-2 2h-1l-2-2v-1zM340.5 892.5h1l2 2v1l-2 2h-1l-2-2v-1zM341.5 893.5h1l2 2v1l-2 2h-1l-2-2v-1zM342.5 894.5h1l2 2v1l-2 2h-1l-2-2v-1zM343.5 890.5h1l2 2v1l-2 2h-1l-2-2v-1zM344.5 892.5h1l2 2v1l-2 2h-1l-2-2v-1zM344.5 895.5h1l2 2v1l-2 2h-1l-2-2v-1zM345.5 895.5h1l2 2v1l-2 2h-1l-2-2v-1zM345.5 891.5h1l2 2v1l-2 2h-1l-2-2v-1zM346.5 896.5h1l2 2v1l-2 2h-1l-2-2v-1zM346.5 894.5h1l2 2v1l-2 2h-1l-2-2v-1zM347.5 894.5h1l2 2v1l-2 2h-1l-2-2v-1zM347.5 890.5h1l2 2v1l-2 2h-1l-2-2v-1zM347.5 896.5h1l2 2v1l-2 2h-1l-2-2v-1zM348.5 894.5h1l2 2v1l-2 2h-1l-2-2v-1zM348.5 894.5h1l2 2v1l-2 2h-1l-2-2v-1zM349.5 895.5h1l2 2v1l-2 2h-1l-2-2v-1zM350.5 894.5h1l2 2v1l-2 2h-1l-2-2v-1zM351.5 895.5h1l2 2v1l-2 2h-1l-2-2v-1zM352.5 894.5h1l2 2v1l-2 2h-1l-2-2v-1zM352.5 896.5h1l2 2v1l-2 2h-1l-2-2v-1zM353.5 891.5h1l2 2v1l-2 2h-1l-2-2v-1zM353.5 893.5h1l2 2v1l-2 2h-1l-2-2v-1zM354.5 892.5h1l2 2v1l-2 2h-1l-2-2v-1zM355.5 892.5h1l2 2v1l-2 2h-1l-2-2v-1zM356.5 896.5h1l2 2v1l-2 2h-1l-2-2v-1zM356.5 896.5h1l2 2v1l-2 2h-1l-2-2v-1zM356.5 893.5h1l2 2v1l-2 2h-1l-2-2v-1zM357.5 894.5h1l2 2v1l-2 2h-1l-2-2v-1zM357.5 892.5h1l2 2v1l-2 2h-1l-2-2v-1zM358.5 890.5h1l2 2v1l-2 2h-1l-2-2v-1zM359.5 893.5h1l2 2v1l-2 2h-1l-2-2v-1zM360.5 896.5h1l2 2v1l-2 2h-1l-2-2v-1zM361.5 896.5h1l2 2v1l-2 2h-1l-2-2v-1zM361.5 893.5h1l2 2v1l-2 2h-1l-2-2v-1zM361.5 896.5h1l2 2v1l-2 2h-1l-2-2v-1zM362.5 894.5h1l2 2v1l-2 2h-1l-2-2v-1zM363.5 893.5h1l2 2v1l-2 2h-1l-2-2v-1zM363.5 892.5h1l2 2v1l-2 2h-1l-2-2v-1zM364.5 895.5h1l2 2v1l-2 2h-1l-2-2v-1zM364.5 896.5h1l2 2v1l-2 2h-1l-2-2v-1zM365.5 893.5h1l2 2v1l-2 2h-1l-2-2v-1zM365.5 893.5h1l2 2v1l-2 2h-1l-2-2v-1zM365.5 891.5h1l2 2v1l-2 2h-1l-2-2v-1zM366.5 893.5h1l2 2v1l-2 2h-1l-2-2v-1zM367.5 892.5h1l2 2v1l-2 2h-1l-2-2v-1zM367.5 896.5h1l2 2v1l-2 2h-1l-2-2v-1zM368.5 892.5h1l2 2v1l-2 2h-1l-2-2v-1zM368.5 893.5h1l2 2v1l-2 2h-1l-2-2v-1zM369.5 893.5h1l2 2v1l-2 2h-1l-2-2v-1zM369.5 892.5h1l2 2v1l-2 2h-1l-2-2v-1zM370.5 895.5h1l2 2v1l-2 2h-1l-2-2v-1zM370.5 893.5h1l2 2v1l-2 2h-1l-2-2v-1zM371.5 893.5h1l2 2v1l-2 2h-1l-2-2v-1zM371.5 894.5h1l2 2v1l-2 2h-1l-2-2v-1zM372.5 894.5h1l2 2v1l-2 2h-1l-2-2v-1zM373.5 896.5h1l2 2v1l-2 2h-1l-2-2v-1zM373.5 896.5h1l2 2v1l-2 2h-1l-2-2v-1zM374.5 892.5h1l2 2v1l-2 2h-1l-2-2v-1zM374.5 896.5h1l2 2v1l-2 2h-1l-2-2v-1zM374.5 895.5h1l2 2v1l-2 2h-1l-2-2v-1zM375.5 891.5h1l2 2v1l-2 2h-1l-2-2v-1zM375.5 894.5h1l2 2v1l-2 2h-1l-2-2v-1zM376.5 890.5h1l2 2v1l-2 2h-1l-2-2v-1zM377.5 890.5h1l2 2v1l-2 2h-1l-2-2v-1zM378.5 891.5h1l2 2v1l-2 2h-1l-2-2v-1zM378.5 893.5h1l2 2v1l-2 2h-1l-2-2v-1zM379.5 891.5h1l2 2v1l-2 2h-1l-2-2v-1zM379.5 895.5h1l2 2v1l-2 2h-1l-2-2v-1zM380.5 893.5h1l2 2v1l-2 2h-1l-2-2v-1zM380.5 894.5h1l2 2v1l-2 2h-1l-2-2v-1zM381.5 896.5h1l2 2v1l-2 2h-1l-2-2v-1zM382.5 891.5h1l2 2v1l-2 2h-1l-2-2v-1zM382.5 895.5h1l2 2v1l-2 2h-1l-2-2v-1zM383.5 893.5h1l2 2v1l-2 2h-1l-2-2v-1zM383.5 896.5h1l2 2v1l-2 2h-1l-2-2v-1zM383.5 891.5h1l2 2v1l-2 2h-1l-2-2v-1zM384.5 896.5h1l2 2v1l-2 2h-1l-2-2v-1zM384.5 891.5h1l2 2v1l-2 2h-1l-2-2v-1zM385.5 895.5h1l2 2v1l-2 2h-1l-2-2v-1zM386.5 893.5h1l2 2v1l-2 2h-1l-2-2v-1zM387.5 894.5h1l2 2v1l-2 2h-1l-2-2v-1zM387.5 893.5h1l2 2v1l-2 2h-1l-2-2v-1zM388.5 892.5h1l2 2v1l-2 2h-1l-2-2v-1zM388.5 891.5h1l2 2v1l-2 2h-1l-2-2v-1zM389.5 896.5h1l2 2v1l-2 2h-1l-2-2v-1zM390.5 891.5h1l2 2v1l-2 2h-1l-2-2v-1zM390.5 894.5h1l2 2v1l-2 2h-1l-2-2v-1zM391.5 890.5h1l2 2v1l-2 2h-1l-2-2v-1zM392.5 894.5h1l2 2v1l-2 2h-1l-2-2v-1zM392.5 892.5h1l2 2v1l-2 2h-1l-2-2v-1zM393.5 894.5h1l2 2v1l-2 2h-1l-2-2v-1zM393.5 891.5h1l2 2v1l-2 2h-1l-2-2v-1zM394.5 896.5h1l2 2v1l-2 2h-1l-2-2v-1zM394.5 894.5h1l2 2v1l-2 2h-1l-2-2v-1zM395.5 890.5h1l2 2v1l-2 2h-1l-2-2v-1zM396.5 894.5h1l2 2v1l-2 2h-1l-2-2v-1zM397.5 891.5h1l2 2v1l-2 2h-1l-2-2v-1zM397.5 891.5h1l2 2v1l-2 2h-1l-2-2v-1zM397.5 890.5h1l2 2v1l-2 2h-1l-2-2v-1zM398.5 893.5h1l2 2v1l-2 2h-1l-2-2v-1zM398.5 891.5h1l2 2v1l-2 2h-1l-2-2v-1zM399.5 890.5h1l2 2v1l-2 2h-1l-2-2v-1zM399.5 896.5h1l2 2v1l-2 2h-1l-2-2v-1zM400.5 895.5h1l2 2v1l-2 2h-1l-2-2v-1zM400.5 894.5h1l2 2v1l-2 2h-1l-2-2v-1zM401.5 896.5h1l2 2v1l-2 2h-1l-2-2v-1zM401.5 893.5h1l2 2v1l-2 2h-1l-2-2v-1zM402.5 896.5h1l2 2v1l-2 2h-1l-2-2v-1zM403.5 893.5h1l2 2v1l-2 2h-1l-2-2v-1zM404.5 891.5h1l2 2v1l-2 2h-1l-2-2v-1zM405.5 891.5h1l2 2v1l-2 2h-1l-2-2v-1zM405.5 895.5h1l2 2v1l-2 2h-1l-2-2v-1zM406.5 895.5h1l2 2v1l-2 2h-1l-2-2v-1zM406.5 896.5h1l2 2v1l-2 2h-1l-2-2v-1zM406.5 893.5h1l2 2v1l-2 2h-1l-2-2v-1zM407.5 895.5h1l2 2v1l-2 2h-1l-2-2v-1zM407.5 894.5h1l2 2v1l-2 2h-1l-2-2v-1zM408.5 894.5h1l2 2v1l-2 2h-1l-2-2v-1zM408.5 894.5h1l2 2v1l-2 2h-1l-2-2v-1zM409.5 890.5h1l2 2v1l-2 2h-1l-2-2v-1zM410.5 893.5h1l2 2v1l-2 2h-1l-2-2v-1zM410.5 893.5h1l2 2v1l-2 2h-1l-2-2v-1zM410.5 890.5h1l2 2v1l-2 2h-1l-2-2v-1zM411.5 891.5h1l2 2v1l-2 2h-1l-2-2v-1zM412.5 890.5h1l2 2v1l-2 2h-1l-2-2v-1zM413.5 894.5h1l2 2v1l-2 2h-1l-2-2v-1zM414.5 896.5h1l2 2v1l-2 2h-1l-2-2v-1zM415.5 895.5h1l2 2v1l-2 2h-1l-2-2v-1zM415.5 896.5h1l2 2v1l-2 2h-1l-2-2v-1zM416.5 891.5h1l2 2v1l-2 2h-1l-2-2v-1zM417.5 896.5h1l2 2v1l-2 2h-1l-2-2v-1zM418.5 896.5h1l2 2v1l-2 2h-1l-2-2v-1zM419.5 894.5h1l2 2v1l-2 2h-1l-2-2v-1zM419.5 895.5h1l2 2v1l-2 2h-1l-2-2v-1zM419.5 896.5h1l2 2v1l-2 2h-1l-2-2v-1zM420.5 891.5h1l2 2v1l-2 2h-1l-2-2v-1zM421.5 891.5h1l2 2v1l-2 2h-1l-2-2v-1zM421.5 891.5h1l2 2v1l-2 2h-1l-2-2v-1zM422.5 895.5h1l2 2v1l-2 2h-1l-2-2v-1zM422.5 896.5h1l2 2v1l-2 2h-1l-2-2v-1zM423.5 891.5h1l2 2v1l-2 2h-1l-2-2v-1zM424.5 893.5h1l2 2v1l-2 2h-1l-2-2v-1zM424.5 896.5h1l2 2v1l-2 2h-1l-2-2v-1zM424.5 891.5h1l2 2v1l-2 2h-1l-2-2v-1zM425.5 890.5h1l2 2v1l-2 2h-1l-2-2v-1zM426.5 896.5h1l2 2v1l-2 2h-1l-2-2v-1zM426.5 894.5h1l2 2v1l-2 2h-1l-2-2v-1zM427.5 895.5h1l2 2v1l-2 2h-1l-2-2v-1zM427.5 893.5h1l2 2v1l-2 2h-1l-2-2v-1zM428.5 892.5h1l2 2v1l-2 2h-1l-2-2v-1zM428.5 896.5h1l2 2v1l-2 2h-1l-2-2v-1zM428.5 895.5h1l2 2v1l-2 2h-1l-2-2v-1zM429.5 892.5h1l2 2v1l-2 2h-1l-2-2v-1zM429.5 895.5h1l2 2v1l-2 2h-1l-2-2v-1zM430.5 891.5h1l2 2v1l-2 2h-1l-2-2v-1zM430.5 893.5h1l2 2v1l-2 2h-1l-2-2v-1zM431.5 891.5h1l2 2v1l-2 2h-1l-2-2v-1zM432.5 895.5h1l2 2v1l-2 2h-1l-2-2v-1zM432.5 891.5h1l2 2v1l-2 2h-1l-2-2v-1zM433.5 891.5h1l2 2v1l-2 2h-1l-2-2v-1zM433.5 893.5h1l2 2v1l-2 2h-1l-2-2v-1zM434.5 890.5h1l2 2v1l-2 2h-1l-2-2v-1zM434.5 894.5h1l2 2v1l-2 2h-1l-2-2v-1zM435.5 893.5h1l2 2v1l-2 2h-1l-2-2v-1zM435.5 894.5h1l2 2v1l-2 2h-1l-2-2v-1zM436.5 890.5h1l2 2v1l-2 2h-1l-2-2v-1zM436.5 896.5h1l2 2v1l-2 2h-1l-2-2v-1zM437.5 893.5h1l2 2v1l-2 2h-1l-2-2v-1zM437.5 892.5h1l2 2v1l-2 2h-1l-2-2v-1zM438.5 891.5h1l2 2v1l-2 2h-1l-2-2v-1zM439.5 895.5h1l2 2v1l-2 2h-1l-2-2v-1zM440.5 890.5h1l2 2v1l-2 2h-1l-2-2v-1zM441.5 896.5h1l2 2v1l-2 2h-1l-2-2v-1zM442.5 894.5h1l2 2v1l-2 2h-1l-2-2v-1zM442.5 893.5h1l2 2v1l-2 2h-1l-2-2v-1zM443.5 893.5h1l2 2v1l-2 2h-1l-2-2v-1zM444.5 891.5h1l2 2v1l-2 2h-1l-2-2v-1zM445.5 896.5h1l2 2v1l-2 2h-1l-2-2v-1zM445.5 895.5h1l2 2v1l-2 2h-1l-2-2v-1zM446.5 894.5h1l2 2v1l-2 2h-1l-2-2v-1zM446.5 893.5h1l2 2v1l-2 2h-1l-2-2v-1zM447.5 895.5h1l2 2v1l-2 2h-1l-2-2v-1zM448.5 891.5h1l2 2v1l-2 2h-1l-2-2v-1zM448.5 891.5h1l2 2v1l-2 2h-1l-2-2v-1zM449.5 894.5h1l2 2v1l-2 2h-1l-2-2v-1zM449.5 892.5h1l2 2v1l-2 2h-1l-2-2v-1zM450.5 896.5h1l2 2v1l-2 2h-1l-2-2v-1zM451.5 891.5h1l2 2v1l-2 2h-1l-2-2v-1zM451.5 896.5h1l2 2v1l-2 2h-1l-2-2v-1zM451.5 891.5h1l2 2v1l-2 2h-1l-2-2v-1zM452.5 890.5h1l2 2v1l-2 2h-1l-2-2v-1zM452.5 891.5h1l2 2v1l-2 2h-1l-2-2v-1zM453.5 892.5h1l2 2v1l-2 2h-1l-2-2v-1zM454.5 896.5h1l2 2v1l-2 2h-1l-2-2v-1zM455.5 894.5h1l2 2v1l-2 2h-1l-2-2v-1zM455.5 896.5h1l2 2v1l-2 2h-1l-2-2v-1zM456.5 893.5h1l2 2v1l-2 2h-1l-2-2v-1zM456.5 890.5h1l2 2v1l-2 2h-1l-2-2v-1zM457.5 890.5h1l2 2v1l-2 2h-1l-2-2v-1zM457.5 891.5h1l2 2v1l-2 2h-1l-2-2v-1zM458.5 896.5h1l2 2v1l-2 2h-1l-2-2v-1zM459.5 893.5h1l2 2v1l-2 2h-1l-2-2v-1zM459.5 893.5h1l2 2v1l-2 2h-1l-2-2v-1zM460.5 894.5h1l2 2v1l-2 2h-1l-2-2v-1zM460.5 893.5h1l2 2v1l-2 2h-1l-2-2v-1zM460.5 891.5h1l2 2v1l-2 2h-1l-2-2v-1zM461.5 895.5h1l2 2v1l-2 2h-1l-2-2v-1zM461.5 896.5h1l2 2v1l-2 2h-1l-2-2v-1zM462.5 893.5h1l2 2v1l-2 2h-1l-2-2v-1zM463.5 895.5h1l2 2v1l-2 2h-1l-2-2v-1zM463.5 893.5h1l2 2v1l-2 2h-1l-2-2v-1zM464.5 893.5h1l2 2v1l-2 2h-1l-2-2v-1zM464.5 892.5h1l2 2v1l-2 2h-1l-2-2v-1zM465.5 893.5h1l2 2v1l-2 2h-1l-2-2v-1zM465.5 896.5h1l2 2v1l-2 2h-1l-2-2v-1zM466.5 891.5h1l2 2v1l-2 2h-1l-2-2v-1zM467.5 895.5h1l2 2v1l-2 2h-1l-2-2v-1zM467.5 894.5h1l2 2v1l-2 2h-1l-2-2v-1zM468.5 891.5h1l2 2v1l-2 2h-1l-2-2v-1zM469.5 894.5h1l2 2v1l-2 2h-1l-2-2v-1zM469.5 893.5h1l2 2v1l-2 2h-1l-2-2v-1zM470.5 892.5h1l2 2v1l-2 2h-1l-2-2v-1zM471.5 894.5h1l2 2v1l-2 2h-1l-2-2v-1zM471.5 892.5h1l2 2v1l-2 2h-1l-2-2v-1zM472.5 892.5h1l2 2v1l-2 2h-1l-2-2v-1zM473.5 895.5h1l2 2v1l-2 2h-1l-2-2v-1zM473.5 894.5h1l2 2v1l-2 2h-1l-2-2v-1zM474.5 895.5h1l2 2v1l-2 2h-1l-2-2v-1zM474.5 896.5h1l2 2v1l-2 2h-1l-2-2v-1zM475.5 893.5h1l2 2v1l-2 2h-1l-2-2v-1zM476.5 894.5h1l2 2v1l-2 2h-1l-2-2v-1zM477.5 891.5h1l2 2v1l-2 2h-1l-2-2v-1zM478.5 891.5h1l2 2v1l-2 2h-1l-2-2v-1zM478.5 896.5h1l2 2v1l-2 2h-1l-2-2v-1zM479.5 891.5h1l2 2v1l-2 2h-1l-2-2v-1zM480.5 891.5h1l2 2v1l-2 2h-1l-2-2v-1zM481.5 894.5h1l2 2v1l-2 2h-1l-2-2v-1zM482.5 890.5h1l2 2v1l-2 2h-1l-2-2v-1zM482.5 896.5h1l2 2v1l-2 2h-1l-2-2v-1zM483.5 895.5h1l2 2v1l-2 2h-1l-2-2v-1zM484.5 890.5h1l2 2v1l-2 2h-1l-2-2v-1zM484.5 890.5h1l2 2v1l-2 2h-1l-2-2v-1zM485.5 896.5h1l2 2v1l-2 2h-1l-2-2v-1zM486.5 894.5h1l2 2v1l-2 2h-1l-2-2v-1zM487.5 891.5h1l2 2v1l-2 2h-1l-2-2v-1zM487.5 890.5h1l2 2v1l-2 2h-1l-2-2v-1zM487.5 893.5h1l2 2v1l-2 2h-1l-2-2v-1zM488.5 891.5h1l2 2v1l-2 2h-1l-2-2v-1zM488.5 893.5h1l2 2v1l-2 2h-1l-2-2v-1zM489.5 893.5h1l2 2v1l-2 2h-1l-2-2v-1zM490.5 895.5h1l2 2v1l-2 2h-1l-2-2v-1zM491.5 890.5h1l2 2v1l-2 2h-1l-2-2v-1zM491.5 892.5h1l2 2v1l-2 2h-1l-2-2v-1zM491.5 894.5h1l2 2v1l-2 2h-1l-2-2v-1zM492.5 892.5h1l2 2v1l-2 2h-1l-2-2v-1zM492.5 895.5h1l2 2v1l-2 2h-1l-2-2v-1zM493.5 891.5h1l2 2v1l-2 2h-1l-2-2v-1zM494.5 893.5h1l2 2v1l-2 2h-1l-2-2v-1zM495.5 893.5h1l2 2v1l-2 2h-1l-2-2v-1zM496.5 895.5h1l2 2v1l-2 2h-1l-2-2v-1zM497.5 894.5h1l2 2v1l-2 2h-1l-2-2v-1zM498.5 892.5h1l2 2v1l-2 2h-1l-2-2v-1zM499.5 896.5h1l2 2v1l-2 2h-1l-2-2v-1zM499.5 893.5h1l2 2v1l-2 2h-1l-2-2v-1zM500.5 891.5h1l2 2v1l-2 2h-1l-2-2v-1zM500.5 893.5h1l2 2v1l-2 2h-1l-2-2v-1zM501.5 896.5h1l2 2v1l-2 2h-1l-2-2v-1zM502.5 891.5h1l2 2v1l-2 2h-1l-2-2v-1zM502.5 895.5h1l2 2v1l-2 2h-1l-2-2v-1zM503.5 891.5h1l2 2v1l-2 2h-1l-2-2v-1zM503.5 896.5h1l2 2v1l-2 2h-1l-2-2v-1zM504.5 896.5h1l2 2v1l-2 2h-1l-2-2v-1zM505.5 895.5h1l2 2v1l-2 2h-1l-2-2v-1zM505.5 890.5h1l2 2v1l-2 2h-1l-2-2v-1zM506.5 895.5h1l2 2v1l-2 2h-1l-2-2v-1zM507.5 891.5h1l2 2v1l-2 2h-1l-2-2v-1zM507.5 894.5h1l2 2v1l-2 2h-1l-2-2v-1zM508.5 893.5h1l2 2v1l-2 2h-1l-2-2v-1zM509.5 896.5h1l2 2v1l-2 2h-1l-2-2v-1zM509.5 892.5h1l2 2v1l-2 2h-1l-2-2v-1zM510.5 891.5h1l2 2v1l-2 2h-1l-2-2v-1zM511.5 890.5h1l2 2v1l-2 2h-1l-2-2v-1zM512.5 892.5h1l2 2v1l-2 2h-1l-2-2v-1zM512.5 890.5h1l2 2v1l-2 2h-1l-2-2v-1zM513.5 895.5h1l2 2v1l-2 2h-1l-2-2v-1zM514.5 894.5h1l2 2v1l-2 2h-1l-2-2v-1zM514.5 891.5h1l2 2v1l-2 2h-1l-2-2v-1zM515.5 891.5h1l2 2v1l-2 2h-1l-2-2v-1zM515.5 896.5h1l2 2v1l-2 2h-1l-2-2v-1zM516.5 896.5h1l2 2v1l-2 2h-1l-2-2v-1zM517.5 891.5h1l2 2v1l-2 2h-1l-2-2v-1zM518.5 893.5h1l2 2v1l-2 2h-1l-2-2v-1zM518.5 896.5h1l2 2v1l-2 2h-1l-2-2v-1zM518.5 890.5h1l2 2v1l-2 2h-1l-2-2v-1zM519.5 894.5h1l2 2v1l-2 2h-1l-2-2v-1zM520.5 892.5h1l2 2v1l-2 2h-1l-2-2v-1zM520.5 894.5h1l2 2v1l-2 2h-1l-2-2v-1zM521.5 890.5h1l2 2v1l-2 2h-1l-2-2v-1zM521.5 896.5h1l2 2v1l-2 2h-1l-2-2v-1zM522.5 890.5h1l2 2v1l-2 2h-1l-2-2v-1zM522.5 891.5h1l2 2v1l-2 2h-1l-2-2v-1zM523.5 893.5h1l2 2v1l-2 2h-1l-2-2v-1zM524.5 894.5h1l2 2v1l-2 2h-1l-2-2v-1zM524.5 893.5h1l2 2v1l-2 2h-1l-2-2v-1zM525.5 892.5h1l2 2v1l-2 2h-1l-2-2v-1zM526.5 893.5h1l2 2v1l-2 2h-1l-2-2v-1zM527.5 892.5h1l2 2v1l-2 2h-1l-2-2v-1zM527.5 892.5h1l2 2v1l-2 2h-1l-2-2v-1zM527.5 892.5h1l2 2v1l-2 2h-1l-2-2v-1zM528.5 895.5h1l2 2v1l-2 2h-1l-2-2v-1zM529.5 894.5h1l2 2v1l-2 2h-1l-2-2v-1zM530.5 890.5h1l2 2v1l-2 2h-1l-2-2v-1zM530.5 891.5h1l2 2v1l-2 2h-1l-2-2v-1zM531.5 892.5h1l2 2v1l-2 2h-1l-2-2v-1zM531.5 894.5h1l2 2v1l-2 2h-1l-2-2v-1zM532.5 894.5h1l2 2v1l-2 2h-1l-2-2v-1zM532.5 894.5h1l2 2v1l-2 2h-1l-2-2v-1zM532.5 896.5h1l2 2v1l-2 2h-1l-2-2v-1zM533.5 893.5h1l2 2v1l-2 2h-1l-2-2v-1zM534.5 895.5h1l2 2v1l-2 2h-1l-2-2v-1zM535.5 891.5h1l2 2v1l-2 2h-1l-2-2v-1zM536.5 891.5h1l2 2v1l-2 2h-1l-2-2v-1zM536.5 894.5h1l2 2v1l-2 2h-1l-2-2v-1zM536.5 894.5h1l2 2v1l-2 2h-1l-2-2v-1zM537.5 895.5h1l2 2v1l-2 2h-1l-2-2v-1zM538.5 892.5h1l2 2v1l-2 2h-1l-2-2v-1zM538.5 892.5h1l2 2v1l-2 2h-1l-2-2v-1zM539.5 892.5h1l2 2v1l-2 2h-1l-2-2v-1zM540.5 896.5h1l2 2v1l-2 2h-1l-2-2v-1zM541.5 891.5h1l2 2v1l-2 2h-1l-2-2v-1zM541.5 891.5h1l2 2v1l-2 2h-1l-2-2v-1zM541.5 891.5h1l2 2v1l-2 2h-1l-2-2v-1zM542.5 891.5h1l2 2v1l-2 2h-1l-2-2v-1zM542.5 895.5h1l2 2v1l-2 2h-1l-2-2v-1zM543.5 895.5h1l2 2v1l-2 2h-1l-2-2v-1zM544.5 890.5h1l2 2v1l-2 2h-1l-2-2v-1zM545.5 892.5h1l2 2v1l-2 2h-1l-2-2v-1zM545.5 894.5h1l2 2v1l-2 2h-1l-2-2v-1zM545.5 895.5h1l2 2v1l-2 2h-1l-2-2v-1zM546.5 891.5h1l2 2v1l-2 2h-1l-2-2v-1zM547.5 893.5h1l2 2v1l-2 2h-1l-2-2v-1zM547.5 893.5h1l2 2v1l-2 2h-1l-2-2v-1zM548.5 895.5h1l2 2v1l-2 2h-1l-2-2v-1zM549.5 895.5h1l2 2v1l-2 2h-1l-2-2v-1zM549.5 891.5h1l2 2v1l-2 2h-1l-2-2v-1zM550.5 894.5h1l2 2v1l-2 2h-1l-2-2v-1zM550.5 894.5h1l2 2v1l-2 2h-1l-2-2v-1zM550.5 896.5h1l2 2v1l-2 2h-1l-2-2v-1zM551.5 895.5h1l2 2v1l-2 2h-1l-2-2v-1zM552.5 895.5h1l2 2v1l-2 2h-1l-2-2v-1zM553.5 889.5h1l2 2v1l-2 2h-1l-2-2v-1zM553.5 890.5h1l2 2v1l-2 2h-1l-2-2v-1zM554.5 889.5h1l2 2v1l-2 2h-1l-2-2v-1zM554.5 892.5h1l2 2v1l-2 2h-1l-2-2v-1zM555.5 890.5h1l2 2v1l-2 2h-1l-2-2v-1zM556.5 890.5h1l2 2v1l-2 2h-1l-2-2v-1zM556.5 891.5h1l2 2v1l-2 2h-1l-2-2v-1zM557.5 891.5h1l2 2v1l-2 2h-1l-2-2v-1zM558.5 888.5h1l2 2v1l-2 2h-1l-2-2v-1zM559.5 887.5h1l2 2v1l-2 2h-1l-2-2v-1zM559.5 890.5h1l2 2v1l-2 2h-1l-2-2v-1zM559.5 890.5h1l2 2v1l-2 2h-1l-2-2v-1zM560.5 890.5h1l2 2v1l-2 2h-1l-2-2v-1zM561.5 890.5h1l2 2v1l-2 2h-1l-2-2v-1zM562.5 887.5h1l2 2v1l-2 2h-1l-2-2v-1zM563.5 889.5h1l2 2v1l-2 2h-1l-2-2v-1zM563.5 887.5h1l2 2v1l-2 2h-1l-2-2v-1zM563.5 888.5h1l2 2v1l-2 2h-1l-2-2v-1zM564.5 890.5h1l2 2v1l-2 2h-1l-2-2v-1zM565.5 888.5h1l2 2v1l-2 2h-1l-2-2v-1zM566.5 889.5h1l2 2v1l-2 2h-1l-2-2v-1zM566.5 888.5h1l2 2v1l-2 2h-1l-2-2v-1zM567.5 891.5h1l2 2v1l-2 2h-1l-2-2v-1zM567.5 891.5h1l2 2v1l-2 2h-1l-2-2v-1zM568.5 891.5h1l2 2v1l-2 2h-1l-2-2v-1zM568.5 891.5h1l2 2v1l-2 2h-1l-2-2v-1zM568.5 892.5h1l2 2v1l-2 2h-1l-2-2v-1zM569.5 890.5h1l2 2v1l-2 2h-1l-2-2v-1zM570.5 887.5h1l2 2v1l-2 2h-1l-2-2v-1zM571.5 888.5h1l2 2v1l-2 2h-1l-2-2v-1zM571.5 888.5h1l2 2v1l-2 2h-1l-2-2v-1zM572.5 888.5h1l2 2v1l-2 2h-1l-2-2v-1zM572.5 891.5h1l2 2v1l-2 2h-1l-2-2v-1zM572.5 891.5h1l2 2v1l-2 2h-1l-2-2v-1zM573.5 892.5h1l2 2v1l-2 2h-1l-2-2v-1zM573.5 890.5h1l2 2v1l-2 2h-1l-2-2v-1zM574.5 889.5h1l2 2v1l-2 2h-1l-2-2v-1zM574.5 890.5h1l2 2v1l-2 2h-1l-2-2v-1zM575.5 889.5h1l2 2v1l-2 2h-1l-2-2v-1zM576.5 891.5h1l2 2v1l-2 2h-1l-2-2v-1zM577.5 892.5h1l2 2v1l-2 2h-1l-2-2v-1zM577.5 892.5h1l2 2v1l-2 2h-1l-2-2v-1zM577.5 890.5h1l2 2v1l-2 2h-1l-2-2v-1zM578.5 891.5h1l2 2v1l-2 2h-1l-2-2v-1zM579.5 891.5h1l2 2v1l-2 2h-1l-2-2v-1zM580.5 888.5h1l2 2v1l-2 2h-1l-2-2v-1zM581.5 889.5h1l2 2v1l-2 2h-1l-2-2v-1zM581.5 889.5h1l2 2v1l-2 2h-1l-2-2v-1zM582.5 889.5h1l2 2v1l-2 2h-1l-2-2v-1zM582.5 891.5h1l2 2v1l-2 2h-1l-2-2v-1zM583.5 888.5h1l2 2v1l-2 2h-1l-2-2v-1zM584.5 890.5h1l2 2v1l-2 2h-1l-2-2v-1zM585.5 892.5h1l2 2v1l-2 2h-1l-2-2v-1zM585.5 892.5h1l2 2v1l-2 2h-1l-2-2v-1zM586.5 889.5h1l2 2v1l-2 2h-1l-2-2v-1zM586.5 891.5h1l2 2v1l-2 2h-1l-2-2v-1zM586.5 889.5h1l2 2v1l-2 2h-1l-2-2v-1zM587.5 890.5h1l2 2v1l-2 2h-1l-2-2v-1zM587.5 890.5h1l2 2v1l-2 2h-1l-2-2v-1zM588.5 887.5h1l2 2v1l-2 2h-1l-2-2v-1zM588.5 890.5h1l2 2v1l-2 2h-1l-2-2v-1zM589.5 890.5h1l2 2v1l-2 2h-1l-2-2v-1zM590.5 892.5h1l2 2v1l-2 2h-1l-2-2v-1zM590.5 890.5h1l2 2v1l-2 2h-1l-2-2v-1zM591.5 889.5h1l2 2v1l-2 2h-1l-2-2v-1zM592.5 890.5h1l2 2v1l-2 2h-1l-2-2v-1zM592.5 890.5h1l2 2v1l-2 2h-1l-2-2v-1zM593.5 890.5h1l2 2v1l-2 2h-1l-2-2v-1zM594.5 888.5h1l2 2v1l-2 2h-1l-2-2v-1zM595.5 890.5h1l2 2v1l-2 2h-1l-2-2v-1zM596.5 889.5h1l2 2v1l-2 2h-1l-2-2v-1zM597.5 890.5h1l2 2v1l-2 2h-1l-2-2v-1zM54.5 859.5h1l2 2v1l-2 2h-1l-2-2v-1zM54.5 863.5h1l2 2v1l-2 2h-1l-2-2v-1zM54.5 867.5h1l2 2v1l-2 2h-1l-2-2v-1zM54.5 873.5h1l2 2v1l-2 2h-1l-2-2v-1zM54.5 879.5h1l2 2v1l-2 2h-1l-2-2v-1zM54.5 884.5h1l2 2v1l-2 2h-1l-2-2v-1zM89.5 863.5h1l2 2v1l-2 2h-1l-2-2v-1zM89.5 875.5h1l2 2v1l-2 2h-1l-2-2v-1zM89.5 878.5h1l2 2v1l-2 2h-1l-2-2v-1zM89.5 881.5h1l2 2v1l-2 2h-1l-2-2v-1zM89.5 884.5h1l2 2v1l-2 2h-1l-2-2v-1zM105.5 859.5h1l2 2v1l-2 2h-1l-2-2v-1zM105.5 880.5h1l2 2v1l-2 2h-1l-2-2v-1zM115.5 870.5h1l2 2v1l-2 2h-1l-2-2v-1zM115.5 873.5h1l2 2v1l-2 2h-1l-2-2v-1zM115.5 876.5h1l2 2v1l-2 2h-1l-2-2v-1zM132.5 866.5h1l2 2v1l-2 2h-1l-2-2v-1zM132.5 869.5h1l2 2v1l-2 2h-1l-2-2v-1zM132.5 877.5h1l2 2v1l-2 2h-1l-2-2v-1zM158.5 884.5h1l2 2v1l-2 2h-1l-2-2v-1zM174.5 865.5h1l2 2v1l-2 2h-1l-2-2v-1zM174.5 871.5h1l2 2v1l-2 2h-1l-2-2v-1zM174.5 882.5h1l2 2v1l-2 2h-1l-2-2v-1zM180.5 879.5h1l2 2v1l-2 2h-1l-2-2v-1zM190.5 878.5h1l2 2v1l-2 2h-1l-2-2v-1zM199.5 881.5h1l2 2v1l-2 2h-1l-2-2v-1zM206.5 882.5h1l2 2v1l-2 2h-1l-2-2v-1zM216.5 865.5h1l2 2v1l-2 2h-1l-2-2v-1zM216.5 870.5h1l2 2v1l-2 2h-1l-2-2v-1zM216.5 874.5h1l2 2v1l-2 2h-1l-2-2v-1zM216.5 877.5h1l2 2v1l-2 2h-1l-2-2v-1zM256.5 857.5h1l2 2v1l-2 2h-1l-2-2v-1zM256.5 869.5h1l2 2v1l-2 2h-1l-2-2v-1zM256.5 875.5h1l2 2v1l-2 2h-1l-2-2v-1zM256.5 882.5h1l2 2v1l-2 2h-1l-2-2v-1zM301.5 861.5h1l2 2v1l-2 2h-1l-2-2v-1zM301.5 863.5h1l2 2v1l-2 2h-1l-2-2v-1zM301.5 879.5h1l2 2v1l-2 2h-1l-2-2v-1zM346.5 866.5h1l2 2v1l-2 2h-1l-2-2v-1zM346.5 868.5h1l2 2v1l-2 2h-1l-2-2v-1zM346.5 871.5h1l2 2v1l-2 2h-1l-2-2v-1zM346.5 874.5h1l2 2v1l-2 2h-1l-2-2v-1zM346.5 877.5h1l2 2v1l-2 2h-1l-2-2v-1zM346.5 880.5h1l2 2v1l-2 2h-1l-2-2v-1zM346.5 884.5h1l2 2v1l-2 2h-1l-2-2v-1zM398.5 859.5h1l2 2v1l-2 2h-1l-2-2v-1zM398.5 862.5h1l2 2v1l-2 2h-1l-2-2v-1zM398.5 865.5h1l2 2v1l-2 2h-1l-2-2v-1zM398.5 868.5h1l2 2v1l-2 2h-1l-2-2v-1zM398.5 871.5h1l2 2v1l-2 2h-1l-2-2v-1zM398.5 875.5h1l2 2v1l-2 2h-1l-2-2v-1zM439.5 870.5h1l2 2v1l-2 2h-1l-2-2v-1zM439.5 873.5h1l2 2v1l-2 2h-1l-2-2v-1zM439.5 876.5h1l2 2v1l-2 2h-1l-2-2v-1zM439.5 879.5h1l2 2v1l-2 2h-1l-2-2v-1zM471.5 873.5h1l2 2v1l-2 2h-1l-2-2v-1zM471.5 877.5h1l2 2v1l-2 2h-1l-2-2v-1zM521.5 871.5h1l2 2v1l-2 2h-1l-2-2v-1zM521.5 876.5h1l2 2v1l-2 2h-1l-2-2v-1zM521.5 879.5h1l2 2v1l-2 2h-1l-2-2v-1zM521.5 881.5h1l2 2v1l-2 2h-1l-2-2v-1zM553.5 863.5h1l2 2v1l-2 2h-1l-2-2v-1zM553.5 866.5h1l2 2v1l-2 2h-1l-2-2v-1zM553.5 869.5h1l2 2v1l-2 2h-1l-2-2v-1zM553.5 872.5h1l2 2v1l-2 2h-1l-2-2v-1zM553.5 875.5h1l2 2v1l-2 2h-1l-2-2v-1zM553.5 879.5h1l2 2v1l-2 2h-1l-2-2v-1zM561.5 876.5h1l2 2v1l-2 2h-1l-2-2v-1zM570.5 879.5h1l2 2v1l-2 2h-1l-2-2v-1zM579.5 874.5h1l2 2v1l-2 2h-1l-2-2v-1zM579.5 881.5h1l2 2v1l-2 2h-1l-2-2v-1zM586.5 884.5h1l2 2v1l-2 2h-1l-2-2v-1zM596.5 871.5h1l2 2v1l-2 2h-1l-2-2v-1zM596.5 874.5h1l2 2v1l-2 2h-1l-2-2v-1zM596.5 877.5h1l2 2v1l-2 2h-1l-2-2v-1zM596.5 880.5h1l2 2v1l-2 2h-1l-2-2v-1zM596.5 882.5h1l2 2v1l-2 2h-1l-2-2v-1z"/>
</g>
<rect x="53" y="833" width="1" height="84" fill="#000"/>
<rect x="600" y="833" width="1" height="84" fill="#000"/>
<rect x="48" y="833" width="553" height="1" fill="#000"/>
<rect x="48" y="916" width="553" height="1" fill="#000"/>
<rect x="48" y="888" width="6" height="1" fill="#000"/>
<text x="3.00" y="849" font-size="17.2" textLength="19.99" lengthAdjust="spacingAndGlyphs">dB</text>
<text x="43.50" y="894" font-size="17.2" text-anchor="end" textLength="18.18" lengthAdjust="spacingAndGlyphs">10</text>
<rect x="53" y="919" width="1" height="5" fill="#000"/>
<rect x="86" y="919" width="1" height="5" fill="#000"/>
<rect x="120" y="919" width="1" height="5" fill="#000"/>
<rect x="153" y="919" width="1" height="5" fill="#000"/>
<rect x="187" y="919" width="1" height="5" fill="#000"/>
<rect x="220" y="919" width="1" height="5" fill="#000"/>
<rect x="254" y="919" width="1" height="5" fill="#000"/>
<rect x="287" y="919" width="1" height="5" fill="#000"/>
<rect x="320" y="919" width="1" height="5" fill="#000"/>
<rect x="354" y="919" width="1" height="5" fill="#000"/>
<rect x="387" y="919" width="1" height="5" fill="#000"/>
<rect x="421" y="919" width="1" height="5" fill="#000"/>
<rect x="454" y="919" width="1" height="5" fill="#000"/>
<rect x="488" y="919" width="1" height="5" fill="#000"/>
<rect x="521" y="919" width="1" height="5" fill="#000"/>
<rect x="554" y="919" width="1" height="5" fill="#000"/>
<rect x="588" y="919" width="1" height="5" fill="#000"/>
<rect x="73.2986103125" y="928" width="27.762779374999997" height="14" fill="#fff"/>
<text x="86.93" y="940" font-size="17.2" text-anchor="middle" textLength="27.26" lengthAdjust="spacingAndGlyphs">200</text>
<rect x="106.7286103125" y="928" width="27.762779374999997" height="14" fill="#fff"/>
<text x="120.36" y="940" font-size="17.2" text-anchor="middle" textLength="27.26" lengthAdjust="spacingAndGlyphs">400</text>
<rect x="140.1586103125" y="928" width="27.762779374999997" height="14" fill="#fff"/>
<text x="153.79" y="940" font-size="17.2" text-anchor="middle" textLength="27.26" lengthAdjust="spacingAndGlyphs">600</text>
<rect x="173.5886103125" y="928" width="27.762779374999997" height="14" fill="#fff"/>
<text x="187.22" y="940" font-size="17.2" text-anchor="middle" textLength="27.26" lengthAdjust="spacingAndGlyphs">800</text>
<rect x="202.47481375" y="928" width="36.85037249999999" height="14" fill="#fff"/>
<text x="220.65" y="940" font-size="17.2" text-anchor="middle" textLength="36.35" lengthAdjust="spacingAndGlyphs">1000</text>
<rect x="235.90481375" y="928" width="36.85037249999999" height="14" fill="#fff"/>
<text x="254.08" y="940" font-size="17.2" text-anchor="middle" textLength="36.35" lengthAdjust="spacingAndGlyphs">1200</text>
<rect x="269.33481374999997" y="928" width="36.85037249999999" height="14" fill="#fff"/>
<text x="287.51" y="940" font-size="17.2" text-anchor="middle" textLength="36.35" lengthAdjust="spacingAndGlyphs">1400</text>
<rect x="302.76481375000003" y="928" width="36.85037249999999" height="14" fill="#fff"/>
<text x="320.94" y="940" font-size="17.2" text-anchor="middle" textLength="36.35" lengthAdjust="spacingAndGlyphs">1600</text>
<rect x="336.19481375" y="928" width="36.85037249999999" height="14" fill="#fff"/>
<text x="354.37" y="940" font-size="17.2" text-anchor="middle" textLength="36.35" lengthAdjust="spacingAndGlyphs">1800</text>
<rect x="369.62481375000004" y="928" width="36.85037249999999" height="14" fill="#fff"/>
<text x="387.80" y="940" font-size="17.2" text-anchor="middle" textLength="36.35" lengthAdjust="spacingAndGlyphs">2000</text>
<rect x="403.05481375" y="928" width="36.85037249999999" height="14" fill="#fff"/>
<text x="421.23" y="940" font-size="17.2" text-anchor="middle" textLength="36.35" lengthAdjust="spacingAndGlyphs">2200</text>
<rect x="436.48481374999994" y="928" width="36.85037249999999" height="14" fill="#fff"/>
<text x="454.66" y="940" font-size="17.2" text-anchor="middle" textLength="36.35" lengthAdjust="spacingAndGlyphs">2400</text>
<rect x="469.91481375" y="928" width="36.85037249999999" height="14" fill="#fff"/>
<text x="488.09" y="940" font-size="17.2" text-anchor="middle" textLength="36.35" lengthAdjust="spacingAndGlyphs">2600</text>
<rect x="503.34481374999996" y="928" width="36.85037249999999" height="14" fill="#fff"/>
<text x="521.52" y="940" font-size="17.2" text-anchor="middle" textLength="36.35" lengthAdjust="spacingAndGlyphs">2800</text>
<rect x="536.77481375" y="928" width="36.85037249999999" height="14" fill="#fff"/>
<text x="554.95" y="940" font-size="17.2" text-anchor="middle" textLength="36.35" lengthAdjust="spacingAndGlyphs">3000</text>
<text x="601.50" y="940" font-size="17.2" text-anchor="end" textLength="8.17" lengthAdjust="spacingAndGlyphs">s</text>
</svg></body></html>
